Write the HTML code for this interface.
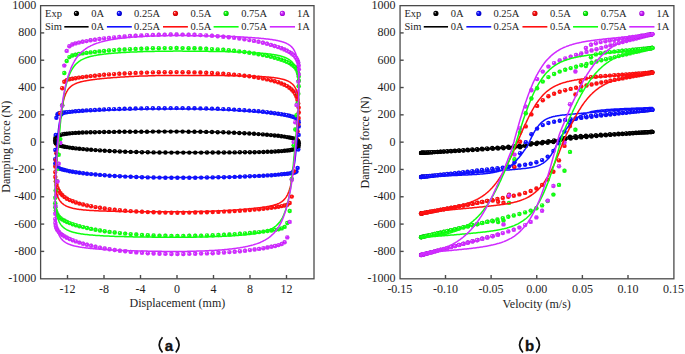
<!DOCTYPE html>
<html><head><meta charset="utf-8"><style>
html,body{margin:0;padding:0;background:#fff;}
svg{display:block;}
.tk{font-family:"Liberation Serif",serif;font-size:12px;fill:#1e1e1e;}
.lg{font-family:"Liberation Serif",serif;font-size:10.5px;fill:#1e1e1e;}
.sub{font-family:"Liberation Sans",sans-serif;font-size:15px;font-weight:bold;fill:#111;}
</style></head><body>
<svg width="685" height="354" viewBox="0 0 685 354">
<defs>
<clipPath id="cb"><rect x="400.5" y="6" width="272.8" height="272.3"/></clipPath>
<clipPath id="ca"><rect x="41" y="6" width="272.5" height="272.3"/></clipPath>
<radialGradient id="pm" cx="0.52" cy="0.55" r="0.55" fx="0.36" fy="0.33"><stop offset="0" stop-color="#f4d0ff"/><stop offset="0.28" stop-color="#cf2bff"/><stop offset="0.8" stop-color="#cf2bff"/><stop offset="1" stop-color="#9a00cc"/></radialGradient>
<radialGradient id="pg" cx="0.52" cy="0.55" r="0.55" fx="0.36" fy="0.33"><stop offset="0" stop-color="#d0ffd0"/><stop offset="0.28" stop-color="#10ff10"/><stop offset="0.8" stop-color="#10ff10"/><stop offset="1" stop-color="#00b000"/></radialGradient>
<radialGradient id="pr" cx="0.52" cy="0.55" r="0.55" fx="0.36" fy="0.33"><stop offset="0" stop-color="#ffd0d0"/><stop offset="0.28" stop-color="#ff1010"/><stop offset="0.8" stop-color="#ff1010"/><stop offset="1" stop-color="#c00000"/></radialGradient>
<radialGradient id="pb" cx="0.52" cy="0.55" r="0.55" fx="0.36" fy="0.33"><stop offset="0" stop-color="#c8c8ff"/><stop offset="0.28" stop-color="#1010ff"/><stop offset="0.8" stop-color="#1010ff"/><stop offset="1" stop-color="#0000c0"/></radialGradient>
<radialGradient id="pk" cx="0.52" cy="0.55" r="0.55" fx="0.36" fy="0.33"><stop offset="0" stop-color="#d8d8d8"/><stop offset="0.28" stop-color="#000000"/><stop offset="0.8" stop-color="#000000"/><stop offset="1" stop-color="#000000"/></radialGradient>
<radialGradient id="gk" cx="0.5" cy="0.5" r="0.5" fx="0.32" fy="0.3"><stop offset="0" stop-color="#d8d8d8"/><stop offset="0.45" stop-color="#000000"/><stop offset="1" stop-color="#000000"/></radialGradient>
<radialGradient id="gb" cx="0.5" cy="0.5" r="0.5" fx="0.32" fy="0.3"><stop offset="0" stop-color="#c8c8ff"/><stop offset="0.45" stop-color="#1010ff"/><stop offset="1" stop-color="#0000c0"/></radialGradient>
<radialGradient id="gr" cx="0.5" cy="0.5" r="0.5" fx="0.32" fy="0.3"><stop offset="0" stop-color="#ffd0d0"/><stop offset="0.45" stop-color="#ff1010"/><stop offset="1" stop-color="#c00000"/></radialGradient>
<radialGradient id="gg" cx="0.5" cy="0.5" r="0.5" fx="0.32" fy="0.3"><stop offset="0" stop-color="#d0ffd0"/><stop offset="0.45" stop-color="#10ff10"/><stop offset="1" stop-color="#00b000"/></radialGradient>
<radialGradient id="gm" cx="0.5" cy="0.5" r="0.5" fx="0.32" fy="0.3"><stop offset="0" stop-color="#f4d0ff"/><stop offset="0.45" stop-color="#cf2bff"/><stop offset="1" stop-color="#9a00cc"/></radialGradient>
</defs>
<g clip-path="url(#ca)">
<circle cx="182.6" cy="131.6" r="2.2" fill="url(#pk)"/>
<circle cx="188.6" cy="131.7" r="2.2" fill="url(#pk)"/>
<circle cx="194.5" cy="131.7" r="2.2" fill="url(#pk)"/>
<circle cx="200.4" cy="131.8" r="2.2" fill="url(#pk)"/>
<circle cx="206.2" cy="131.9" r="2.2" fill="url(#pk)"/>
<circle cx="212.0" cy="132.0" r="2.2" fill="url(#pk)"/>
<circle cx="217.7" cy="132.2" r="2.2" fill="url(#pk)"/>
<circle cx="223.3" cy="132.3" r="2.2" fill="url(#pk)"/>
<circle cx="228.8" cy="132.5" r="2.2" fill="url(#pk)"/>
<circle cx="234.1" cy="132.7" r="2.2" fill="url(#pk)"/>
<circle cx="239.3" cy="133.0" r="2.2" fill="url(#pk)"/>
<circle cx="244.4" cy="133.2" r="2.2" fill="url(#pk)"/>
<circle cx="249.3" cy="133.5" r="2.2" fill="url(#pk)"/>
<circle cx="254.0" cy="133.8" r="2.2" fill="url(#pk)"/>
<circle cx="258.5" cy="134.1" r="2.2" fill="url(#pk)"/>
<circle cx="262.9" cy="134.4" r="2.2" fill="url(#pk)"/>
<circle cx="267.0" cy="134.7" r="2.2" fill="url(#pk)"/>
<circle cx="270.9" cy="135.1" r="2.2" fill="url(#pk)"/>
<circle cx="274.6" cy="135.5" r="2.2" fill="url(#pk)"/>
<circle cx="278.1" cy="135.8" r="2.2" fill="url(#pk)"/>
<circle cx="281.3" cy="136.2" r="2.2" fill="url(#pk)"/>
<circle cx="284.3" cy="136.6" r="2.2" fill="url(#pk)"/>
<circle cx="287.0" cy="137.1" r="2.2" fill="url(#pk)"/>
<circle cx="289.4" cy="137.5" r="2.2" fill="url(#pk)"/>
<circle cx="291.6" cy="137.9" r="2.2" fill="url(#pk)"/>
<circle cx="293.5" cy="138.4" r="2.2" fill="url(#pk)"/>
<circle cx="295.1" cy="138.9" r="2.2" fill="url(#pk)"/>
<circle cx="296.4" cy="139.5" r="2.2" fill="url(#pk)"/>
<circle cx="297.4" cy="140.2" r="2.2" fill="url(#pk)"/>
<circle cx="298.2" cy="141.0" r="2.2" fill="url(#pk)"/>
<circle cx="298.7" cy="142.1" r="2.2" fill="url(#pk)"/>
<circle cx="298.8" cy="143.6" r="2.2" fill="url(#pk)"/>
<circle cx="298.7" cy="145.6" r="2.2" fill="url(#pk)"/>
<circle cx="298.3" cy="147.4" r="2.2" fill="url(#pk)"/>
<circle cx="297.6" cy="147.9" r="2.2" fill="url(#pk)"/>
<circle cx="296.5" cy="148.5" r="2.2" fill="url(#pk)"/>
<circle cx="295.3" cy="148.9" r="2.2" fill="url(#pk)"/>
<circle cx="293.7" cy="149.4" r="2.2" fill="url(#pk)"/>
<circle cx="291.8" cy="149.8" r="2.2" fill="url(#pk)"/>
<circle cx="289.7" cy="150.2" r="2.2" fill="url(#pk)"/>
<circle cx="287.3" cy="150.5" r="2.2" fill="url(#pk)"/>
<circle cx="284.6" cy="150.8" r="2.2" fill="url(#pk)"/>
<circle cx="281.7" cy="151.1" r="2.2" fill="url(#pk)"/>
<circle cx="278.5" cy="151.3" r="2.2" fill="url(#pk)"/>
<circle cx="275.1" cy="151.5" r="2.2" fill="url(#pk)"/>
<circle cx="271.4" cy="151.7" r="2.2" fill="url(#pk)"/>
<circle cx="267.5" cy="151.8" r="2.2" fill="url(#pk)"/>
<circle cx="263.4" cy="152.0" r="2.2" fill="url(#pk)"/>
<circle cx="259.1" cy="152.1" r="2.2" fill="url(#pk)"/>
<circle cx="254.6" cy="152.2" r="2.2" fill="url(#pk)"/>
<circle cx="249.9" cy="152.2" r="2.2" fill="url(#pk)"/>
<circle cx="245.0" cy="152.3" r="2.2" fill="url(#pk)"/>
<circle cx="239.9" cy="152.3" r="2.2" fill="url(#pk)"/>
<circle cx="234.7" cy="152.4" r="2.2" fill="url(#pk)"/>
<circle cx="229.4" cy="152.4" r="2.2" fill="url(#pk)"/>
<circle cx="224.0" cy="152.5" r="2.2" fill="url(#pk)"/>
<circle cx="218.4" cy="152.5" r="2.2" fill="url(#pk)"/>
<circle cx="212.7" cy="152.5" r="2.2" fill="url(#pk)"/>
<circle cx="207.0" cy="152.5" r="2.2" fill="url(#pk)"/>
<circle cx="201.1" cy="152.6" r="2.2" fill="url(#pk)"/>
<circle cx="195.2" cy="152.6" r="2.2" fill="url(#pk)"/>
<circle cx="189.3" cy="152.6" r="2.2" fill="url(#pk)"/>
<circle cx="183.3" cy="152.6" r="2.2" fill="url(#pk)"/>
<circle cx="177.4" cy="152.6" r="2.2" fill="url(#pk)"/>
<circle cx="171.4" cy="152.6" r="2.2" fill="url(#pk)"/>
<circle cx="165.4" cy="152.5" r="2.2" fill="url(#pk)"/>
<circle cx="159.5" cy="152.5" r="2.2" fill="url(#pk)"/>
<circle cx="153.6" cy="152.4" r="2.2" fill="url(#pk)"/>
<circle cx="147.8" cy="152.3" r="2.2" fill="url(#pk)"/>
<circle cx="142.0" cy="152.2" r="2.2" fill="url(#pk)"/>
<circle cx="136.3" cy="152.0" r="2.2" fill="url(#pk)"/>
<circle cx="130.7" cy="151.9" r="2.2" fill="url(#pk)"/>
<circle cx="125.2" cy="151.7" r="2.2" fill="url(#pk)"/>
<circle cx="119.9" cy="151.5" r="2.2" fill="url(#pk)"/>
<circle cx="114.7" cy="151.2" r="2.2" fill="url(#pk)"/>
<circle cx="109.6" cy="151.0" r="2.2" fill="url(#pk)"/>
<circle cx="104.7" cy="150.7" r="2.2" fill="url(#pk)"/>
<circle cx="100.0" cy="150.4" r="2.2" fill="url(#pk)"/>
<circle cx="95.5" cy="150.1" r="2.2" fill="url(#pk)"/>
<circle cx="91.1" cy="149.8" r="2.2" fill="url(#pk)"/>
<circle cx="87.0" cy="149.5" r="2.2" fill="url(#pk)"/>
<circle cx="83.1" cy="149.1" r="2.2" fill="url(#pk)"/>
<circle cx="79.4" cy="148.8" r="2.2" fill="url(#pk)"/>
<circle cx="75.9" cy="148.4" r="2.2" fill="url(#pk)"/>
<circle cx="72.7" cy="148.0" r="2.2" fill="url(#pk)"/>
<circle cx="69.7" cy="147.6" r="2.2" fill="url(#pk)"/>
<circle cx="67.0" cy="147.1" r="2.2" fill="url(#pk)"/>
<circle cx="64.6" cy="146.7" r="2.2" fill="url(#pk)"/>
<circle cx="62.4" cy="146.3" r="2.2" fill="url(#pk)"/>
<circle cx="60.5" cy="145.8" r="2.2" fill="url(#pk)"/>
<circle cx="58.9" cy="145.3" r="2.2" fill="url(#pk)"/>
<circle cx="57.6" cy="144.7" r="2.2" fill="url(#pk)"/>
<circle cx="56.6" cy="144.1" r="2.2" fill="url(#pk)"/>
<circle cx="55.8" cy="143.2" r="2.2" fill="url(#pk)"/>
<circle cx="55.3" cy="142.1" r="2.2" fill="url(#pk)"/>
<circle cx="55.2" cy="140.6" r="2.2" fill="url(#pk)"/>
<circle cx="55.3" cy="138.7" r="2.2" fill="url(#pk)"/>
<circle cx="55.7" cy="136.9" r="2.2" fill="url(#pk)"/>
<circle cx="56.4" cy="136.4" r="2.2" fill="url(#pk)"/>
<circle cx="57.5" cy="135.8" r="2.2" fill="url(#pk)"/>
<circle cx="58.7" cy="135.3" r="2.2" fill="url(#pk)"/>
<circle cx="60.3" cy="134.9" r="2.2" fill="url(#pk)"/>
<circle cx="62.2" cy="134.4" r="2.2" fill="url(#pk)"/>
<circle cx="64.3" cy="134.0" r="2.2" fill="url(#pk)"/>
<circle cx="66.7" cy="133.7" r="2.2" fill="url(#pk)"/>
<circle cx="69.4" cy="133.4" r="2.2" fill="url(#pk)"/>
<circle cx="72.3" cy="133.1" r="2.2" fill="url(#pk)"/>
<circle cx="75.5" cy="132.9" r="2.2" fill="url(#pk)"/>
<circle cx="78.9" cy="132.7" r="2.2" fill="url(#pk)"/>
<circle cx="82.6" cy="132.5" r="2.2" fill="url(#pk)"/>
<circle cx="86.5" cy="132.4" r="2.2" fill="url(#pk)"/>
<circle cx="90.6" cy="132.3" r="2.2" fill="url(#pk)"/>
<circle cx="94.9" cy="132.2" r="2.2" fill="url(#pk)"/>
<circle cx="99.4" cy="132.1" r="2.2" fill="url(#pk)"/>
<circle cx="104.1" cy="132.0" r="2.2" fill="url(#pk)"/>
<circle cx="109.0" cy="131.9" r="2.2" fill="url(#pk)"/>
<circle cx="114.1" cy="131.9" r="2.2" fill="url(#pk)"/>
<circle cx="119.3" cy="131.8" r="2.2" fill="url(#pk)"/>
<circle cx="124.6" cy="131.8" r="2.2" fill="url(#pk)"/>
<circle cx="130.0" cy="131.7" r="2.2" fill="url(#pk)"/>
<circle cx="135.6" cy="131.7" r="2.2" fill="url(#pk)"/>
<circle cx="141.3" cy="131.7" r="2.2" fill="url(#pk)"/>
<circle cx="147.0" cy="131.7" r="2.2" fill="url(#pk)"/>
<circle cx="152.9" cy="131.6" r="2.2" fill="url(#pk)"/>
<circle cx="158.8" cy="131.6" r="2.2" fill="url(#pk)"/>
<circle cx="164.7" cy="131.6" r="2.2" fill="url(#pk)"/>
<circle cx="170.7" cy="131.6" r="2.2" fill="url(#pk)"/>
<circle cx="176.6" cy="131.6" r="2.2" fill="url(#pk)"/>
<circle cx="182.6" cy="108.1" r="2.2" fill="url(#pb)"/>
<circle cx="188.6" cy="108.2" r="2.2" fill="url(#pb)"/>
<circle cx="194.5" cy="108.3" r="2.2" fill="url(#pb)"/>
<circle cx="200.4" cy="108.4" r="2.2" fill="url(#pb)"/>
<circle cx="206.2" cy="108.5" r="2.2" fill="url(#pb)"/>
<circle cx="212.0" cy="108.6" r="2.2" fill="url(#pb)"/>
<circle cx="217.7" cy="108.8" r="2.2" fill="url(#pb)"/>
<circle cx="223.3" cy="109.1" r="2.2" fill="url(#pb)"/>
<circle cx="228.8" cy="109.3" r="2.2" fill="url(#pb)"/>
<circle cx="234.1" cy="109.6" r="2.2" fill="url(#pb)"/>
<circle cx="239.3" cy="109.9" r="2.2" fill="url(#pb)"/>
<circle cx="244.4" cy="110.2" r="2.2" fill="url(#pb)"/>
<circle cx="249.3" cy="110.6" r="2.2" fill="url(#pb)"/>
<circle cx="254.0" cy="110.9" r="2.2" fill="url(#pb)"/>
<circle cx="258.5" cy="111.3" r="2.2" fill="url(#pb)"/>
<circle cx="262.9" cy="111.8" r="2.2" fill="url(#pb)"/>
<circle cx="267.0" cy="112.2" r="2.2" fill="url(#pb)"/>
<circle cx="270.9" cy="112.7" r="2.2" fill="url(#pb)"/>
<circle cx="274.6" cy="113.2" r="2.2" fill="url(#pb)"/>
<circle cx="278.1" cy="113.7" r="2.2" fill="url(#pb)"/>
<circle cx="281.3" cy="114.2" r="2.2" fill="url(#pb)"/>
<circle cx="284.3" cy="114.7" r="2.2" fill="url(#pb)"/>
<circle cx="287.0" cy="115.3" r="2.2" fill="url(#pb)"/>
<circle cx="289.4" cy="115.8" r="2.2" fill="url(#pb)"/>
<circle cx="291.6" cy="116.4" r="2.2" fill="url(#pb)"/>
<circle cx="293.5" cy="117.0" r="2.2" fill="url(#pb)"/>
<circle cx="295.1" cy="117.6" r="2.2" fill="url(#pb)"/>
<circle cx="296.4" cy="118.3" r="2.2" fill="url(#pb)"/>
<circle cx="297.4" cy="119.0" r="2.2" fill="url(#pb)"/>
<circle cx="298.2" cy="120.2" r="2.2" fill="url(#pb)"/>
<circle cx="298.7" cy="122.2" r="2.2" fill="url(#pb)"/>
<circle cx="298.8" cy="126.4" r="2.2" fill="url(#pb)"/>
<circle cx="298.7" cy="134.9" r="2.2" fill="url(#pb)"/>
<circle cx="298.3" cy="149.6" r="2.2" fill="url(#pb)"/>
<circle cx="297.6" cy="167.9" r="2.2" fill="url(#pb)"/>
<circle cx="296.5" cy="171.6" r="2.2" fill="url(#pb)"/>
<circle cx="295.3" cy="172.3" r="2.2" fill="url(#pb)"/>
<circle cx="293.7" cy="172.7" r="2.2" fill="url(#pb)"/>
<circle cx="291.8" cy="173.1" r="2.2" fill="url(#pb)"/>
<circle cx="289.7" cy="173.4" r="2.2" fill="url(#pb)"/>
<circle cx="287.3" cy="173.7" r="2.2" fill="url(#pb)"/>
<circle cx="284.6" cy="174.0" r="2.2" fill="url(#pb)"/>
<circle cx="281.7" cy="174.3" r="2.2" fill="url(#pb)"/>
<circle cx="278.5" cy="174.6" r="2.2" fill="url(#pb)"/>
<circle cx="275.1" cy="174.9" r="2.2" fill="url(#pb)"/>
<circle cx="271.4" cy="175.2" r="2.2" fill="url(#pb)"/>
<circle cx="267.5" cy="175.4" r="2.2" fill="url(#pb)"/>
<circle cx="263.4" cy="175.7" r="2.2" fill="url(#pb)"/>
<circle cx="259.1" cy="175.9" r="2.2" fill="url(#pb)"/>
<circle cx="254.6" cy="176.1" r="2.2" fill="url(#pb)"/>
<circle cx="249.9" cy="176.3" r="2.2" fill="url(#pb)"/>
<circle cx="245.0" cy="176.5" r="2.2" fill="url(#pb)"/>
<circle cx="239.9" cy="176.7" r="2.2" fill="url(#pb)"/>
<circle cx="234.7" cy="176.9" r="2.2" fill="url(#pb)"/>
<circle cx="229.4" cy="177.1" r="2.2" fill="url(#pb)"/>
<circle cx="224.0" cy="177.2" r="2.2" fill="url(#pb)"/>
<circle cx="218.4" cy="177.3" r="2.2" fill="url(#pb)"/>
<circle cx="212.7" cy="177.4" r="2.2" fill="url(#pb)"/>
<circle cx="207.0" cy="177.5" r="2.2" fill="url(#pb)"/>
<circle cx="201.1" cy="177.6" r="2.2" fill="url(#pb)"/>
<circle cx="195.2" cy="177.7" r="2.2" fill="url(#pb)"/>
<circle cx="189.3" cy="177.7" r="2.2" fill="url(#pb)"/>
<circle cx="183.3" cy="177.7" r="2.2" fill="url(#pb)"/>
<circle cx="177.4" cy="177.7" r="2.2" fill="url(#pb)"/>
<circle cx="171.4" cy="177.7" r="2.2" fill="url(#pb)"/>
<circle cx="165.4" cy="177.7" r="2.2" fill="url(#pb)"/>
<circle cx="159.5" cy="177.6" r="2.2" fill="url(#pb)"/>
<circle cx="153.6" cy="177.5" r="2.2" fill="url(#pb)"/>
<circle cx="147.8" cy="177.4" r="2.2" fill="url(#pb)"/>
<circle cx="142.0" cy="177.2" r="2.2" fill="url(#pb)"/>
<circle cx="136.3" cy="177.0" r="2.2" fill="url(#pb)"/>
<circle cx="130.7" cy="176.8" r="2.2" fill="url(#pb)"/>
<circle cx="125.2" cy="176.6" r="2.2" fill="url(#pb)"/>
<circle cx="119.9" cy="176.3" r="2.2" fill="url(#pb)"/>
<circle cx="114.7" cy="176.0" r="2.2" fill="url(#pb)"/>
<circle cx="109.6" cy="175.7" r="2.2" fill="url(#pb)"/>
<circle cx="104.7" cy="175.3" r="2.2" fill="url(#pb)"/>
<circle cx="100.0" cy="174.9" r="2.2" fill="url(#pb)"/>
<circle cx="95.5" cy="174.5" r="2.2" fill="url(#pb)"/>
<circle cx="91.1" cy="174.1" r="2.2" fill="url(#pb)"/>
<circle cx="87.0" cy="173.7" r="2.2" fill="url(#pb)"/>
<circle cx="83.1" cy="173.2" r="2.2" fill="url(#pb)"/>
<circle cx="79.4" cy="172.7" r="2.2" fill="url(#pb)"/>
<circle cx="75.9" cy="172.2" r="2.2" fill="url(#pb)"/>
<circle cx="72.7" cy="171.7" r="2.2" fill="url(#pb)"/>
<circle cx="69.7" cy="171.2" r="2.2" fill="url(#pb)"/>
<circle cx="67.0" cy="170.6" r="2.2" fill="url(#pb)"/>
<circle cx="64.6" cy="170.0" r="2.2" fill="url(#pb)"/>
<circle cx="62.4" cy="169.5" r="2.2" fill="url(#pb)"/>
<circle cx="60.5" cy="168.9" r="2.2" fill="url(#pb)"/>
<circle cx="58.9" cy="168.3" r="2.2" fill="url(#pb)"/>
<circle cx="57.6" cy="167.6" r="2.2" fill="url(#pb)"/>
<circle cx="56.6" cy="166.8" r="2.2" fill="url(#pb)"/>
<circle cx="55.8" cy="165.7" r="2.2" fill="url(#pb)"/>
<circle cx="55.3" cy="163.5" r="2.2" fill="url(#pb)"/>
<circle cx="55.2" cy="159.1" r="2.2" fill="url(#pb)"/>
<circle cx="55.3" cy="150.0" r="2.2" fill="url(#pb)"/>
<circle cx="55.7" cy="134.9" r="2.2" fill="url(#pb)"/>
<circle cx="56.4" cy="117.7" r="2.2" fill="url(#pb)"/>
<circle cx="57.5" cy="114.2" r="2.2" fill="url(#pb)"/>
<circle cx="58.7" cy="113.5" r="2.2" fill="url(#pb)"/>
<circle cx="60.3" cy="113.1" r="2.2" fill="url(#pb)"/>
<circle cx="62.2" cy="112.8" r="2.2" fill="url(#pb)"/>
<circle cx="64.3" cy="112.5" r="2.2" fill="url(#pb)"/>
<circle cx="66.7" cy="112.2" r="2.2" fill="url(#pb)"/>
<circle cx="69.4" cy="111.9" r="2.2" fill="url(#pb)"/>
<circle cx="72.3" cy="111.6" r="2.2" fill="url(#pb)"/>
<circle cx="75.5" cy="111.3" r="2.2" fill="url(#pb)"/>
<circle cx="78.9" cy="111.0" r="2.2" fill="url(#pb)"/>
<circle cx="82.6" cy="110.7" r="2.2" fill="url(#pb)"/>
<circle cx="86.5" cy="110.4" r="2.2" fill="url(#pb)"/>
<circle cx="90.6" cy="110.2" r="2.2" fill="url(#pb)"/>
<circle cx="94.9" cy="110.0" r="2.2" fill="url(#pb)"/>
<circle cx="99.4" cy="109.7" r="2.2" fill="url(#pb)"/>
<circle cx="104.1" cy="109.5" r="2.2" fill="url(#pb)"/>
<circle cx="109.0" cy="109.3" r="2.2" fill="url(#pb)"/>
<circle cx="114.1" cy="109.1" r="2.2" fill="url(#pb)"/>
<circle cx="119.3" cy="109.0" r="2.2" fill="url(#pb)"/>
<circle cx="124.6" cy="108.8" r="2.2" fill="url(#pb)"/>
<circle cx="130.0" cy="108.7" r="2.2" fill="url(#pb)"/>
<circle cx="135.6" cy="108.5" r="2.2" fill="url(#pb)"/>
<circle cx="141.3" cy="108.4" r="2.2" fill="url(#pb)"/>
<circle cx="147.0" cy="108.3" r="2.2" fill="url(#pb)"/>
<circle cx="152.9" cy="108.3" r="2.2" fill="url(#pb)"/>
<circle cx="158.8" cy="108.2" r="2.2" fill="url(#pb)"/>
<circle cx="164.7" cy="108.2" r="2.2" fill="url(#pb)"/>
<circle cx="170.7" cy="108.1" r="2.2" fill="url(#pb)"/>
<circle cx="176.6" cy="108.1" r="2.2" fill="url(#pb)"/>
<circle cx="182.6" cy="72.2" r="2.2" fill="url(#pr)"/>
<circle cx="188.6" cy="72.2" r="2.2" fill="url(#pr)"/>
<circle cx="194.5" cy="72.4" r="2.2" fill="url(#pr)"/>
<circle cx="200.4" cy="72.5" r="2.2" fill="url(#pr)"/>
<circle cx="206.2" cy="72.8" r="2.2" fill="url(#pr)"/>
<circle cx="212.0" cy="73.0" r="2.2" fill="url(#pr)"/>
<circle cx="217.7" cy="73.4" r="2.2" fill="url(#pr)"/>
<circle cx="223.3" cy="73.7" r="2.2" fill="url(#pr)"/>
<circle cx="228.8" cy="74.2" r="2.2" fill="url(#pr)"/>
<circle cx="234.1" cy="74.6" r="2.2" fill="url(#pr)"/>
<circle cx="239.3" cy="75.1" r="2.2" fill="url(#pr)"/>
<circle cx="244.4" cy="75.7" r="2.2" fill="url(#pr)"/>
<circle cx="249.3" cy="76.3" r="2.2" fill="url(#pr)"/>
<circle cx="254.0" cy="77.0" r="2.2" fill="url(#pr)"/>
<circle cx="258.5" cy="77.7" r="2.2" fill="url(#pr)"/>
<circle cx="262.9" cy="78.5" r="2.2" fill="url(#pr)"/>
<circle cx="267.0" cy="79.4" r="2.2" fill="url(#pr)"/>
<circle cx="270.9" cy="80.3" r="2.2" fill="url(#pr)"/>
<circle cx="274.6" cy="81.3" r="2.2" fill="url(#pr)"/>
<circle cx="278.1" cy="82.3" r="2.2" fill="url(#pr)"/>
<circle cx="281.3" cy="83.5" r="2.2" fill="url(#pr)"/>
<circle cx="284.3" cy="84.7" r="2.2" fill="url(#pr)"/>
<circle cx="287.0" cy="86.1" r="2.2" fill="url(#pr)"/>
<circle cx="289.4" cy="87.7" r="2.2" fill="url(#pr)"/>
<circle cx="291.6" cy="89.5" r="2.2" fill="url(#pr)"/>
<circle cx="293.5" cy="91.5" r="2.2" fill="url(#pr)"/>
<circle cx="295.1" cy="93.8" r="2.2" fill="url(#pr)"/>
<circle cx="296.4" cy="96.5" r="2.2" fill="url(#pr)"/>
<circle cx="297.4" cy="99.7" r="2.2" fill="url(#pr)"/>
<circle cx="298.2" cy="103.4" r="2.2" fill="url(#pr)"/>
<circle cx="298.7" cy="107.6" r="2.2" fill="url(#pr)"/>
<circle cx="298.8" cy="112.5" r="2.2" fill="url(#pr)"/>
<circle cx="298.7" cy="118.1" r="2.2" fill="url(#pr)"/>
<circle cx="298.3" cy="124.4" r="2.2" fill="url(#pr)"/>
<circle cx="297.6" cy="131.2" r="2.2" fill="url(#pr)"/>
<circle cx="296.5" cy="138.5" r="2.2" fill="url(#pr)"/>
<circle cx="295.3" cy="146.0" r="2.2" fill="url(#pr)"/>
<circle cx="293.7" cy="171.2" r="2.2" fill="url(#pr)"/>
<circle cx="291.8" cy="196.6" r="2.2" fill="url(#pr)"/>
<circle cx="289.7" cy="203.0" r="2.2" fill="url(#pr)"/>
<circle cx="287.3" cy="204.7" r="2.2" fill="url(#pr)"/>
<circle cx="284.6" cy="205.5" r="2.2" fill="url(#pr)"/>
<circle cx="281.7" cy="206.1" r="2.2" fill="url(#pr)"/>
<circle cx="278.5" cy="206.7" r="2.2" fill="url(#pr)"/>
<circle cx="275.1" cy="207.2" r="2.2" fill="url(#pr)"/>
<circle cx="271.4" cy="207.7" r="2.2" fill="url(#pr)"/>
<circle cx="267.5" cy="208.2" r="2.2" fill="url(#pr)"/>
<circle cx="263.4" cy="208.7" r="2.2" fill="url(#pr)"/>
<circle cx="259.1" cy="209.2" r="2.2" fill="url(#pr)"/>
<circle cx="254.6" cy="209.6" r="2.2" fill="url(#pr)"/>
<circle cx="249.9" cy="210.0" r="2.2" fill="url(#pr)"/>
<circle cx="245.0" cy="210.4" r="2.2" fill="url(#pr)"/>
<circle cx="239.9" cy="210.7" r="2.2" fill="url(#pr)"/>
<circle cx="234.7" cy="211.1" r="2.2" fill="url(#pr)"/>
<circle cx="229.4" cy="211.4" r="2.2" fill="url(#pr)"/>
<circle cx="224.0" cy="211.6" r="2.2" fill="url(#pr)"/>
<circle cx="218.4" cy="211.9" r="2.2" fill="url(#pr)"/>
<circle cx="212.7" cy="212.1" r="2.2" fill="url(#pr)"/>
<circle cx="207.0" cy="212.3" r="2.2" fill="url(#pr)"/>
<circle cx="201.1" cy="212.4" r="2.2" fill="url(#pr)"/>
<circle cx="195.2" cy="212.5" r="2.2" fill="url(#pr)"/>
<circle cx="189.3" cy="212.6" r="2.2" fill="url(#pr)"/>
<circle cx="183.3" cy="212.7" r="2.2" fill="url(#pr)"/>
<circle cx="177.4" cy="212.7" r="2.2" fill="url(#pr)"/>
<circle cx="171.4" cy="212.7" r="2.2" fill="url(#pr)"/>
<circle cx="165.4" cy="212.6" r="2.2" fill="url(#pr)"/>
<circle cx="159.5" cy="212.5" r="2.2" fill="url(#pr)"/>
<circle cx="153.6" cy="212.3" r="2.2" fill="url(#pr)"/>
<circle cx="147.8" cy="212.1" r="2.2" fill="url(#pr)"/>
<circle cx="142.0" cy="211.8" r="2.2" fill="url(#pr)"/>
<circle cx="136.3" cy="211.5" r="2.2" fill="url(#pr)"/>
<circle cx="130.7" cy="211.1" r="2.2" fill="url(#pr)"/>
<circle cx="125.2" cy="210.7" r="2.2" fill="url(#pr)"/>
<circle cx="119.9" cy="210.2" r="2.2" fill="url(#pr)"/>
<circle cx="114.7" cy="209.7" r="2.2" fill="url(#pr)"/>
<circle cx="109.6" cy="209.1" r="2.2" fill="url(#pr)"/>
<circle cx="104.7" cy="208.5" r="2.2" fill="url(#pr)"/>
<circle cx="100.0" cy="207.8" r="2.2" fill="url(#pr)"/>
<circle cx="95.5" cy="207.1" r="2.2" fill="url(#pr)"/>
<circle cx="91.1" cy="206.3" r="2.2" fill="url(#pr)"/>
<circle cx="87.0" cy="205.5" r="2.2" fill="url(#pr)"/>
<circle cx="83.1" cy="204.5" r="2.2" fill="url(#pr)"/>
<circle cx="79.4" cy="203.6" r="2.2" fill="url(#pr)"/>
<circle cx="75.9" cy="202.5" r="2.2" fill="url(#pr)"/>
<circle cx="72.7" cy="201.3" r="2.2" fill="url(#pr)"/>
<circle cx="69.7" cy="200.1" r="2.2" fill="url(#pr)"/>
<circle cx="67.0" cy="198.7" r="2.2" fill="url(#pr)"/>
<circle cx="64.6" cy="197.1" r="2.2" fill="url(#pr)"/>
<circle cx="62.4" cy="195.3" r="2.2" fill="url(#pr)"/>
<circle cx="60.5" cy="193.3" r="2.2" fill="url(#pr)"/>
<circle cx="58.9" cy="190.9" r="2.2" fill="url(#pr)"/>
<circle cx="57.6" cy="188.2" r="2.2" fill="url(#pr)"/>
<circle cx="56.6" cy="185.0" r="2.2" fill="url(#pr)"/>
<circle cx="55.8" cy="181.3" r="2.2" fill="url(#pr)"/>
<circle cx="55.3" cy="177.0" r="2.2" fill="url(#pr)"/>
<circle cx="55.2" cy="172.1" r="2.2" fill="url(#pr)"/>
<circle cx="55.3" cy="166.4" r="2.2" fill="url(#pr)"/>
<circle cx="55.7" cy="160.1" r="2.2" fill="url(#pr)"/>
<circle cx="56.4" cy="153.3" r="2.2" fill="url(#pr)"/>
<circle cx="57.5" cy="145.9" r="2.2" fill="url(#pr)"/>
<circle cx="58.7" cy="138.4" r="2.2" fill="url(#pr)"/>
<circle cx="60.3" cy="113.3" r="2.2" fill="url(#pr)"/>
<circle cx="62.2" cy="88.2" r="2.2" fill="url(#pr)"/>
<circle cx="64.3" cy="81.8" r="2.2" fill="url(#pr)"/>
<circle cx="66.7" cy="80.1" r="2.2" fill="url(#pr)"/>
<circle cx="69.4" cy="79.3" r="2.2" fill="url(#pr)"/>
<circle cx="72.3" cy="78.7" r="2.2" fill="url(#pr)"/>
<circle cx="75.5" cy="78.2" r="2.2" fill="url(#pr)"/>
<circle cx="78.9" cy="77.6" r="2.2" fill="url(#pr)"/>
<circle cx="82.6" cy="77.1" r="2.2" fill="url(#pr)"/>
<circle cx="86.5" cy="76.6" r="2.2" fill="url(#pr)"/>
<circle cx="90.6" cy="76.1" r="2.2" fill="url(#pr)"/>
<circle cx="94.9" cy="75.7" r="2.2" fill="url(#pr)"/>
<circle cx="99.4" cy="75.2" r="2.2" fill="url(#pr)"/>
<circle cx="104.1" cy="74.8" r="2.2" fill="url(#pr)"/>
<circle cx="109.0" cy="74.4" r="2.2" fill="url(#pr)"/>
<circle cx="114.1" cy="74.1" r="2.2" fill="url(#pr)"/>
<circle cx="119.3" cy="73.8" r="2.2" fill="url(#pr)"/>
<circle cx="124.6" cy="73.5" r="2.2" fill="url(#pr)"/>
<circle cx="130.0" cy="73.2" r="2.2" fill="url(#pr)"/>
<circle cx="135.6" cy="72.9" r="2.2" fill="url(#pr)"/>
<circle cx="141.3" cy="72.7" r="2.2" fill="url(#pr)"/>
<circle cx="147.0" cy="72.6" r="2.2" fill="url(#pr)"/>
<circle cx="152.9" cy="72.4" r="2.2" fill="url(#pr)"/>
<circle cx="158.8" cy="72.3" r="2.2" fill="url(#pr)"/>
<circle cx="164.7" cy="72.2" r="2.2" fill="url(#pr)"/>
<circle cx="170.7" cy="72.2" r="2.2" fill="url(#pr)"/>
<circle cx="176.6" cy="72.1" r="2.2" fill="url(#pr)"/>
<circle cx="182.6" cy="48.1" r="2.2" fill="url(#pg)"/>
<circle cx="188.6" cy="48.2" r="2.2" fill="url(#pg)"/>
<circle cx="194.5" cy="48.3" r="2.2" fill="url(#pg)"/>
<circle cx="200.4" cy="48.5" r="2.2" fill="url(#pg)"/>
<circle cx="206.2" cy="48.7" r="2.2" fill="url(#pg)"/>
<circle cx="212.0" cy="49.1" r="2.2" fill="url(#pg)"/>
<circle cx="217.7" cy="49.4" r="2.2" fill="url(#pg)"/>
<circle cx="223.3" cy="49.8" r="2.2" fill="url(#pg)"/>
<circle cx="228.8" cy="50.3" r="2.2" fill="url(#pg)"/>
<circle cx="234.1" cy="50.8" r="2.2" fill="url(#pg)"/>
<circle cx="239.3" cy="51.4" r="2.2" fill="url(#pg)"/>
<circle cx="244.4" cy="52.0" r="2.2" fill="url(#pg)"/>
<circle cx="249.3" cy="52.7" r="2.2" fill="url(#pg)"/>
<circle cx="254.0" cy="53.4" r="2.2" fill="url(#pg)"/>
<circle cx="258.5" cy="54.2" r="2.2" fill="url(#pg)"/>
<circle cx="262.9" cy="55.0" r="2.2" fill="url(#pg)"/>
<circle cx="267.0" cy="55.9" r="2.2" fill="url(#pg)"/>
<circle cx="270.9" cy="56.8" r="2.2" fill="url(#pg)"/>
<circle cx="274.6" cy="57.7" r="2.2" fill="url(#pg)"/>
<circle cx="278.1" cy="58.7" r="2.2" fill="url(#pg)"/>
<circle cx="281.3" cy="59.7" r="2.2" fill="url(#pg)"/>
<circle cx="284.3" cy="60.8" r="2.2" fill="url(#pg)"/>
<circle cx="287.0" cy="61.9" r="2.2" fill="url(#pg)"/>
<circle cx="289.4" cy="63.1" r="2.2" fill="url(#pg)"/>
<circle cx="291.6" cy="64.4" r="2.2" fill="url(#pg)"/>
<circle cx="293.5" cy="65.7" r="2.2" fill="url(#pg)"/>
<circle cx="295.1" cy="67.2" r="2.2" fill="url(#pg)"/>
<circle cx="296.4" cy="68.9" r="2.2" fill="url(#pg)"/>
<circle cx="297.4" cy="71.0" r="2.2" fill="url(#pg)"/>
<circle cx="298.2" cy="73.5" r="2.2" fill="url(#pg)"/>
<circle cx="298.7" cy="76.6" r="2.2" fill="url(#pg)"/>
<circle cx="298.8" cy="80.8" r="2.2" fill="url(#pg)"/>
<circle cx="298.7" cy="86.3" r="2.2" fill="url(#pg)"/>
<circle cx="298.3" cy="93.7" r="2.2" fill="url(#pg)"/>
<circle cx="297.6" cy="103.2" r="2.2" fill="url(#pg)"/>
<circle cx="296.5" cy="115.2" r="2.2" fill="url(#pg)"/>
<circle cx="295.3" cy="129.5" r="2.2" fill="url(#pg)"/>
<circle cx="293.7" cy="145.2" r="2.2" fill="url(#pg)"/>
<circle cx="291.8" cy="178.9" r="2.2" fill="url(#pg)"/>
<circle cx="289.7" cy="211.0" r="2.2" fill="url(#pg)"/>
<circle cx="287.3" cy="223.0" r="2.2" fill="url(#pg)"/>
<circle cx="284.6" cy="226.9" r="2.2" fill="url(#pg)"/>
<circle cx="281.7" cy="228.4" r="2.2" fill="url(#pg)"/>
<circle cx="278.5" cy="229.2" r="2.2" fill="url(#pg)"/>
<circle cx="275.1" cy="229.9" r="2.2" fill="url(#pg)"/>
<circle cx="271.4" cy="230.5" r="2.2" fill="url(#pg)"/>
<circle cx="267.5" cy="231.0" r="2.2" fill="url(#pg)"/>
<circle cx="263.4" cy="231.6" r="2.2" fill="url(#pg)"/>
<circle cx="259.1" cy="232.1" r="2.2" fill="url(#pg)"/>
<circle cx="254.6" cy="232.5" r="2.2" fill="url(#pg)"/>
<circle cx="249.9" cy="233.0" r="2.2" fill="url(#pg)"/>
<circle cx="245.0" cy="233.4" r="2.2" fill="url(#pg)"/>
<circle cx="239.9" cy="233.8" r="2.2" fill="url(#pg)"/>
<circle cx="234.7" cy="234.1" r="2.2" fill="url(#pg)"/>
<circle cx="229.4" cy="234.5" r="2.2" fill="url(#pg)"/>
<circle cx="224.0" cy="234.7" r="2.2" fill="url(#pg)"/>
<circle cx="218.4" cy="235.0" r="2.2" fill="url(#pg)"/>
<circle cx="212.7" cy="235.2" r="2.2" fill="url(#pg)"/>
<circle cx="207.0" cy="235.4" r="2.2" fill="url(#pg)"/>
<circle cx="201.1" cy="235.6" r="2.2" fill="url(#pg)"/>
<circle cx="195.2" cy="235.7" r="2.2" fill="url(#pg)"/>
<circle cx="189.3" cy="235.8" r="2.2" fill="url(#pg)"/>
<circle cx="183.3" cy="235.9" r="2.2" fill="url(#pg)"/>
<circle cx="177.4" cy="235.9" r="2.2" fill="url(#pg)"/>
<circle cx="171.4" cy="235.9" r="2.2" fill="url(#pg)"/>
<circle cx="165.4" cy="235.8" r="2.2" fill="url(#pg)"/>
<circle cx="159.5" cy="235.6" r="2.2" fill="url(#pg)"/>
<circle cx="153.6" cy="235.4" r="2.2" fill="url(#pg)"/>
<circle cx="147.8" cy="235.2" r="2.2" fill="url(#pg)"/>
<circle cx="142.0" cy="234.9" r="2.2" fill="url(#pg)"/>
<circle cx="136.3" cy="234.5" r="2.2" fill="url(#pg)"/>
<circle cx="130.7" cy="234.1" r="2.2" fill="url(#pg)"/>
<circle cx="125.2" cy="233.6" r="2.2" fill="url(#pg)"/>
<circle cx="119.9" cy="233.1" r="2.2" fill="url(#pg)"/>
<circle cx="114.7" cy="232.5" r="2.2" fill="url(#pg)"/>
<circle cx="109.6" cy="231.9" r="2.2" fill="url(#pg)"/>
<circle cx="104.7" cy="231.2" r="2.2" fill="url(#pg)"/>
<circle cx="100.0" cy="230.5" r="2.2" fill="url(#pg)"/>
<circle cx="95.5" cy="229.7" r="2.2" fill="url(#pg)"/>
<circle cx="91.1" cy="228.9" r="2.2" fill="url(#pg)"/>
<circle cx="87.0" cy="228.0" r="2.2" fill="url(#pg)"/>
<circle cx="83.1" cy="227.1" r="2.2" fill="url(#pg)"/>
<circle cx="79.4" cy="226.2" r="2.2" fill="url(#pg)"/>
<circle cx="75.9" cy="225.2" r="2.2" fill="url(#pg)"/>
<circle cx="72.7" cy="224.2" r="2.2" fill="url(#pg)"/>
<circle cx="69.7" cy="223.1" r="2.2" fill="url(#pg)"/>
<circle cx="67.0" cy="222.0" r="2.2" fill="url(#pg)"/>
<circle cx="64.6" cy="220.8" r="2.2" fill="url(#pg)"/>
<circle cx="62.4" cy="219.6" r="2.2" fill="url(#pg)"/>
<circle cx="60.5" cy="218.2" r="2.2" fill="url(#pg)"/>
<circle cx="58.9" cy="216.7" r="2.2" fill="url(#pg)"/>
<circle cx="57.6" cy="215.0" r="2.2" fill="url(#pg)"/>
<circle cx="56.6" cy="213.0" r="2.2" fill="url(#pg)"/>
<circle cx="55.8" cy="210.5" r="2.2" fill="url(#pg)"/>
<circle cx="55.3" cy="207.3" r="2.2" fill="url(#pg)"/>
<circle cx="55.2" cy="203.2" r="2.2" fill="url(#pg)"/>
<circle cx="55.3" cy="197.7" r="2.2" fill="url(#pg)"/>
<circle cx="55.7" cy="190.4" r="2.2" fill="url(#pg)"/>
<circle cx="56.4" cy="180.9" r="2.2" fill="url(#pg)"/>
<circle cx="57.5" cy="168.9" r="2.2" fill="url(#pg)"/>
<circle cx="58.7" cy="154.7" r="2.2" fill="url(#pg)"/>
<circle cx="60.3" cy="139.1" r="2.2" fill="url(#pg)"/>
<circle cx="62.2" cy="105.2" r="2.2" fill="url(#pg)"/>
<circle cx="64.3" cy="73.0" r="2.2" fill="url(#pg)"/>
<circle cx="66.7" cy="61.0" r="2.2" fill="url(#pg)"/>
<circle cx="69.4" cy="57.1" r="2.2" fill="url(#pg)"/>
<circle cx="72.3" cy="55.5" r="2.2" fill="url(#pg)"/>
<circle cx="75.5" cy="54.7" r="2.2" fill="url(#pg)"/>
<circle cx="78.9" cy="54.0" r="2.2" fill="url(#pg)"/>
<circle cx="82.6" cy="53.4" r="2.2" fill="url(#pg)"/>
<circle cx="86.5" cy="52.9" r="2.2" fill="url(#pg)"/>
<circle cx="90.6" cy="52.4" r="2.2" fill="url(#pg)"/>
<circle cx="94.9" cy="51.9" r="2.2" fill="url(#pg)"/>
<circle cx="99.4" cy="51.4" r="2.2" fill="url(#pg)"/>
<circle cx="104.1" cy="50.9" r="2.2" fill="url(#pg)"/>
<circle cx="109.0" cy="50.5" r="2.2" fill="url(#pg)"/>
<circle cx="114.1" cy="50.1" r="2.2" fill="url(#pg)"/>
<circle cx="119.3" cy="49.8" r="2.2" fill="url(#pg)"/>
<circle cx="124.6" cy="49.5" r="2.2" fill="url(#pg)"/>
<circle cx="130.0" cy="49.2" r="2.2" fill="url(#pg)"/>
<circle cx="135.6" cy="48.9" r="2.2" fill="url(#pg)"/>
<circle cx="141.3" cy="48.7" r="2.2" fill="url(#pg)"/>
<circle cx="147.0" cy="48.5" r="2.2" fill="url(#pg)"/>
<circle cx="152.9" cy="48.3" r="2.2" fill="url(#pg)"/>
<circle cx="158.8" cy="48.2" r="2.2" fill="url(#pg)"/>
<circle cx="164.7" cy="48.1" r="2.2" fill="url(#pg)"/>
<circle cx="170.7" cy="48.1" r="2.2" fill="url(#pg)"/>
<circle cx="176.6" cy="48.0" r="2.2" fill="url(#pg)"/>
<circle cx="182.6" cy="34.6" r="2.2" fill="url(#pm)"/>
<circle cx="188.6" cy="34.7" r="2.2" fill="url(#pm)"/>
<circle cx="194.5" cy="34.8" r="2.2" fill="url(#pm)"/>
<circle cx="200.4" cy="35.1" r="2.2" fill="url(#pm)"/>
<circle cx="206.2" cy="35.4" r="2.2" fill="url(#pm)"/>
<circle cx="212.0" cy="35.7" r="2.2" fill="url(#pm)"/>
<circle cx="217.7" cy="36.2" r="2.2" fill="url(#pm)"/>
<circle cx="223.3" cy="36.7" r="2.2" fill="url(#pm)"/>
<circle cx="228.8" cy="37.2" r="2.2" fill="url(#pm)"/>
<circle cx="234.1" cy="37.8" r="2.2" fill="url(#pm)"/>
<circle cx="239.3" cy="38.5" r="2.2" fill="url(#pm)"/>
<circle cx="244.4" cy="39.3" r="2.2" fill="url(#pm)"/>
<circle cx="249.3" cy="40.1" r="2.2" fill="url(#pm)"/>
<circle cx="254.0" cy="40.9" r="2.2" fill="url(#pm)"/>
<circle cx="258.5" cy="41.8" r="2.2" fill="url(#pm)"/>
<circle cx="262.9" cy="42.8" r="2.2" fill="url(#pm)"/>
<circle cx="267.0" cy="43.8" r="2.2" fill="url(#pm)"/>
<circle cx="270.9" cy="44.9" r="2.2" fill="url(#pm)"/>
<circle cx="274.6" cy="46.0" r="2.2" fill="url(#pm)"/>
<circle cx="278.1" cy="47.1" r="2.2" fill="url(#pm)"/>
<circle cx="281.3" cy="48.3" r="2.2" fill="url(#pm)"/>
<circle cx="284.3" cy="49.5" r="2.2" fill="url(#pm)"/>
<circle cx="287.0" cy="50.8" r="2.2" fill="url(#pm)"/>
<circle cx="289.4" cy="52.1" r="2.2" fill="url(#pm)"/>
<circle cx="291.6" cy="53.5" r="2.2" fill="url(#pm)"/>
<circle cx="293.5" cy="55.0" r="2.2" fill="url(#pm)"/>
<circle cx="295.1" cy="56.5" r="2.2" fill="url(#pm)"/>
<circle cx="296.4" cy="58.2" r="2.2" fill="url(#pm)"/>
<circle cx="297.4" cy="60.2" r="2.2" fill="url(#pm)"/>
<circle cx="298.2" cy="62.5" r="2.2" fill="url(#pm)"/>
<circle cx="298.7" cy="65.4" r="2.2" fill="url(#pm)"/>
<circle cx="298.8" cy="69.2" r="2.2" fill="url(#pm)"/>
<circle cx="298.7" cy="74.4" r="2.2" fill="url(#pm)"/>
<circle cx="298.3" cy="81.6" r="2.2" fill="url(#pm)"/>
<circle cx="297.6" cy="91.7" r="2.2" fill="url(#pm)"/>
<circle cx="296.5" cy="105.1" r="2.2" fill="url(#pm)"/>
<circle cx="295.3" cy="122.2" r="2.2" fill="url(#pm)"/>
<circle cx="293.7" cy="141.9" r="2.2" fill="url(#pm)"/>
<circle cx="291.8" cy="179.7" r="2.2" fill="url(#pm)"/>
<circle cx="289.7" cy="221.9" r="2.2" fill="url(#pm)"/>
<circle cx="287.3" cy="237.4" r="2.2" fill="url(#pm)"/>
<circle cx="284.6" cy="242.2" r="2.2" fill="url(#pm)"/>
<circle cx="281.7" cy="244.0" r="2.2" fill="url(#pm)"/>
<circle cx="278.5" cy="245.1" r="2.2" fill="url(#pm)"/>
<circle cx="275.1" cy="246.0" r="2.2" fill="url(#pm)"/>
<circle cx="271.4" cy="246.8" r="2.2" fill="url(#pm)"/>
<circle cx="267.5" cy="247.5" r="2.2" fill="url(#pm)"/>
<circle cx="263.4" cy="248.2" r="2.2" fill="url(#pm)"/>
<circle cx="259.1" cy="248.9" r="2.2" fill="url(#pm)"/>
<circle cx="254.6" cy="249.5" r="2.2" fill="url(#pm)"/>
<circle cx="249.9" cy="250.1" r="2.2" fill="url(#pm)"/>
<circle cx="245.0" cy="250.7" r="2.2" fill="url(#pm)"/>
<circle cx="239.9" cy="251.2" r="2.2" fill="url(#pm)"/>
<circle cx="234.7" cy="251.7" r="2.2" fill="url(#pm)"/>
<circle cx="229.4" cy="252.1" r="2.2" fill="url(#pm)"/>
<circle cx="224.0" cy="252.5" r="2.2" fill="url(#pm)"/>
<circle cx="218.4" cy="252.8" r="2.2" fill="url(#pm)"/>
<circle cx="212.7" cy="253.2" r="2.2" fill="url(#pm)"/>
<circle cx="207.0" cy="253.4" r="2.2" fill="url(#pm)"/>
<circle cx="201.1" cy="253.6" r="2.2" fill="url(#pm)"/>
<circle cx="195.2" cy="253.8" r="2.2" fill="url(#pm)"/>
<circle cx="189.3" cy="253.9" r="2.2" fill="url(#pm)"/>
<circle cx="183.3" cy="254.0" r="2.2" fill="url(#pm)"/>
<circle cx="177.4" cy="254.0" r="2.2" fill="url(#pm)"/>
<circle cx="171.4" cy="254.0" r="2.2" fill="url(#pm)"/>
<circle cx="165.4" cy="253.9" r="2.2" fill="url(#pm)"/>
<circle cx="159.5" cy="253.7" r="2.2" fill="url(#pm)"/>
<circle cx="153.6" cy="253.5" r="2.2" fill="url(#pm)"/>
<circle cx="147.8" cy="253.2" r="2.2" fill="url(#pm)"/>
<circle cx="142.0" cy="252.8" r="2.2" fill="url(#pm)"/>
<circle cx="136.3" cy="252.4" r="2.2" fill="url(#pm)"/>
<circle cx="130.7" cy="251.9" r="2.2" fill="url(#pm)"/>
<circle cx="125.2" cy="251.3" r="2.2" fill="url(#pm)"/>
<circle cx="119.9" cy="250.7" r="2.2" fill="url(#pm)"/>
<circle cx="114.7" cy="250.0" r="2.2" fill="url(#pm)"/>
<circle cx="109.6" cy="249.3" r="2.2" fill="url(#pm)"/>
<circle cx="104.7" cy="248.5" r="2.2" fill="url(#pm)"/>
<circle cx="100.0" cy="247.6" r="2.2" fill="url(#pm)"/>
<circle cx="95.5" cy="246.7" r="2.2" fill="url(#pm)"/>
<circle cx="91.1" cy="245.7" r="2.2" fill="url(#pm)"/>
<circle cx="87.0" cy="244.7" r="2.2" fill="url(#pm)"/>
<circle cx="83.1" cy="243.7" r="2.2" fill="url(#pm)"/>
<circle cx="79.4" cy="242.6" r="2.2" fill="url(#pm)"/>
<circle cx="75.9" cy="241.4" r="2.2" fill="url(#pm)"/>
<circle cx="72.7" cy="240.2" r="2.2" fill="url(#pm)"/>
<circle cx="69.7" cy="239.0" r="2.2" fill="url(#pm)"/>
<circle cx="67.0" cy="237.7" r="2.2" fill="url(#pm)"/>
<circle cx="64.6" cy="236.4" r="2.2" fill="url(#pm)"/>
<circle cx="62.4" cy="235.0" r="2.2" fill="url(#pm)"/>
<circle cx="60.5" cy="233.6" r="2.2" fill="url(#pm)"/>
<circle cx="58.9" cy="232.0" r="2.2" fill="url(#pm)"/>
<circle cx="57.6" cy="230.3" r="2.2" fill="url(#pm)"/>
<circle cx="56.6" cy="228.3" r="2.2" fill="url(#pm)"/>
<circle cx="55.8" cy="225.9" r="2.2" fill="url(#pm)"/>
<circle cx="55.3" cy="223.0" r="2.2" fill="url(#pm)"/>
<circle cx="55.2" cy="219.1" r="2.2" fill="url(#pm)"/>
<circle cx="55.3" cy="213.7" r="2.2" fill="url(#pm)"/>
<circle cx="55.7" cy="206.1" r="2.2" fill="url(#pm)"/>
<circle cx="56.4" cy="195.6" r="2.2" fill="url(#pm)"/>
<circle cx="57.5" cy="181.5" r="2.2" fill="url(#pm)"/>
<circle cx="58.7" cy="163.7" r="2.2" fill="url(#pm)"/>
<circle cx="60.3" cy="143.0" r="2.2" fill="url(#pm)"/>
<circle cx="62.2" cy="105.8" r="2.2" fill="url(#pm)"/>
<circle cx="64.3" cy="65.6" r="2.2" fill="url(#pm)"/>
<circle cx="66.7" cy="50.9" r="2.2" fill="url(#pm)"/>
<circle cx="69.4" cy="46.3" r="2.2" fill="url(#pm)"/>
<circle cx="72.3" cy="44.5" r="2.2" fill="url(#pm)"/>
<circle cx="75.5" cy="43.4" r="2.2" fill="url(#pm)"/>
<circle cx="78.9" cy="42.6" r="2.2" fill="url(#pm)"/>
<circle cx="82.6" cy="41.8" r="2.2" fill="url(#pm)"/>
<circle cx="86.5" cy="41.1" r="2.2" fill="url(#pm)"/>
<circle cx="90.6" cy="40.3" r="2.2" fill="url(#pm)"/>
<circle cx="94.9" cy="39.7" r="2.2" fill="url(#pm)"/>
<circle cx="99.4" cy="39.0" r="2.2" fill="url(#pm)"/>
<circle cx="104.1" cy="38.4" r="2.2" fill="url(#pm)"/>
<circle cx="109.0" cy="37.9" r="2.2" fill="url(#pm)"/>
<circle cx="114.1" cy="37.4" r="2.2" fill="url(#pm)"/>
<circle cx="119.3" cy="36.9" r="2.2" fill="url(#pm)"/>
<circle cx="124.6" cy="36.4" r="2.2" fill="url(#pm)"/>
<circle cx="130.0" cy="36.0" r="2.2" fill="url(#pm)"/>
<circle cx="135.6" cy="35.7" r="2.2" fill="url(#pm)"/>
<circle cx="141.3" cy="35.4" r="2.2" fill="url(#pm)"/>
<circle cx="147.0" cy="35.1" r="2.2" fill="url(#pm)"/>
<circle cx="152.9" cy="34.9" r="2.2" fill="url(#pm)"/>
<circle cx="158.8" cy="34.7" r="2.2" fill="url(#pm)"/>
<circle cx="164.7" cy="34.6" r="2.2" fill="url(#pm)"/>
<circle cx="170.7" cy="34.5" r="2.2" fill="url(#pm)"/>
<circle cx="176.6" cy="34.5" r="2.2" fill="url(#pm)"/>
<path d="M177.0,131.6 L177.9,131.6 L178.7,131.6 L179.6,131.6 L180.4,131.6 L181.3,131.6 L182.1,131.6 L183.0,131.6 L183.8,131.6 L184.7,131.6 L185.5,131.6 L186.4,131.7 L187.2,131.7 L188.1,131.7 L188.9,131.7 L189.7,131.7 L190.6,131.7 L191.4,131.7 L192.3,131.7 L193.1,131.7 L194.0,131.7 L194.8,131.7 L195.7,131.7 L196.5,131.7 L197.3,131.8 L198.2,131.8 L199.0,131.8 L199.9,131.8 L200.7,131.8 L201.5,131.8 L202.4,131.8 L203.2,131.8 L204.0,131.9 L204.8,131.9 L205.7,131.9 L206.5,131.9 L207.3,131.9 L208.2,131.9 L209.0,132.0 L209.8,132.0 L210.6,132.0 L211.4,132.0 L212.2,132.0 L213.1,132.0 L213.9,132.1 L214.7,132.1 L215.5,132.1 L216.3,132.1 L217.1,132.2 L217.9,132.2 L218.7,132.2 L219.5,132.2 L220.3,132.2 L221.1,132.3 L221.9,132.3 L222.7,132.3 L223.5,132.3 L224.3,132.4 L225.0,132.4 L225.8,132.4 L226.6,132.4 L227.4,132.5 L228.2,132.5 L228.9,132.5 L229.7,132.6 L230.5,132.6 L231.2,132.6 L232.0,132.6 L232.7,132.7 L233.5,132.7 L234.2,132.7 L235.0,132.8 L235.7,132.8 L236.5,132.8 L237.2,132.9 L238.0,132.9 L238.7,132.9 L239.4,133.0 L240.2,133.0 L240.9,133.0 L241.6,133.1 L242.3,133.1 L243.1,133.1 L243.8,133.2 L244.5,133.2 L245.2,133.3 L245.9,133.3 L246.6,133.3 L247.3,133.4 L248.0,133.4 L248.7,133.4 L249.4,133.5 L250.0,133.5 L250.7,133.6 L251.4,133.6 L252.1,133.6 L252.7,133.7 L253.4,133.7 L254.1,133.8 L254.7,133.8 L255.4,133.9 L256.0,133.9 L256.7,133.9 L257.3,134.0 L258.0,134.0 L258.6,134.1 L259.2,134.1 L259.8,134.2 L260.5,134.2 L261.1,134.3 L261.7,134.3 L262.3,134.3 L262.9,134.4 L263.5,134.4 L264.1,134.5 L264.7,134.5 L265.3,134.6 L265.9,134.6 L266.5,134.7 L267.0,134.7 L267.6,134.8 L268.2,134.8 L268.7,134.9 L269.3,134.9 L269.8,135.0 L270.4,135.0 L270.9,135.1 L271.5,135.1 L272.0,135.2 L272.5,135.2 L273.1,135.3 L273.6,135.3 L274.1,135.4 L274.6,135.5 L275.1,135.5 L275.6,135.6 L276.1,135.6 L276.6,135.7 L277.1,135.7 L277.6,135.8 L278.1,135.8 L278.5,135.9 L279.0,135.9 L279.5,136.0 L279.9,136.1 L280.4,136.1 L280.8,136.2 L281.3,136.2 L281.7,136.3 L282.1,136.3 L282.6,136.4 L283.0,136.5 L283.4,136.5 L283.8,136.6 L284.2,136.6 L284.6,136.7 L285.0,136.8 L285.4,136.8 L285.8,136.9 L286.2,136.9 L286.6,137.0 L286.9,137.1 L287.3,137.1 L287.6,137.2 L288.0,137.2 L288.4,137.3 L288.7,137.4 L289.0,137.4 L289.4,137.5 L289.7,137.5 L290.0,137.6 L290.3,137.7 L290.6,137.7 L290.9,137.8 L291.2,137.9 L291.5,137.9 L291.8,138.0 L292.1,138.1 L292.4,138.1 L292.6,138.2 L292.9,138.3 L293.2,138.3 L293.4,138.4 L293.7,138.5 L293.9,138.5 L294.1,138.6 L294.4,138.7 L294.6,138.8 L294.8,138.8 L295.0,138.9 L295.2,139.0 L295.4,139.1 L295.6,139.1 L295.8,139.2 L296.0,139.3 L296.2,139.4 L296.4,139.5 L296.5,139.6 L296.7,139.7 L296.9,139.7 L297.0,139.8 L297.1,139.9 L297.3,140.0 L297.4,140.1 L297.5,140.2 L297.7,140.4 L297.8,140.5 L297.9,140.6 L298.0,140.7 L298.1,140.8 L298.2,141.0 L298.3,141.1 L298.3,141.2 L298.4,141.4 L298.5,141.5 L298.5,141.7 L298.6,141.9 L298.6,142.1 L298.7,142.2 L298.7,142.4 L298.8,142.6 L298.8,142.9 L298.8,143.1 L298.8,143.3 L298.8,143.5 L298.8,143.8 L298.8,144.1 L298.8,144.3 L298.8,144.6 L298.8,144.9 L298.7,145.2 L298.7,145.5 L298.7,145.8 L298.6,146.1 L298.6,146.4 L298.5,146.7 L298.4,147.0 L298.4,147.3 L298.3,147.4 L298.2,147.4 L298.1,147.5 L298.0,147.6 L297.9,147.7 L297.8,147.8 L297.7,147.8 L297.6,147.9 L297.5,148.0 L297.3,148.1 L297.2,148.1 L297.1,148.2 L296.9,148.3 L296.8,148.3 L296.6,148.4 L296.5,148.5 L296.3,148.6 L296.1,148.6 L295.9,148.7 L295.7,148.8 L295.5,148.8 L295.3,148.9 L295.1,149.0 L294.9,149.0 L294.7,149.1 L294.5,149.2 L294.3,149.2 L294.0,149.3 L293.8,149.4 L293.5,149.4 L293.3,149.5 L293.0,149.6 L292.8,149.6 L292.5,149.7 L292.2,149.7 L292.0,149.8 L291.7,149.9 L291.4,149.9 L291.1,150.0 L290.8,150.0 L290.5,150.1 L290.2,150.1 L289.8,150.2 L289.5,150.2 L289.2,150.3 L288.9,150.3 L288.5,150.4 L288.2,150.4 L287.8,150.5 L287.5,150.5 L287.1,150.6 L286.7,150.6 L286.4,150.7 L286.0,150.7 L285.6,150.7 L285.2,150.8 L284.8,150.8 L284.4,150.9 L284.0,150.9 L283.6,150.9 L283.2,151.0 L282.8,151.0 L282.4,151.0 L281.9,151.1 L281.5,151.1 L281.1,151.2 L280.6,151.2 L280.2,151.2 L279.7,151.2 L279.2,151.3 L278.8,151.3 L278.3,151.3 L277.8,151.4 L277.3,151.4 L276.9,151.4 L276.4,151.5 L275.9,151.5 L275.4,151.5 L274.9,151.5 L274.4,151.6 L273.9,151.6 L273.3,151.6 L272.8,151.6 L272.3,151.7 L271.7,151.7 L271.2,151.7 L270.7,151.7 L270.1,151.7 L269.6,151.8 L269.0,151.8 L268.5,151.8 L267.9,151.8 L267.3,151.8 L266.7,151.9 L266.2,151.9 L265.6,151.9 L265.0,151.9 L264.4,151.9 L263.8,151.9 L263.2,152.0 L262.6,152.0 L262.0,152.0 L261.4,152.0 L260.8,152.0 L260.2,152.0 L259.5,152.1 L258.9,152.1 L258.3,152.1 L257.6,152.1 L257.0,152.1 L256.3,152.1 L255.7,152.1 L255.0,152.1 L254.4,152.2 L253.7,152.2 L253.1,152.2 L252.4,152.2 L251.7,152.2 L251.1,152.2 L250.4,152.2 L249.7,152.2 L249.0,152.2 L248.3,152.3 L247.6,152.3 L246.9,152.3 L246.2,152.3 L245.5,152.3 L244.8,152.3 L244.1,152.3 L243.4,152.3 L242.7,152.3 L242.0,152.3 L241.3,152.3 L240.5,152.3 L239.8,152.4 L239.1,152.4 L238.3,152.4 L237.6,152.4 L236.9,152.4 L236.1,152.4 L235.4,152.4 L234.6,152.4 L233.9,152.4 L233.1,152.4 L232.4,152.4 L231.6,152.4 L230.8,152.4 L230.1,152.4 L229.3,152.4 L228.5,152.4 L227.8,152.4 L227.0,152.5 L226.2,152.5 L225.4,152.5 L224.6,152.5 L223.9,152.5 L223.1,152.5 L222.3,152.5 L221.5,152.5 L220.7,152.5 L219.9,152.5 L219.1,152.5 L218.3,152.5 L217.5,152.5 L216.7,152.5 L215.9,152.5 L215.1,152.5 L214.3,152.5 L213.5,152.5 L212.7,152.5 L211.8,152.5 L211.0,152.5 L210.2,152.5 L209.4,152.5 L208.6,152.5 L207.7,152.5 L206.9,152.5 L206.1,152.5 L205.3,152.5 L204.4,152.5 L203.6,152.6 L202.8,152.6 L201.9,152.6 L201.1,152.6 L200.3,152.6 L199.4,152.6 L198.6,152.6 L197.8,152.6 L196.9,152.6 L196.1,152.6 L195.2,152.6 L194.4,152.6 L193.6,152.6 L192.7,152.6 L191.9,152.6 L191.0,152.6 L190.2,152.6 L189.3,152.6 L188.5,152.6 L187.6,152.6 L186.8,152.6 L185.9,152.6 L185.1,152.6 L184.2,152.6 L183.4,152.6 L182.5,152.6 L181.7,152.6 L180.8,152.6 L180.0,152.6 L179.1,152.6 L178.3,152.6 L177.4,152.6 L176.6,152.6 L175.7,152.6 L174.9,152.6 L174.0,152.6 L173.2,152.6 L172.3,152.6 L171.5,152.6 L170.6,152.6 L169.8,152.6 L168.9,152.6 L168.1,152.6 L167.2,152.6 L166.4,152.5 L165.5,152.5 L164.7,152.5 L163.8,152.5 L163.0,152.5 L162.1,152.5 L161.3,152.5 L160.4,152.5 L159.6,152.5 L158.8,152.5 L157.9,152.5 L157.1,152.5 L156.2,152.4 L155.4,152.4 L154.6,152.4 L153.7,152.4 L152.9,152.4 L152.1,152.4 L151.2,152.4 L150.4,152.4 L149.6,152.3 L148.7,152.3 L147.9,152.3 L147.1,152.3 L146.3,152.3 L145.4,152.3 L144.6,152.2 L143.8,152.2 L143.0,152.2 L142.2,152.2 L141.3,152.2 L140.5,152.1 L139.7,152.1 L138.9,152.1 L138.1,152.1 L137.3,152.1 L136.5,152.0 L135.7,152.0 L134.9,152.0 L134.1,152.0 L133.3,152.0 L132.5,151.9 L131.7,151.9 L130.9,151.9 L130.1,151.9 L129.4,151.8 L128.6,151.8 L127.8,151.8 L127.0,151.7 L126.2,151.7 L125.5,151.7 L124.7,151.7 L123.9,151.6 L123.2,151.6 L122.4,151.6 L121.6,151.5 L120.9,151.5 L120.1,151.5 L119.4,151.5 L118.6,151.4 L117.9,151.4 L117.1,151.4 L116.4,151.3 L115.7,151.3 L114.9,151.3 L114.2,151.2 L113.5,151.2 L112.7,151.2 L112.0,151.1 L111.3,151.1 L110.6,151.0 L109.9,151.0 L109.2,151.0 L108.5,150.9 L107.8,150.9 L107.1,150.9 L106.4,150.8 L105.7,150.8 L105.0,150.7 L104.3,150.7 L103.6,150.7 L102.9,150.6 L102.3,150.6 L101.6,150.5 L100.9,150.5 L100.3,150.5 L99.6,150.4 L99.0,150.4 L98.3,150.3 L97.7,150.3 L97.0,150.2 L96.4,150.2 L95.7,150.2 L95.1,150.1 L94.5,150.1 L93.8,150.0 L93.2,150.0 L92.6,149.9 L92.0,149.9 L91.4,149.8 L90.8,149.8 L90.2,149.7 L89.6,149.7 L89.0,149.6 L88.4,149.6 L87.8,149.5 L87.3,149.5 L86.7,149.4 L86.1,149.4 L85.5,149.4 L85.0,149.3 L84.4,149.2 L83.9,149.2 L83.3,149.1 L82.8,149.1 L82.3,149.0 L81.7,149.0 L81.2,148.9 L80.7,148.9 L80.1,148.8 L79.6,148.8 L79.1,148.7 L78.6,148.7 L78.1,148.6 L77.6,148.6 L77.1,148.5 L76.7,148.5 L76.2,148.4 L75.7,148.3 L75.2,148.3 L74.8,148.2 L74.3,148.2 L73.8,148.1 L73.4,148.1 L72.9,148.0 L72.5,148.0 L72.1,147.9 L71.6,147.8 L71.2,147.8 L70.8,147.7 L70.4,147.7 L70.0,147.6 L69.6,147.5 L69.2,147.5 L68.8,147.4 L68.4,147.4 L68.0,147.3 L67.6,147.2 L67.3,147.2 L66.9,147.1 L66.5,147.1 L66.2,147.0 L65.8,146.9 L65.5,146.9 L65.1,146.8 L64.8,146.8 L64.5,146.7 L64.2,146.6 L63.8,146.6 L63.5,146.5 L63.2,146.4 L62.9,146.4 L62.6,146.3 L62.3,146.2 L62.0,146.2 L61.8,146.1 L61.5,146.0 L61.2,146.0 L61.0,145.9 L60.7,145.8 L60.5,145.8 L60.2,145.7 L60.0,145.6 L59.7,145.5 L59.5,145.5 L59.3,145.4 L59.1,145.3 L58.9,145.3 L58.7,145.2 L58.5,145.1 L58.3,145.0 L58.1,144.9 L57.9,144.9 L57.7,144.8 L57.5,144.7 L57.4,144.6 L57.2,144.5 L57.1,144.4 L56.9,144.3 L56.8,144.2 L56.7,144.1 L56.5,144.0 L56.4,143.9 L56.3,143.8 L56.2,143.7 L56.1,143.6 L56.0,143.5 L55.9,143.3 L55.8,143.2 L55.7,143.0 L55.6,142.9 L55.6,142.8 L55.5,142.6 L55.4,142.4 L55.4,142.3 L55.3,142.1 L55.3,141.9 L55.3,141.7 L55.2,141.5 L55.2,141.3 L55.2,141.1 L55.2,140.8 L55.2,140.6 L55.2,140.3 L55.2,140.1 L55.2,139.8 L55.2,139.5 L55.2,139.3 L55.3,139.0 L55.3,138.7 L55.4,138.4 L55.4,138.1 L55.5,137.8 L55.5,137.5 L55.6,137.1 L55.7,137.0 L55.7,136.9 L55.8,136.8 L55.9,136.7 L56.0,136.7 L56.1,136.6 L56.2,136.5 L56.3,136.4 L56.5,136.3 L56.6,136.3 L56.7,136.2 L56.9,136.1 L57.0,136.0 L57.1,136.0 L57.3,135.9 L57.5,135.8 L57.6,135.7 L57.8,135.7 L58.0,135.6 L58.2,135.5 L58.4,135.5 L58.6,135.4 L58.8,135.3 L59.0,135.3 L59.2,135.2 L59.4,135.1 L59.6,135.1 L59.9,135.0 L60.1,134.9 L60.3,134.9 L60.6,134.8 L60.8,134.7 L61.1,134.7 L61.4,134.6 L61.6,134.5 L61.9,134.5 L62.2,134.4 L62.5,134.4 L62.8,134.3 L63.1,134.3 L63.4,134.2 L63.7,134.2 L64.0,134.1 L64.3,134.0 L64.6,134.0 L65.0,133.9 L65.3,133.9 L65.6,133.8 L66.0,133.8 L66.4,133.7 L66.7,133.7 L67.1,133.7 L67.4,133.6 L67.8,133.6 L68.2,133.5 L68.6,133.5 L69.0,133.4 L69.4,133.4 L69.8,133.4 L70.2,133.3 L70.6,133.3 L71.0,133.2 L71.4,133.2 L71.9,133.2 L72.3,133.1 L72.7,133.1 L73.2,133.1 L73.6,133.0 L74.1,133.0 L74.5,133.0 L75.0,132.9 L75.5,132.9 L75.9,132.9 L76.4,132.8 L76.9,132.8 L77.4,132.8 L77.9,132.8 L78.4,132.7 L78.9,132.7 L79.4,132.7 L79.9,132.7 L80.4,132.6 L80.9,132.6 L81.5,132.6 L82.0,132.6 L82.5,132.5 L83.1,132.5 L83.6,132.5 L84.2,132.5 L84.7,132.4 L85.3,132.4 L85.8,132.4 L86.4,132.4 L87.0,132.4 L87.5,132.3 L88.1,132.3 L88.7,132.3 L89.3,132.3 L89.9,132.3 L90.5,132.3 L91.1,132.2 L91.7,132.2 L92.3,132.2 L92.9,132.2 L93.5,132.2 L94.2,132.2 L94.8,132.2 L95.4,132.1 L96.0,132.1 L96.7,132.1 L97.3,132.1 L98.0,132.1 L98.6,132.1 L99.3,132.1 L99.9,132.1 L100.6,132.0 L101.3,132.0 L101.9,132.0 L102.6,132.0 L103.3,132.0 L104.0,132.0 L104.6,132.0 L105.3,132.0 L106.0,132.0 L106.7,131.9 L107.4,131.9 L108.1,131.9 L108.8,131.9 L109.5,131.9 L110.2,131.9 L110.9,131.9 L111.7,131.9 L112.4,131.9 L113.1,131.9 L113.8,131.9 L114.6,131.9 L115.3,131.8 L116.0,131.8 L116.8,131.8 L117.5,131.8 L118.3,131.8 L119.0,131.8 L119.8,131.8 L120.5,131.8 L121.3,131.8 L122.0,131.8 L122.8,131.8 L123.5,131.8 L124.3,131.8 L125.1,131.8 L125.8,131.8 L126.6,131.8 L127.4,131.8 L128.2,131.7 L129.0,131.7 L129.7,131.7 L130.5,131.7 L131.3,131.7 L132.1,131.7 L132.9,131.7 L133.7,131.7 L134.5,131.7 L135.3,131.7 L136.1,131.7 L136.9,131.7 L137.7,131.7 L138.5,131.7 L139.3,131.7 L140.1,131.7 L140.9,131.7 L141.8,131.7 L142.6,131.7 L143.4,131.7 L144.2,131.7 L145.0,131.7 L145.8,131.7 L146.7,131.7 L147.5,131.7 L148.3,131.7 L149.2,131.7 L150.0,131.7 L150.8,131.7 L151.6,131.7 L152.5,131.6 L153.3,131.6 L154.1,131.6 L155.0,131.6 L155.8,131.6 L156.7,131.6 L157.5,131.6 L158.3,131.6 L159.2,131.6 L160.0,131.6 L160.9,131.6 L161.7,131.6 L162.6,131.6 L163.4,131.6 L164.3,131.6 L165.1,131.6 L165.9,131.6 L166.8,131.6 L167.6,131.6 L168.5,131.6 L169.3,131.6 L170.2,131.6 L171.0,131.6 L171.9,131.6 L172.7,131.6 L173.6,131.6 L174.4,131.6 L175.3,131.6 L176.1,131.6 L177.0,131.6Z" fill="none" stroke="#000000" stroke-width="1.5" stroke-linejoin="round"/>
<path d="M177.0,108.9 L177.9,108.9 L178.7,108.9 L179.6,108.9 L180.4,108.9 L181.3,108.9 L182.1,108.9 L183.0,108.9 L183.8,108.9 L184.7,108.9 L185.5,108.9 L186.4,108.9 L187.2,109.0 L188.1,109.0 L188.9,109.0 L189.7,109.0 L190.6,109.0 L191.4,109.0 L192.3,109.0 L193.1,109.0 L194.0,109.0 L194.8,109.0 L195.7,109.1 L196.5,109.1 L197.3,109.1 L198.2,109.1 L199.0,109.1 L199.9,109.1 L200.7,109.1 L201.5,109.2 L202.4,109.2 L203.2,109.2 L204.0,109.2 L204.8,109.2 L205.7,109.3 L206.5,109.3 L207.3,109.3 L208.2,109.3 L209.0,109.3 L209.8,109.4 L210.6,109.4 L211.4,109.4 L212.2,109.4 L213.1,109.5 L213.9,109.5 L214.7,109.5 L215.5,109.5 L216.3,109.6 L217.1,109.6 L217.9,109.6 L218.7,109.7 L219.5,109.7 L220.3,109.7 L221.1,109.8 L221.9,109.8 L222.7,109.8 L223.5,109.9 L224.3,109.9 L225.0,109.9 L225.8,110.0 L226.6,110.0 L227.4,110.0 L228.2,110.1 L228.9,110.1 L229.7,110.1 L230.5,110.2 L231.2,110.2 L232.0,110.3 L232.7,110.3 L233.5,110.3 L234.2,110.4 L235.0,110.4 L235.7,110.5 L236.5,110.5 L237.2,110.5 L238.0,110.6 L238.7,110.6 L239.4,110.7 L240.2,110.7 L240.9,110.8 L241.6,110.8 L242.3,110.9 L243.1,110.9 L243.8,111.0 L244.5,111.0 L245.2,111.1 L245.9,111.1 L246.6,111.2 L247.3,111.2 L248.0,111.3 L248.7,111.3 L249.4,111.4 L250.0,111.4 L250.7,111.5 L251.4,111.5 L252.1,111.6 L252.7,111.6 L253.4,111.7 L254.1,111.7 L254.7,111.8 L255.4,111.8 L256.0,111.9 L256.7,112.0 L257.3,112.0 L258.0,112.1 L258.6,112.1 L259.2,112.2 L259.8,112.2 L260.5,112.3 L261.1,112.4 L261.7,112.4 L262.3,112.5 L262.9,112.6 L263.5,112.6 L264.1,112.7 L264.7,112.7 L265.3,112.8 L265.9,112.9 L266.5,112.9 L267.0,113.0 L267.6,113.1 L268.2,113.1 L268.7,113.2 L269.3,113.3 L269.8,113.3 L270.4,113.4 L270.9,113.5 L271.5,113.5 L272.0,113.6 L272.5,113.7 L273.1,113.7 L273.6,113.8 L274.1,113.9 L274.6,113.9 L275.1,114.0 L275.6,114.1 L276.1,114.2 L276.6,114.2 L277.1,114.3 L277.6,114.4 L278.1,114.4 L278.5,114.5 L279.0,114.6 L279.5,114.7 L279.9,114.7 L280.4,114.8 L280.8,114.9 L281.3,115.0 L281.7,115.0 L282.1,115.1 L282.6,115.2 L283.0,115.3 L283.4,115.3 L283.8,115.4 L284.2,115.5 L284.6,115.6 L285.0,115.6 L285.4,115.7 L285.8,115.8 L286.2,115.9 L286.6,116.0 L286.9,116.0 L287.3,116.1 L287.6,116.2 L288.0,116.3 L288.4,116.4 L288.7,116.4 L289.0,116.5 L289.4,116.6 L289.7,116.7 L290.0,116.8 L290.3,116.8 L290.6,116.9 L290.9,117.0 L291.2,117.1 L291.5,117.2 L291.8,117.2 L292.1,117.3 L292.4,117.4 L292.6,117.5 L292.9,117.6 L293.2,117.7 L293.4,117.7 L293.7,117.8 L293.9,117.9 L294.1,118.0 L294.4,118.1 L294.6,118.2 L294.8,118.3 L295.0,118.3 L295.2,118.4 L295.4,118.5 L295.6,118.6 L295.8,118.7 L296.0,118.8 L296.2,118.9 L296.4,118.9 L296.5,119.0 L296.7,119.1 L296.9,119.2 L297.0,119.3 L297.1,119.4 L297.3,119.5 L297.4,119.6 L297.5,119.6 L297.7,119.7 L297.8,119.8 L297.9,119.9 L298.0,120.0 L298.1,120.1 L298.2,120.2 L298.3,120.3 L298.3,120.4 L298.4,120.5 L298.5,120.6 L298.5,120.7 L298.6,120.8 L298.6,120.9 L298.7,121.1 L298.7,121.2 L298.8,121.3 L298.8,121.4 L298.8,121.6 L298.8,121.7 L298.8,121.9 L298.8,122.1 L298.8,122.3 L298.8,122.5 L298.8,122.7 L298.8,122.9 L298.7,123.2 L298.7,123.5 L298.7,123.8 L298.6,124.2 L298.6,124.6 L298.5,125.0 L298.4,125.5 L298.4,126.0 L298.3,126.7 L298.2,127.3 L298.1,128.1 L298.0,128.9 L297.9,129.9 L297.8,130.9 L297.7,132.0 L297.6,133.2 L297.5,134.5 L297.3,135.9 L297.2,137.4 L297.1,139.0 L296.9,140.6 L296.8,142.3 L296.6,144.1 L296.5,145.9 L296.3,147.8 L296.1,149.9 L295.9,151.9 L295.7,153.9 L295.5,155.8 L295.3,157.6 L295.1,159.3 L294.9,160.9 L294.7,162.3 L294.5,163.6 L294.3,164.7 L294.0,165.8 L293.8,166.7 L293.5,167.6 L293.3,168.3 L293.0,168.9 L292.8,169.5 L292.5,170.0 L292.2,170.5 L292.0,170.8 L291.7,171.2 L291.4,171.5 L291.1,171.7 L290.8,172.0 L290.5,172.2 L290.2,172.4 L289.8,172.5 L289.5,172.7 L289.2,172.8 L288.9,172.9 L288.5,173.0 L288.2,173.1 L287.8,173.2 L287.5,173.3 L287.1,173.4 L286.7,173.5 L286.4,173.5 L286.0,173.6 L285.6,173.7 L285.2,173.7 L284.8,173.8 L284.4,173.8 L284.0,173.9 L283.6,174.0 L283.2,174.0 L282.8,174.1 L282.4,174.1 L281.9,174.1 L281.5,174.2 L281.1,174.2 L280.6,174.3 L280.2,174.3 L279.7,174.4 L279.2,174.4 L278.8,174.5 L278.3,174.5 L277.8,174.5 L277.3,174.6 L276.9,174.6 L276.4,174.7 L275.9,174.7 L275.4,174.7 L274.9,174.8 L274.4,174.8 L273.9,174.9 L273.3,174.9 L272.8,174.9 L272.3,175.0 L271.7,175.0 L271.2,175.1 L270.7,175.1 L270.1,175.1 L269.6,175.2 L269.0,175.2 L268.5,175.2 L267.9,175.3 L267.3,175.3 L266.7,175.4 L266.2,175.4 L265.6,175.4 L265.0,175.5 L264.4,175.5 L263.8,175.5 L263.2,175.6 L262.6,175.6 L262.0,175.6 L261.4,175.7 L260.8,175.7 L260.2,175.7 L259.5,175.8 L258.9,175.8 L258.3,175.8 L257.6,175.9 L257.0,175.9 L256.3,175.9 L255.7,176.0 L255.0,176.0 L254.4,176.0 L253.7,176.1 L253.1,176.1 L252.4,176.1 L251.7,176.2 L251.1,176.2 L250.4,176.2 L249.7,176.2 L249.0,176.3 L248.3,176.3 L247.6,176.3 L246.9,176.4 L246.2,176.4 L245.5,176.4 L244.8,176.4 L244.1,176.5 L243.4,176.5 L242.7,176.5 L242.0,176.6 L241.3,176.6 L240.5,176.6 L239.8,176.6 L239.1,176.7 L238.3,176.7 L237.6,176.7 L236.9,176.7 L236.1,176.8 L235.4,176.8 L234.6,176.8 L233.9,176.8 L233.1,176.8 L232.4,176.9 L231.6,176.9 L230.8,176.9 L230.1,176.9 L229.3,177.0 L228.5,177.0 L227.8,177.0 L227.0,177.0 L226.2,177.0 L225.4,177.1 L224.6,177.1 L223.9,177.1 L223.1,177.1 L222.3,177.1 L221.5,177.2 L220.7,177.2 L219.9,177.2 L219.1,177.2 L218.3,177.2 L217.5,177.2 L216.7,177.3 L215.9,177.3 L215.1,177.3 L214.3,177.3 L213.5,177.3 L212.7,177.3 L211.8,177.3 L211.0,177.4 L210.2,177.4 L209.4,177.4 L208.6,177.4 L207.7,177.4 L206.9,177.4 L206.1,177.4 L205.3,177.4 L204.4,177.5 L203.6,177.5 L202.8,177.5 L201.9,177.5 L201.1,177.5 L200.3,177.5 L199.4,177.5 L198.6,177.5 L197.8,177.5 L196.9,177.5 L196.1,177.6 L195.2,177.6 L194.4,177.6 L193.6,177.6 L192.7,177.6 L191.9,177.6 L191.0,177.6 L190.2,177.6 L189.3,177.6 L188.5,177.6 L187.6,177.6 L186.8,177.6 L185.9,177.6 L185.1,177.6 L184.2,177.6 L183.4,177.6 L182.5,177.6 L181.7,177.6 L180.8,177.6 L180.0,177.6 L179.1,177.6 L178.3,177.6 L177.4,177.6 L176.6,177.6 L175.7,177.6 L174.9,177.6 L174.0,177.6 L173.2,177.6 L172.3,177.6 L171.5,177.6 L170.6,177.6 L169.8,177.6 L168.9,177.6 L168.1,177.6 L167.2,177.6 L166.4,177.6 L165.5,177.6 L164.7,177.6 L163.8,177.6 L163.0,177.6 L162.1,177.5 L161.3,177.5 L160.4,177.5 L159.6,177.5 L158.8,177.5 L157.9,177.5 L157.1,177.5 L156.2,177.5 L155.4,177.4 L154.6,177.4 L153.7,177.4 L152.9,177.4 L152.1,177.4 L151.2,177.4 L150.4,177.3 L149.6,177.3 L148.7,177.3 L147.9,177.3 L147.1,177.3 L146.3,177.2 L145.4,177.2 L144.6,177.2 L143.8,177.2 L143.0,177.1 L142.2,177.1 L141.3,177.1 L140.5,177.1 L139.7,177.0 L138.9,177.0 L138.1,177.0 L137.3,177.0 L136.5,176.9 L135.7,176.9 L134.9,176.9 L134.1,176.8 L133.3,176.8 L132.5,176.8 L131.7,176.7 L130.9,176.7 L130.1,176.7 L129.4,176.6 L128.6,176.6 L127.8,176.6 L127.0,176.5 L126.2,176.5 L125.5,176.5 L124.7,176.4 L123.9,176.4 L123.2,176.3 L122.4,176.3 L121.6,176.3 L120.9,176.2 L120.1,176.2 L119.4,176.1 L118.6,176.1 L117.9,176.1 L117.1,176.0 L116.4,176.0 L115.7,175.9 L114.9,175.9 L114.2,175.8 L113.5,175.8 L112.7,175.8 L112.0,175.7 L111.3,175.7 L110.6,175.6 L109.9,175.6 L109.2,175.5 L108.5,175.5 L107.8,175.4 L107.1,175.4 L106.4,175.3 L105.7,175.3 L105.0,175.2 L104.3,175.2 L103.6,175.1 L102.9,175.1 L102.3,175.0 L101.6,175.0 L100.9,174.9 L100.3,174.8 L99.6,174.8 L99.0,174.7 L98.3,174.7 L97.7,174.6 L97.0,174.6 L96.4,174.5 L95.7,174.4 L95.1,174.4 L94.5,174.3 L93.8,174.3 L93.2,174.2 L92.6,174.1 L92.0,174.1 L91.4,174.0 L90.8,174.0 L90.2,173.9 L89.6,173.8 L89.0,173.8 L88.4,173.7 L87.8,173.6 L87.3,173.6 L86.7,173.5 L86.1,173.5 L85.5,173.4 L85.0,173.3 L84.4,173.3 L83.9,173.2 L83.3,173.1 L82.8,173.1 L82.3,173.0 L81.7,172.9 L81.2,172.8 L80.7,172.8 L80.1,172.7 L79.6,172.6 L79.1,172.6 L78.6,172.5 L78.1,172.4 L77.6,172.4 L77.1,172.3 L76.7,172.2 L76.2,172.1 L75.7,172.1 L75.2,172.0 L74.8,171.9 L74.3,171.8 L73.8,171.8 L73.4,171.7 L72.9,171.6 L72.5,171.6 L72.1,171.5 L71.6,171.4 L71.2,171.3 L70.8,171.2 L70.4,171.2 L70.0,171.1 L69.6,171.0 L69.2,170.9 L68.8,170.9 L68.4,170.8 L68.0,170.7 L67.6,170.6 L67.3,170.6 L66.9,170.5 L66.5,170.4 L66.2,170.3 L65.8,170.2 L65.5,170.2 L65.1,170.1 L64.8,170.0 L64.5,169.9 L64.2,169.8 L63.8,169.7 L63.5,169.7 L63.2,169.6 L62.9,169.5 L62.6,169.4 L62.3,169.3 L62.0,169.3 L61.8,169.2 L61.5,169.1 L61.2,169.0 L61.0,168.9 L60.7,168.8 L60.5,168.8 L60.2,168.7 L60.0,168.6 L59.7,168.5 L59.5,168.4 L59.3,168.3 L59.1,168.2 L58.9,168.2 L58.7,168.1 L58.5,168.0 L58.3,167.9 L58.1,167.8 L57.9,167.7 L57.7,167.6 L57.5,167.6 L57.4,167.5 L57.2,167.4 L57.1,167.3 L56.9,167.2 L56.8,167.1 L56.7,167.0 L56.5,166.9 L56.4,166.8 L56.3,166.8 L56.2,166.7 L56.1,166.6 L56.0,166.5 L55.9,166.4 L55.8,166.3 L55.7,166.2 L55.6,166.1 L55.6,166.0 L55.5,165.9 L55.4,165.8 L55.4,165.6 L55.3,165.5 L55.3,165.4 L55.3,165.3 L55.2,165.1 L55.2,165.0 L55.2,164.8 L55.2,164.7 L55.2,164.5 L55.2,164.3 L55.2,164.1 L55.2,163.9 L55.2,163.6 L55.2,163.4 L55.3,163.1 L55.3,162.8 L55.4,162.4 L55.4,162.0 L55.5,161.5 L55.5,161.0 L55.6,160.5 L55.7,159.8 L55.7,159.1 L55.8,158.4 L55.9,157.5 L56.0,156.5 L56.1,155.5 L56.2,154.3 L56.3,153.0 L56.5,151.7 L56.6,150.2 L56.7,148.6 L56.9,146.9 L57.0,145.2 L57.1,143.3 L57.3,141.4 L57.5,139.5 L57.6,137.6 L57.8,135.6 L58.0,133.7 L58.2,131.9 L58.4,130.1 L58.6,128.4 L58.8,126.8 L59.0,125.4 L59.2,124.0 L59.4,122.8 L59.6,121.6 L59.9,120.6 L60.1,119.7 L60.3,118.9 L60.6,118.2 L60.8,117.5 L61.1,117.0 L61.4,116.5 L61.6,116.1 L61.9,115.7 L62.2,115.4 L62.5,115.1 L62.8,114.8 L63.1,114.6 L63.4,114.4 L63.7,114.2 L64.0,114.0 L64.3,113.9 L64.6,113.7 L65.0,113.6 L65.3,113.5 L65.6,113.4 L66.0,113.3 L66.4,113.2 L66.7,113.2 L67.1,113.1 L67.4,113.0 L67.8,113.0 L68.2,112.9 L68.6,112.8 L69.0,112.8 L69.4,112.7 L69.8,112.7 L70.2,112.6 L70.6,112.6 L71.0,112.5 L71.4,112.5 L71.9,112.4 L72.3,112.4 L72.7,112.3 L73.2,112.3 L73.6,112.2 L74.1,112.2 L74.5,112.1 L75.0,112.1 L75.5,112.1 L75.9,112.0 L76.4,112.0 L76.9,111.9 L77.4,111.9 L77.9,111.9 L78.4,111.8 L78.9,111.8 L79.4,111.7 L79.9,111.7 L80.4,111.7 L80.9,111.6 L81.5,111.6 L82.0,111.5 L82.5,111.5 L83.1,111.5 L83.6,111.4 L84.2,111.4 L84.7,111.4 L85.3,111.3 L85.8,111.3 L86.4,111.2 L87.0,111.2 L87.5,111.2 L88.1,111.1 L88.7,111.1 L89.3,111.1 L89.9,111.0 L90.5,111.0 L91.1,111.0 L91.7,110.9 L92.3,110.9 L92.9,110.9 L93.5,110.8 L94.2,110.8 L94.8,110.8 L95.4,110.7 L96.0,110.7 L96.7,110.7 L97.3,110.6 L98.0,110.6 L98.6,110.6 L99.3,110.5 L99.9,110.5 L100.6,110.5 L101.3,110.4 L101.9,110.4 L102.6,110.4 L103.3,110.3 L104.0,110.3 L104.6,110.3 L105.3,110.3 L106.0,110.2 L106.7,110.2 L107.4,110.2 L108.1,110.1 L108.8,110.1 L109.5,110.1 L110.2,110.1 L110.9,110.0 L111.7,110.0 L112.4,110.0 L113.1,110.0 L113.8,109.9 L114.6,109.9 L115.3,109.9 L116.0,109.9 L116.8,109.8 L117.5,109.8 L118.3,109.8 L119.0,109.8 L119.8,109.7 L120.5,109.7 L121.3,109.7 L122.0,109.7 L122.8,109.6 L123.5,109.6 L124.3,109.6 L125.1,109.6 L125.8,109.6 L126.6,109.5 L127.4,109.5 L128.2,109.5 L129.0,109.5 L129.7,109.5 L130.5,109.4 L131.3,109.4 L132.1,109.4 L132.9,109.4 L133.7,109.4 L134.5,109.3 L135.3,109.3 L136.1,109.3 L136.9,109.3 L137.7,109.3 L138.5,109.3 L139.3,109.3 L140.1,109.2 L140.9,109.2 L141.8,109.2 L142.6,109.2 L143.4,109.2 L144.2,109.2 L145.0,109.2 L145.8,109.1 L146.7,109.1 L147.5,109.1 L148.3,109.1 L149.2,109.1 L150.0,109.1 L150.8,109.1 L151.6,109.1 L152.5,109.1 L153.3,109.0 L154.1,109.0 L155.0,109.0 L155.8,109.0 L156.7,109.0 L157.5,109.0 L158.3,109.0 L159.2,109.0 L160.0,109.0 L160.9,109.0 L161.7,109.0 L162.6,109.0 L163.4,109.0 L164.3,108.9 L165.1,108.9 L165.9,108.9 L166.8,108.9 L167.6,108.9 L168.5,108.9 L169.3,108.9 L170.2,108.9 L171.0,108.9 L171.9,108.9 L172.7,108.9 L173.6,108.9 L174.4,108.9 L175.3,108.9 L176.1,108.9 L177.0,108.9Z" fill="none" stroke="#1010ff" stroke-width="1.5" stroke-linejoin="round"/>
<path d="M177.0,75.4 L177.9,75.4 L178.7,75.4 L179.6,75.4 L180.4,75.4 L181.3,75.4 L182.1,75.4 L183.0,75.4 L183.8,75.4 L184.7,75.4 L185.5,75.4 L186.4,75.4 L187.2,75.4 L188.1,75.4 L188.9,75.4 L189.7,75.4 L190.6,75.4 L191.4,75.4 L192.3,75.4 L193.1,75.4 L194.0,75.4 L194.8,75.5 L195.7,75.5 L196.5,75.5 L197.3,75.5 L198.2,75.5 L199.0,75.5 L199.9,75.5 L200.7,75.5 L201.5,75.5 L202.4,75.5 L203.2,75.5 L204.0,75.5 L204.8,75.5 L205.7,75.5 L206.5,75.5 L207.3,75.5 L208.2,75.5 L209.0,75.5 L209.8,75.5 L210.6,75.5 L211.4,75.5 L212.2,75.5 L213.1,75.5 L213.9,75.6 L214.7,75.6 L215.5,75.6 L216.3,75.6 L217.1,75.6 L217.9,75.6 L218.7,75.6 L219.5,75.6 L220.3,75.6 L221.1,75.6 L221.9,75.6 L222.7,75.6 L223.5,75.6 L224.3,75.6 L225.0,75.7 L225.8,75.7 L226.6,75.7 L227.4,75.7 L228.2,75.7 L228.9,75.7 L229.7,75.7 L230.5,75.7 L231.2,75.7 L232.0,75.7 L232.7,75.8 L233.5,75.8 L234.2,75.8 L235.0,75.8 L235.7,75.8 L236.5,75.8 L237.2,75.8 L238.0,75.8 L238.7,75.9 L239.4,75.9 L240.2,75.9 L240.9,75.9 L241.6,75.9 L242.3,75.9 L243.1,76.0 L243.8,76.0 L244.5,76.0 L245.2,76.0 L245.9,76.0 L246.6,76.0 L247.3,76.1 L248.0,76.1 L248.7,76.1 L249.4,76.1 L250.0,76.1 L250.7,76.2 L251.4,76.2 L252.1,76.2 L252.7,76.2 L253.4,76.3 L254.1,76.3 L254.7,76.3 L255.4,76.3 L256.0,76.4 L256.7,76.4 L257.3,76.4 L258.0,76.4 L258.6,76.5 L259.2,76.5 L259.8,76.5 L260.5,76.6 L261.1,76.6 L261.7,76.6 L262.3,76.7 L262.9,76.7 L263.5,76.7 L264.1,76.8 L264.7,76.8 L265.3,76.8 L265.9,76.9 L266.5,76.9 L267.0,77.0 L267.6,77.0 L268.2,77.1 L268.7,77.1 L269.3,77.2 L269.8,77.2 L270.4,77.3 L270.9,77.3 L271.5,77.4 L272.0,77.4 L272.5,77.5 L273.1,77.5 L273.6,77.6 L274.1,77.7 L274.6,77.7 L275.1,77.8 L275.6,77.9 L276.1,77.9 L276.6,78.0 L277.1,78.1 L277.6,78.2 L278.1,78.2 L278.5,78.3 L279.0,78.4 L279.5,78.5 L279.9,78.6 L280.4,78.7 L280.8,78.8 L281.3,78.9 L281.7,79.0 L282.1,79.1 L282.6,79.2 L283.0,79.3 L283.4,79.4 L283.8,79.5 L284.2,79.6 L284.6,79.8 L285.0,79.9 L285.4,80.0 L285.8,80.2 L286.2,80.3 L286.6,80.5 L286.9,80.6 L287.3,80.8 L287.6,80.9 L288.0,81.1 L288.4,81.3 L288.7,81.4 L289.0,81.6 L289.4,81.8 L289.7,82.0 L290.0,82.2 L290.3,82.4 L290.6,82.6 L290.9,82.8 L291.2,83.1 L291.5,83.3 L291.8,83.5 L292.1,83.8 L292.4,84.0 L292.6,84.3 L292.9,84.6 L293.2,84.8 L293.4,85.1 L293.7,85.4 L293.9,85.7 L294.1,86.0 L294.4,86.3 L294.6,86.7 L294.8,87.0 L295.0,87.4 L295.2,87.7 L295.4,88.1 L295.6,88.5 L295.8,88.9 L296.0,89.3 L296.2,89.7 L296.4,90.1 L296.5,90.5 L296.7,91.0 L296.9,91.4 L297.0,91.9 L297.1,92.4 L297.3,92.9 L297.4,93.4 L297.5,93.9 L297.7,94.5 L297.8,95.0 L297.9,95.6 L298.0,96.1 L298.1,96.7 L298.2,97.3 L298.3,98.0 L298.3,98.6 L298.4,99.2 L298.5,99.9 L298.5,100.6 L298.6,101.2 L298.6,101.9 L298.7,102.7 L298.7,103.4 L298.8,104.1 L298.8,104.9 L298.8,105.7 L298.8,106.4 L298.8,107.2 L298.8,108.0 L298.8,108.9 L298.8,109.7 L298.8,110.6 L298.8,111.4 L298.7,112.3 L298.7,113.2 L298.7,114.1 L298.6,115.0 L298.6,115.9 L298.5,116.8 L298.4,117.8 L298.4,118.7 L298.3,119.7 L298.2,120.6 L298.1,121.6 L298.0,122.6 L297.9,123.6 L297.8,124.6 L297.7,125.6 L297.6,126.6 L297.5,127.6 L297.3,128.6 L297.2,129.6 L297.1,130.7 L296.9,131.7 L296.8,132.7 L296.6,133.7 L296.5,134.8 L296.3,135.8 L296.1,136.8 L295.9,139.6 L295.7,142.4 L295.5,145.1 L295.3,147.8 L295.1,150.5 L294.9,153.1 L294.7,155.7 L294.5,158.2 L294.3,160.6 L294.0,163.0 L293.8,165.3 L293.5,167.5 L293.3,169.6 L293.0,171.6 L292.8,173.5 L292.5,175.4 L292.2,177.2 L292.0,178.9 L291.7,180.5 L291.4,182.0 L291.1,183.4 L290.8,184.8 L290.5,186.1 L290.2,187.3 L289.8,188.4 L289.5,189.5 L289.2,190.5 L288.9,191.5 L288.5,192.4 L288.2,193.2 L287.8,194.0 L287.5,194.8 L287.1,195.5 L286.7,196.1 L286.4,196.7 L286.0,197.3 L285.6,197.9 L285.2,198.4 L284.8,198.9 L284.4,199.3 L284.0,199.7 L283.6,200.2 L283.2,200.5 L282.8,200.9 L282.4,201.2 L281.9,201.6 L281.5,201.9 L281.1,202.1 L280.6,202.4 L280.2,202.7 L279.7,202.9 L279.2,203.2 L278.8,203.4 L278.3,203.6 L277.8,203.8 L277.3,204.0 L276.9,204.2 L276.4,204.4 L275.9,204.5 L275.4,204.7 L274.9,204.8 L274.4,205.0 L273.9,205.1 L273.3,205.3 L272.8,205.4 L272.3,205.6 L271.7,205.7 L271.2,205.8 L270.7,205.9 L270.1,206.0 L269.6,206.2 L269.0,206.3 L268.5,206.4 L267.9,206.5 L267.3,206.6 L266.7,206.7 L266.2,206.8 L265.6,206.9 L265.0,207.0 L264.4,207.1 L263.8,207.2 L263.2,207.3 L262.6,207.3 L262.0,207.4 L261.4,207.5 L260.8,207.6 L260.2,207.7 L259.5,207.8 L258.9,207.8 L258.3,207.9 L257.6,208.0 L257.0,208.1 L256.3,208.1 L255.7,208.2 L255.0,208.3 L254.4,208.4 L253.7,208.4 L253.1,208.5 L252.4,208.6 L251.7,208.6 L251.1,208.7 L250.4,208.8 L249.7,208.8 L249.0,208.9 L248.3,209.0 L247.6,209.0 L246.9,209.1 L246.2,209.2 L245.5,209.2 L244.8,209.3 L244.1,209.3 L243.4,209.4 L242.7,209.5 L242.0,209.5 L241.3,209.6 L240.5,209.6 L239.8,209.7 L239.1,209.7 L238.3,209.8 L237.6,209.8 L236.9,209.9 L236.1,209.9 L235.4,210.0 L234.6,210.0 L233.9,210.1 L233.1,210.1 L232.4,210.2 L231.6,210.2 L230.8,210.3 L230.1,210.3 L229.3,210.4 L228.5,210.4 L227.8,210.5 L227.0,210.5 L226.2,210.5 L225.4,210.6 L224.6,210.6 L223.9,210.7 L223.1,210.7 L222.3,210.7 L221.5,210.8 L220.7,210.8 L219.9,210.9 L219.1,210.9 L218.3,210.9 L217.5,211.0 L216.7,211.0 L215.9,211.0 L215.1,211.1 L214.3,211.1 L213.5,211.1 L212.7,211.2 L211.8,211.2 L211.0,211.2 L210.2,211.2 L209.4,211.3 L208.6,211.3 L207.7,211.3 L206.9,211.3 L206.1,211.4 L205.3,211.4 L204.4,211.4 L203.6,211.4 L202.8,211.5 L201.9,211.5 L201.1,211.5 L200.3,211.5 L199.4,211.5 L198.6,211.6 L197.8,211.6 L196.9,211.6 L196.1,211.6 L195.2,211.6 L194.4,211.6 L193.6,211.7 L192.7,211.7 L191.9,211.7 L191.0,211.7 L190.2,211.7 L189.3,211.7 L188.5,211.7 L187.6,211.7 L186.8,211.7 L185.9,211.8 L185.1,211.8 L184.2,211.8 L183.4,211.8 L182.5,211.8 L181.7,211.8 L180.8,211.8 L180.0,211.8 L179.1,211.8 L178.3,211.8 L177.4,211.8 L176.6,211.8 L175.7,211.8 L174.9,211.8 L174.0,211.8 L173.2,211.8 L172.3,211.8 L171.5,211.8 L170.6,211.8 L169.8,211.8 L168.9,211.8 L168.1,211.8 L167.2,211.8 L166.4,211.8 L165.5,211.8 L164.7,211.8 L163.8,211.8 L163.0,211.8 L162.1,211.8 L161.3,211.8 L160.4,211.8 L159.6,211.8 L158.8,211.8 L157.9,211.8 L157.1,211.8 L156.2,211.8 L155.4,211.8 L154.6,211.8 L153.7,211.7 L152.9,211.7 L152.1,211.7 L151.2,211.7 L150.4,211.7 L149.6,211.7 L148.7,211.7 L147.9,211.7 L147.1,211.7 L146.3,211.7 L145.4,211.7 L144.6,211.7 L143.8,211.7 L143.0,211.7 L142.2,211.7 L141.3,211.7 L140.5,211.7 L139.7,211.7 L138.9,211.7 L138.1,211.6 L137.3,211.6 L136.5,211.6 L135.7,211.6 L134.9,211.6 L134.1,211.6 L133.3,211.6 L132.5,211.6 L131.7,211.6 L130.9,211.6 L130.1,211.6 L129.4,211.6 L128.6,211.6 L127.8,211.5 L127.0,211.5 L126.2,211.5 L125.5,211.5 L124.7,211.5 L123.9,211.5 L123.2,211.5 L122.4,211.5 L121.6,211.5 L120.9,211.4 L120.1,211.4 L119.4,211.4 L118.6,211.4 L117.9,211.4 L117.1,211.4 L116.4,211.4 L115.7,211.4 L114.9,211.3 L114.2,211.3 L113.5,211.3 L112.7,211.3 L112.0,211.3 L111.3,211.3 L110.6,211.2 L109.9,211.2 L109.2,211.2 L108.5,211.2 L107.8,211.2 L107.1,211.2 L106.4,211.1 L105.7,211.1 L105.0,211.1 L104.3,211.1 L103.6,211.0 L102.9,211.0 L102.3,211.0 L101.6,211.0 L100.9,211.0 L100.3,210.9 L99.6,210.9 L99.0,210.9 L98.3,210.8 L97.7,210.8 L97.0,210.8 L96.4,210.8 L95.7,210.7 L95.1,210.7 L94.5,210.7 L93.8,210.6 L93.2,210.6 L92.6,210.6 L92.0,210.5 L91.4,210.5 L90.8,210.5 L90.2,210.4 L89.6,210.4 L89.0,210.3 L88.4,210.3 L87.8,210.3 L87.3,210.2 L86.7,210.2 L86.1,210.1 L85.5,210.1 L85.0,210.0 L84.4,210.0 L83.9,209.9 L83.3,209.9 L82.8,209.8 L82.3,209.8 L81.7,209.7 L81.2,209.6 L80.7,209.6 L80.1,209.5 L79.6,209.4 L79.1,209.4 L78.6,209.3 L78.1,209.2 L77.6,209.2 L77.1,209.1 L76.7,209.0 L76.2,208.9 L75.7,208.8 L75.2,208.7 L74.8,208.7 L74.3,208.6 L73.8,208.5 L73.4,208.4 L72.9,208.3 L72.5,208.2 L72.1,208.1 L71.6,207.9 L71.2,207.8 L70.8,207.7 L70.4,207.6 L70.0,207.5 L69.6,207.3 L69.2,207.2 L68.8,207.1 L68.4,206.9 L68.0,206.8 L67.6,206.6 L67.3,206.5 L66.9,206.3 L66.5,206.1 L66.2,206.0 L65.8,205.8 L65.5,205.6 L65.1,205.4 L64.8,205.2 L64.5,205.0 L64.2,204.8 L63.8,204.6 L63.5,204.4 L63.2,204.2 L62.9,203.9 L62.6,203.7 L62.3,203.5 L62.0,203.2 L61.8,202.9 L61.5,202.7 L61.2,202.4 L61.0,202.1 L60.7,201.8 L60.5,201.5 L60.2,201.2 L60.0,200.9 L59.7,200.5 L59.5,200.2 L59.3,199.9 L59.1,199.5 L58.9,199.1 L58.7,198.7 L58.5,198.3 L58.3,197.9 L58.1,197.5 L57.9,197.1 L57.7,196.7 L57.5,196.2 L57.4,195.8 L57.2,195.3 L57.1,194.8 L56.9,194.3 L56.8,193.8 L56.7,193.2 L56.5,192.7 L56.4,192.2 L56.3,191.6 L56.2,191.0 L56.1,190.4 L56.0,189.8 L55.9,189.2 L55.8,188.5 L55.7,187.9 L55.6,187.2 L55.6,186.5 L55.5,185.8 L55.4,185.1 L55.4,184.4 L55.3,183.7 L55.3,182.9 L55.3,182.1 L55.2,181.3 L55.2,180.5 L55.2,179.7 L55.2,178.9 L55.2,178.1 L55.2,177.2 L55.2,176.3 L55.2,175.5 L55.2,174.6 L55.2,173.6 L55.3,172.7 L55.3,171.8 L55.4,170.8 L55.4,169.9 L55.5,168.9 L55.5,167.9 L55.6,167.0 L55.7,166.0 L55.7,164.9 L55.8,163.9 L55.9,162.9 L56.0,161.9 L56.1,160.8 L56.2,159.8 L56.3,158.7 L56.5,157.7 L56.6,156.6 L56.7,155.5 L56.9,154.5 L57.0,153.4 L57.1,152.3 L57.3,151.2 L57.5,150.2 L57.6,149.1 L57.8,148.0 L58.0,146.2 L58.2,143.5 L58.4,140.9 L58.6,138.3 L58.8,135.7 L59.0,133.2 L59.2,130.7 L59.4,128.3 L59.6,125.9 L59.9,123.6 L60.1,121.4 L60.3,119.2 L60.6,117.2 L60.8,115.2 L61.1,113.3 L61.4,111.5 L61.6,109.7 L61.9,108.1 L62.2,106.5 L62.5,105.0 L62.8,103.6 L63.1,102.3 L63.4,101.0 L63.7,99.8 L64.0,98.7 L64.3,97.6 L64.6,96.6 L65.0,95.7 L65.3,94.8 L65.6,93.9 L66.0,93.2 L66.4,92.4 L66.7,91.7 L67.1,91.1 L67.4,90.5 L67.8,89.9 L68.2,89.3 L68.6,88.8 L69.0,88.4 L69.4,87.9 L69.8,87.5 L70.2,87.1 L70.6,86.7 L71.0,86.3 L71.4,86.0 L71.9,85.7 L72.3,85.4 L72.7,85.1 L73.2,84.8 L73.6,84.6 L74.1,84.3 L74.5,84.1 L75.0,83.9 L75.5,83.7 L75.9,83.5 L76.4,83.3 L76.9,83.1 L77.4,82.9 L77.9,82.7 L78.4,82.6 L78.9,82.4 L79.4,82.3 L79.9,82.1 L80.4,82.0 L80.9,81.8 L81.5,81.7 L82.0,81.6 L82.5,81.4 L83.1,81.3 L83.6,81.2 L84.2,81.1 L84.7,81.0 L85.3,80.9 L85.8,80.8 L86.4,80.7 L87.0,80.6 L87.5,80.5 L88.1,80.4 L88.7,80.3 L89.3,80.2 L89.9,80.1 L90.5,80.0 L91.1,79.9 L91.7,79.8 L92.3,79.7 L92.9,79.7 L93.5,79.6 L94.2,79.5 L94.8,79.4 L95.4,79.3 L96.0,79.3 L96.7,79.2 L97.3,79.1 L98.0,79.0 L98.6,79.0 L99.3,78.9 L99.9,78.8 L100.6,78.7 L101.3,78.7 L101.9,78.6 L102.6,78.5 L103.3,78.5 L104.0,78.4 L104.6,78.3 L105.3,78.3 L106.0,78.2 L106.7,78.2 L107.4,78.1 L108.1,78.0 L108.8,78.0 L109.5,77.9 L110.2,77.9 L110.9,77.8 L111.7,77.7 L112.4,77.7 L113.1,77.6 L113.8,77.6 L114.6,77.5 L115.3,77.5 L116.0,77.4 L116.8,77.4 L117.5,77.3 L118.3,77.3 L119.0,77.2 L119.8,77.2 L120.5,77.1 L121.3,77.1 L122.0,77.0 L122.8,77.0 L123.5,76.9 L124.3,76.9 L125.1,76.8 L125.8,76.8 L126.6,76.7 L127.4,76.7 L128.2,76.7 L129.0,76.6 L129.7,76.6 L130.5,76.5 L131.3,76.5 L132.1,76.5 L132.9,76.4 L133.7,76.4 L134.5,76.3 L135.3,76.3 L136.1,76.3 L136.9,76.2 L137.7,76.2 L138.5,76.2 L139.3,76.1 L140.1,76.1 L140.9,76.1 L141.8,76.1 L142.6,76.0 L143.4,76.0 L144.2,76.0 L145.0,75.9 L145.8,75.9 L146.7,75.9 L147.5,75.9 L148.3,75.8 L149.2,75.8 L150.0,75.8 L150.8,75.8 L151.6,75.7 L152.5,75.7 L153.3,75.7 L154.1,75.7 L155.0,75.7 L155.8,75.6 L156.7,75.6 L157.5,75.6 L158.3,75.6 L159.2,75.6 L160.0,75.6 L160.9,75.6 L161.7,75.5 L162.6,75.5 L163.4,75.5 L164.3,75.5 L165.1,75.5 L165.9,75.5 L166.8,75.5 L167.6,75.5 L168.5,75.5 L169.3,75.5 L170.2,75.4 L171.0,75.4 L171.9,75.4 L172.7,75.4 L173.6,75.4 L174.4,75.4 L175.3,75.4 L176.1,75.4 L177.0,75.4Z" fill="none" stroke="#ff1010" stroke-width="1.5" stroke-linejoin="round"/>
<path d="M177.0,51.1 L177.9,51.1 L178.7,51.1 L179.6,51.1 L180.4,51.1 L181.3,51.1 L182.1,51.1 L183.0,51.2 L183.8,51.2 L184.7,51.2 L185.5,51.2 L186.4,51.2 L187.2,51.2 L188.1,51.2 L188.9,51.2 L189.7,51.2 L190.6,51.2 L191.4,51.2 L192.3,51.2 L193.1,51.2 L194.0,51.2 L194.8,51.2 L195.7,51.2 L196.5,51.2 L197.3,51.2 L198.2,51.2 L199.0,51.2 L199.9,51.2 L200.7,51.3 L201.5,51.3 L202.4,51.3 L203.2,51.3 L204.0,51.3 L204.8,51.3 L205.7,51.3 L206.5,51.3 L207.3,51.3 L208.2,51.3 L209.0,51.4 L209.8,51.4 L210.6,51.4 L211.4,51.4 L212.2,51.4 L213.1,51.4 L213.9,51.4 L214.7,51.4 L215.5,51.5 L216.3,51.5 L217.1,51.5 L217.9,51.5 L218.7,51.5 L219.5,51.5 L220.3,51.5 L221.1,51.6 L221.9,51.6 L222.7,51.6 L223.5,51.6 L224.3,51.6 L225.0,51.6 L225.8,51.7 L226.6,51.7 L227.4,51.7 L228.2,51.7 L228.9,51.7 L229.7,51.8 L230.5,51.8 L231.2,51.8 L232.0,51.8 L232.7,51.8 L233.5,51.9 L234.2,51.9 L235.0,51.9 L235.7,51.9 L236.5,52.0 L237.2,52.0 L238.0,52.0 L238.7,52.0 L239.4,52.1 L240.2,52.1 L240.9,52.1 L241.6,52.1 L242.3,52.2 L243.1,52.2 L243.8,52.2 L244.5,52.3 L245.2,52.3 L245.9,52.3 L246.6,52.3 L247.3,52.4 L248.0,52.4 L248.7,52.4 L249.4,52.5 L250.0,52.5 L250.7,52.5 L251.4,52.6 L252.1,52.6 L252.7,52.7 L253.4,52.7 L254.1,52.7 L254.7,52.8 L255.4,52.8 L256.0,52.9 L256.7,52.9 L257.3,52.9 L258.0,53.0 L258.6,53.0 L259.2,53.1 L259.8,53.1 L260.5,53.2 L261.1,53.2 L261.7,53.3 L262.3,53.3 L262.9,53.4 L263.5,53.4 L264.1,53.5 L264.7,53.5 L265.3,53.6 L265.9,53.6 L266.5,53.7 L267.0,53.8 L267.6,53.8 L268.2,53.9 L268.7,53.9 L269.3,54.0 L269.8,54.1 L270.4,54.1 L270.9,54.2 L271.5,54.3 L272.0,54.4 L272.5,54.4 L273.1,54.5 L273.6,54.6 L274.1,54.7 L274.6,54.8 L275.1,54.8 L275.6,54.9 L276.1,55.0 L276.6,55.1 L277.1,55.2 L277.6,55.3 L278.1,55.4 L278.5,55.5 L279.0,55.6 L279.5,55.7 L279.9,55.8 L280.4,56.0 L280.8,56.1 L281.3,56.2 L281.7,56.3 L282.1,56.4 L282.6,56.6 L283.0,56.7 L283.4,56.9 L283.8,57.0 L284.2,57.1 L284.6,57.3 L285.0,57.5 L285.4,57.6 L285.8,57.8 L286.2,58.0 L286.6,58.1 L286.9,58.3 L287.3,58.5 L287.6,58.7 L288.0,58.9 L288.4,59.1 L288.7,59.3 L289.0,59.5 L289.4,59.7 L289.7,60.0 L290.0,60.2 L290.3,60.5 L290.6,60.7 L290.9,61.0 L291.2,61.2 L291.5,61.5 L291.8,61.8 L292.1,62.1 L292.4,62.4 L292.6,62.7 L292.9,63.0 L293.2,63.4 L293.4,63.7 L293.7,64.1 L293.9,64.4 L294.1,64.8 L294.4,65.2 L294.6,65.6 L294.8,66.0 L295.0,66.4 L295.2,66.9 L295.4,67.3 L295.6,67.8 L295.8,68.3 L296.0,68.8 L296.2,69.3 L296.4,69.8 L296.5,70.3 L296.7,70.9 L296.9,71.5 L297.0,72.0 L297.1,72.7 L297.3,73.3 L297.4,73.9 L297.5,74.6 L297.7,75.2 L297.8,75.9 L297.9,76.7 L298.0,77.4 L298.1,78.1 L298.2,78.9 L298.3,79.7 L298.3,80.5 L298.4,81.4 L298.5,82.2 L298.5,83.1 L298.6,84.0 L298.6,84.9 L298.7,85.9 L298.7,86.8 L298.8,87.8 L298.8,88.8 L298.8,89.8 L298.8,90.9 L298.8,92.0 L298.8,93.1 L298.8,94.2 L298.8,95.3 L298.8,96.5 L298.8,97.7 L298.7,98.9 L298.7,100.1 L298.7,101.3 L298.6,102.6 L298.6,103.9 L298.5,105.2 L298.4,106.5 L298.4,107.8 L298.3,109.2 L298.2,110.6 L298.1,112.0 L298.0,113.4 L297.9,114.8 L297.8,116.2 L297.7,117.7 L297.6,119.2 L297.5,120.6 L297.3,122.1 L297.2,123.6 L297.1,125.1 L296.9,126.6 L296.8,128.1 L296.6,129.7 L296.5,131.2 L296.3,132.7 L296.1,134.3 L295.9,135.8 L295.7,137.3 L295.5,138.9 L295.3,140.4 L295.1,143.0 L294.9,145.9 L294.7,148.7 L294.5,151.5 L294.3,154.3 L294.0,157.0 L293.8,159.7 L293.5,162.4 L293.3,165.0 L293.0,167.6 L292.8,170.2 L292.5,172.6 L292.2,175.1 L292.0,177.4 L291.7,179.7 L291.4,182.0 L291.1,184.1 L290.8,186.2 L290.5,188.3 L290.2,190.3 L289.8,192.2 L289.5,194.0 L289.2,195.8 L288.9,197.5 L288.5,199.1 L288.2,200.7 L287.8,202.2 L287.5,203.7 L287.1,205.1 L286.7,206.4 L286.4,207.7 L286.0,208.9 L285.6,210.1 L285.2,211.2 L284.8,212.3 L284.4,213.3 L284.0,214.3 L283.6,215.3 L283.2,216.2 L282.8,217.0 L282.4,217.8 L281.9,218.6 L281.5,219.3 L281.1,220.0 L280.6,220.7 L280.2,221.4 L279.7,222.0 L279.2,222.6 L278.8,223.1 L278.3,223.6 L277.8,224.1 L277.3,224.6 L276.9,225.1 L276.4,225.5 L275.9,226.0 L275.4,226.4 L274.9,226.7 L274.4,227.1 L273.9,227.5 L273.3,227.8 L272.8,228.1 L272.3,228.4 L271.7,228.7 L271.2,229.0 L270.7,229.3 L270.1,229.5 L269.6,229.8 L269.0,230.0 L268.5,230.2 L267.9,230.4 L267.3,230.7 L266.7,230.9 L266.2,231.0 L265.6,231.2 L265.0,231.4 L264.4,231.6 L263.8,231.8 L263.2,231.9 L262.6,232.1 L262.0,232.2 L261.4,232.4 L260.8,232.5 L260.2,232.6 L259.5,232.8 L258.9,232.9 L258.3,233.0 L257.6,233.1 L257.0,233.2 L256.3,233.4 L255.7,233.5 L255.0,233.6 L254.4,233.7 L253.7,233.8 L253.1,233.9 L252.4,234.0 L251.7,234.0 L251.1,234.1 L250.4,234.2 L249.7,234.3 L249.0,234.4 L248.3,234.5 L247.6,234.5 L246.9,234.6 L246.2,234.7 L245.5,234.8 L244.8,234.8 L244.1,234.9 L243.4,235.0 L242.7,235.0 L242.0,235.1 L241.3,235.2 L240.5,235.2 L239.8,235.3 L239.1,235.3 L238.3,235.4 L237.6,235.5 L236.9,235.5 L236.1,235.6 L235.4,235.6 L234.6,235.7 L233.9,235.7 L233.1,235.8 L232.4,235.8 L231.6,235.9 L230.8,235.9 L230.1,235.9 L229.3,236.0 L228.5,236.0 L227.8,236.1 L227.0,236.1 L226.2,236.2 L225.4,236.2 L224.6,236.2 L223.9,236.3 L223.1,236.3 L222.3,236.3 L221.5,236.4 L220.7,236.4 L219.9,236.4 L219.1,236.5 L218.3,236.5 L217.5,236.5 L216.7,236.6 L215.9,236.6 L215.1,236.6 L214.3,236.7 L213.5,236.7 L212.7,236.7 L211.8,236.7 L211.0,236.8 L210.2,236.8 L209.4,236.8 L208.6,236.8 L207.7,236.9 L206.9,236.9 L206.1,236.9 L205.3,236.9 L204.4,237.0 L203.6,237.0 L202.8,237.0 L201.9,237.0 L201.1,237.0 L200.3,237.0 L199.4,237.1 L198.6,237.1 L197.8,237.1 L196.9,237.1 L196.1,237.1 L195.2,237.1 L194.4,237.1 L193.6,237.2 L192.7,237.2 L191.9,237.2 L191.0,237.2 L190.2,237.2 L189.3,237.2 L188.5,237.2 L187.6,237.2 L186.8,237.2 L185.9,237.2 L185.1,237.3 L184.2,237.3 L183.4,237.3 L182.5,237.3 L181.7,237.3 L180.8,237.3 L180.0,237.3 L179.1,237.3 L178.3,237.3 L177.4,237.3 L176.6,237.3 L175.7,237.3 L174.9,237.3 L174.0,237.3 L173.2,237.3 L172.3,237.3 L171.5,237.3 L170.6,237.3 L169.8,237.3 L168.9,237.3 L168.1,237.3 L167.2,237.3 L166.4,237.3 L165.5,237.3 L164.7,237.2 L163.8,237.2 L163.0,237.2 L162.1,237.2 L161.3,237.2 L160.4,237.2 L159.6,237.2 L158.8,237.2 L157.9,237.2 L157.1,237.2 L156.2,237.2 L155.4,237.2 L154.6,237.2 L153.7,237.2 L152.9,237.2 L152.1,237.2 L151.2,237.1 L150.4,237.1 L149.6,237.1 L148.7,237.1 L147.9,237.1 L147.1,237.1 L146.3,237.1 L145.4,237.1 L144.6,237.1 L143.8,237.0 L143.0,237.0 L142.2,237.0 L141.3,237.0 L140.5,237.0 L139.7,237.0 L138.9,237.0 L138.1,237.0 L137.3,236.9 L136.5,236.9 L135.7,236.9 L134.9,236.9 L134.1,236.9 L133.3,236.9 L132.5,236.8 L131.7,236.8 L130.9,236.8 L130.1,236.8 L129.4,236.8 L128.6,236.8 L127.8,236.7 L127.0,236.7 L126.2,236.7 L125.5,236.7 L124.7,236.7 L123.9,236.6 L123.2,236.6 L122.4,236.6 L121.6,236.6 L120.9,236.6 L120.1,236.5 L119.4,236.5 L118.6,236.5 L117.9,236.5 L117.1,236.4 L116.4,236.4 L115.7,236.4 L114.9,236.4 L114.2,236.3 L113.5,236.3 L112.7,236.3 L112.0,236.2 L111.3,236.2 L110.6,236.2 L109.9,236.2 L109.2,236.1 L108.5,236.1 L107.8,236.1 L107.1,236.0 L106.4,236.0 L105.7,236.0 L105.0,235.9 L104.3,235.9 L103.6,235.9 L102.9,235.8 L102.3,235.8 L101.6,235.8 L100.9,235.7 L100.3,235.7 L99.6,235.6 L99.0,235.6 L98.3,235.6 L97.7,235.5 L97.0,235.5 L96.4,235.4 L95.7,235.4 L95.1,235.3 L94.5,235.3 L93.8,235.2 L93.2,235.2 L92.6,235.1 L92.0,235.1 L91.4,235.0 L90.8,235.0 L90.2,234.9 L89.6,234.9 L89.0,234.8 L88.4,234.8 L87.8,234.7 L87.3,234.6 L86.7,234.6 L86.1,234.5 L85.5,234.4 L85.0,234.4 L84.4,234.3 L83.9,234.2 L83.3,234.2 L82.8,234.1 L82.3,234.0 L81.7,233.9 L81.2,233.9 L80.7,233.8 L80.1,233.7 L79.6,233.6 L79.1,233.5 L78.6,233.4 L78.1,233.3 L77.6,233.3 L77.1,233.2 L76.7,233.1 L76.2,233.0 L75.7,232.8 L75.2,232.7 L74.8,232.6 L74.3,232.5 L73.8,232.4 L73.4,232.3 L72.9,232.2 L72.5,232.0 L72.1,231.9 L71.6,231.8 L71.2,231.6 L70.8,231.5 L70.4,231.3 L70.0,231.2 L69.6,231.0 L69.2,230.9 L68.8,230.7 L68.4,230.5 L68.0,230.3 L67.6,230.2 L67.3,230.0 L66.9,229.8 L66.5,229.6 L66.2,229.4 L65.8,229.2 L65.5,229.0 L65.1,228.7 L64.8,228.5 L64.5,228.3 L64.2,228.0 L63.8,227.8 L63.5,227.5 L63.2,227.2 L62.9,227.0 L62.6,226.7 L62.3,226.4 L62.0,226.1 L61.8,225.8 L61.5,225.5 L61.2,225.1 L61.0,224.8 L60.7,224.4 L60.5,224.1 L60.2,223.7 L60.0,223.3 L59.7,222.9 L59.5,222.5 L59.3,222.1 L59.1,221.6 L58.9,221.2 L58.7,220.7 L58.5,220.2 L58.3,219.7 L58.1,219.2 L57.9,218.7 L57.7,218.2 L57.5,217.6 L57.4,217.0 L57.2,216.4 L57.1,215.8 L56.9,215.2 L56.8,214.6 L56.7,213.9 L56.5,213.2 L56.4,212.5 L56.3,211.8 L56.2,211.1 L56.1,210.3 L56.0,209.5 L55.9,208.7 L55.8,207.9 L55.7,207.1 L55.6,206.2 L55.6,205.3 L55.5,204.4 L55.4,203.5 L55.4,202.5 L55.3,201.6 L55.3,200.6 L55.3,199.6 L55.2,198.5 L55.2,197.4 L55.2,196.4 L55.2,195.2 L55.2,194.1 L55.2,192.9 L55.2,191.8 L55.2,190.6 L55.2,189.3 L55.2,188.1 L55.3,186.8 L55.3,185.5 L55.4,184.2 L55.4,182.9 L55.5,181.5 L55.5,180.1 L55.6,178.7 L55.7,177.3 L55.7,175.9 L55.8,174.4 L55.9,173.0 L56.0,171.5 L56.1,170.0 L56.2,168.5 L56.3,166.9 L56.5,165.4 L56.6,163.9 L56.7,162.3 L56.9,160.7 L57.0,159.1 L57.1,157.6 L57.3,156.0 L57.5,154.4 L57.6,152.8 L57.8,151.1 L58.0,149.5 L58.2,147.9 L58.4,146.3 L58.6,144.7 L58.8,142.7 L59.0,140.0 L59.2,137.3 L59.4,134.6 L59.6,132.0 L59.9,129.3 L60.1,126.7 L60.3,124.1 L60.6,121.6 L60.8,119.1 L61.1,116.7 L61.4,114.3 L61.6,111.9 L61.9,109.7 L62.2,107.4 L62.5,105.3 L62.8,103.2 L63.1,101.1 L63.4,99.1 L63.7,97.2 L64.0,95.4 L64.3,93.6 L64.6,91.9 L65.0,90.2 L65.3,88.6 L65.6,87.0 L66.0,85.6 L66.4,84.1 L66.7,82.8 L67.1,81.5 L67.4,80.2 L67.8,79.0 L68.2,77.9 L68.6,76.8 L69.0,75.7 L69.4,74.7 L69.8,73.8 L70.2,72.8 L70.6,72.0 L71.0,71.1 L71.4,70.3 L71.9,69.6 L72.3,68.8 L72.7,68.2 L73.2,67.5 L73.6,66.9 L74.1,66.3 L74.5,65.7 L75.0,65.1 L75.5,64.6 L75.9,64.1 L76.4,63.7 L76.9,63.2 L77.4,62.8 L77.9,62.4 L78.4,62.0 L78.9,61.6 L79.4,61.2 L79.9,60.9 L80.4,60.5 L80.9,60.2 L81.5,59.9 L82.0,59.6 L82.5,59.4 L83.1,59.1 L83.6,58.9 L84.2,58.6 L84.7,58.4 L85.3,58.1 L85.8,57.9 L86.4,57.7 L87.0,57.5 L87.5,57.3 L88.1,57.2 L88.7,57.0 L89.3,56.8 L89.9,56.6 L90.5,56.5 L91.1,56.3 L91.7,56.2 L92.3,56.0 L92.9,55.9 L93.5,55.8 L94.2,55.6 L94.8,55.5 L95.4,55.4 L96.0,55.3 L96.7,55.2 L97.3,55.1 L98.0,55.0 L98.6,54.8 L99.3,54.7 L99.9,54.7 L100.6,54.6 L101.3,54.5 L101.9,54.4 L102.6,54.3 L103.3,54.2 L104.0,54.1 L104.6,54.0 L105.3,54.0 L106.0,53.9 L106.7,53.8 L107.4,53.7 L108.1,53.7 L108.8,53.6 L109.5,53.5 L110.2,53.5 L110.9,53.4 L111.7,53.3 L112.4,53.3 L113.1,53.2 L113.8,53.2 L114.6,53.1 L115.3,53.0 L116.0,53.0 L116.8,52.9 L117.5,52.9 L118.3,52.8 L119.0,52.8 L119.8,52.7 L120.5,52.7 L121.3,52.6 L122.0,52.6 L122.8,52.5 L123.5,52.5 L124.3,52.4 L125.1,52.4 L125.8,52.4 L126.6,52.3 L127.4,52.3 L128.2,52.2 L129.0,52.2 L129.7,52.2 L130.5,52.1 L131.3,52.1 L132.1,52.1 L132.9,52.0 L133.7,52.0 L134.5,52.0 L135.3,51.9 L136.1,51.9 L136.9,51.9 L137.7,51.8 L138.5,51.8 L139.3,51.8 L140.1,51.7 L140.9,51.7 L141.8,51.7 L142.6,51.7 L143.4,51.6 L144.2,51.6 L145.0,51.6 L145.8,51.6 L146.7,51.5 L147.5,51.5 L148.3,51.5 L149.2,51.5 L150.0,51.5 L150.8,51.4 L151.6,51.4 L152.5,51.4 L153.3,51.4 L154.1,51.4 L155.0,51.3 L155.8,51.3 L156.7,51.3 L157.5,51.3 L158.3,51.3 L159.2,51.3 L160.0,51.3 L160.9,51.3 L161.7,51.2 L162.6,51.2 L163.4,51.2 L164.3,51.2 L165.1,51.2 L165.9,51.2 L166.8,51.2 L167.6,51.2 L168.5,51.2 L169.3,51.2 L170.2,51.2 L171.0,51.2 L171.9,51.2 L172.7,51.2 L173.6,51.1 L174.4,51.1 L175.3,51.1 L176.1,51.1 L177.0,51.1Z" fill="none" stroke="#10ff10" stroke-width="1.5" stroke-linejoin="round"/>
<path d="M177.0,35.6 L177.9,35.6 L178.7,35.6 L179.6,35.6 L180.4,35.6 L181.3,35.6 L182.1,35.6 L183.0,35.6 L183.8,35.6 L184.7,35.6 L185.5,35.6 L186.4,35.6 L187.2,35.6 L188.1,35.6 L188.9,35.6 L189.7,35.6 L190.6,35.7 L191.4,35.7 L192.3,35.7 L193.1,35.7 L194.0,35.7 L194.8,35.7 L195.7,35.7 L196.5,35.7 L197.3,35.7 L198.2,35.7 L199.0,35.7 L199.9,35.8 L200.7,35.8 L201.5,35.8 L202.4,35.8 L203.2,35.8 L204.0,35.8 L204.8,35.8 L205.7,35.9 L206.5,35.9 L207.3,35.9 L208.2,35.9 L209.0,35.9 L209.8,35.9 L210.6,36.0 L211.4,36.0 L212.2,36.0 L213.1,36.0 L213.9,36.0 L214.7,36.0 L215.5,36.1 L216.3,36.1 L217.1,36.1 L217.9,36.1 L218.7,36.2 L219.5,36.2 L220.3,36.2 L221.1,36.2 L221.9,36.2 L222.7,36.3 L223.5,36.3 L224.3,36.3 L225.0,36.3 L225.8,36.4 L226.6,36.4 L227.4,36.4 L228.2,36.5 L228.9,36.5 L229.7,36.5 L230.5,36.5 L231.2,36.6 L232.0,36.6 L232.7,36.6 L233.5,36.7 L234.2,36.7 L235.0,36.7 L235.7,36.8 L236.5,36.8 L237.2,36.8 L238.0,36.9 L238.7,36.9 L239.4,36.9 L240.2,37.0 L240.9,37.0 L241.6,37.0 L242.3,37.1 L243.1,37.1 L243.8,37.1 L244.5,37.2 L245.2,37.2 L245.9,37.3 L246.6,37.3 L247.3,37.3 L248.0,37.4 L248.7,37.4 L249.4,37.5 L250.0,37.5 L250.7,37.6 L251.4,37.6 L252.1,37.7 L252.7,37.7 L253.4,37.7 L254.1,37.8 L254.7,37.8 L255.4,37.9 L256.0,37.9 L256.7,38.0 L257.3,38.0 L258.0,38.1 L258.6,38.1 L259.2,38.2 L259.8,38.3 L260.5,38.3 L261.1,38.4 L261.7,38.4 L262.3,38.5 L262.9,38.5 L263.5,38.6 L264.1,38.7 L264.7,38.7 L265.3,38.8 L265.9,38.9 L266.5,38.9 L267.0,39.0 L267.6,39.1 L268.2,39.1 L268.7,39.2 L269.3,39.3 L269.8,39.3 L270.4,39.4 L270.9,39.5 L271.5,39.6 L272.0,39.6 L272.5,39.7 L273.1,39.8 L273.6,39.9 L274.1,40.0 L274.6,40.1 L275.1,40.1 L275.6,40.2 L276.1,40.3 L276.6,40.4 L277.1,40.5 L277.6,40.6 L278.1,40.7 L278.5,40.8 L279.0,40.9 L279.5,41.0 L279.9,41.2 L280.4,41.3 L280.8,41.4 L281.3,41.5 L281.7,41.6 L282.1,41.8 L282.6,41.9 L283.0,42.0 L283.4,42.2 L283.8,42.3 L284.2,42.4 L284.6,42.6 L285.0,42.7 L285.4,42.9 L285.8,43.1 L286.2,43.2 L286.6,43.4 L286.9,43.6 L287.3,43.8 L287.6,44.0 L288.0,44.2 L288.4,44.4 L288.7,44.6 L289.0,44.8 L289.4,45.0 L289.7,45.2 L290.0,45.5 L290.3,45.7 L290.6,46.0 L290.9,46.2 L291.2,46.5 L291.5,46.8 L291.8,47.1 L292.1,47.4 L292.4,47.7 L292.6,48.0 L292.9,48.3 L293.2,48.7 L293.4,49.0 L293.7,49.4 L293.9,49.8 L294.1,50.2 L294.4,50.6 L294.6,51.0 L294.8,51.5 L295.0,51.9 L295.2,52.4 L295.4,52.9 L295.6,53.4 L295.8,53.9 L296.0,54.5 L296.2,55.0 L296.4,55.6 L296.5,56.2 L296.7,56.8 L296.9,57.5 L297.0,58.1 L297.1,58.8 L297.3,59.6 L297.4,60.3 L297.5,61.1 L297.7,61.9 L297.8,62.7 L297.9,63.5 L298.0,64.4 L298.1,65.3 L298.2,66.3 L298.3,67.2 L298.3,68.2 L298.4,69.3 L298.5,70.3 L298.5,71.4 L298.6,72.6 L298.6,73.7 L298.7,74.9 L298.7,76.1 L298.8,77.4 L298.8,78.7 L298.8,80.1 L298.8,81.4 L298.8,82.8 L298.8,84.3 L298.8,85.8 L298.8,87.3 L298.8,88.8 L298.8,90.4 L298.7,92.1 L298.7,93.7 L298.7,95.4 L298.6,97.2 L298.6,98.9 L298.5,100.7 L298.4,102.5 L298.4,104.4 L298.3,106.3 L298.2,108.2 L298.1,110.1 L298.0,112.1 L297.9,114.1 L297.8,116.1 L297.7,118.1 L297.6,120.2 L297.5,122.3 L297.3,124.4 L297.2,126.5 L297.1,128.6 L296.9,130.7 L296.8,132.8 L296.6,135.0 L296.5,137.1 L296.3,139.3 L296.1,141.4 L295.9,143.6 L295.7,145.9 L295.5,148.2 L295.3,150.5 L295.1,152.8 L294.9,155.0 L294.7,157.3 L294.5,159.5 L294.3,161.7 L294.0,163.9 L293.8,166.1 L293.5,168.2 L293.3,170.3 L293.0,172.4 L292.8,174.5 L292.5,176.5 L292.2,178.5 L292.0,180.4 L291.7,182.4 L291.4,184.3 L291.1,186.1 L290.8,187.9 L290.5,189.7 L290.2,191.5 L289.8,193.2 L289.5,194.9 L289.2,196.5 L288.9,198.1 L288.5,199.6 L288.2,201.2 L287.8,202.6 L287.5,204.1 L287.1,205.5 L286.7,206.9 L286.4,208.2 L286.0,209.5 L285.6,210.8 L285.2,212.0 L284.8,213.2 L284.4,214.3 L284.0,215.5 L283.6,216.6 L283.2,217.6 L282.8,218.7 L282.4,219.7 L281.9,220.6 L281.5,221.6 L281.1,222.5 L280.6,223.3 L280.2,224.2 L279.7,225.0 L279.2,225.8 L278.8,226.6 L278.3,227.4 L277.8,228.1 L277.3,228.8 L276.9,229.5 L276.4,230.1 L275.9,230.8 L275.4,231.4 L274.9,232.0 L274.4,232.6 L273.9,233.1 L273.3,233.7 L272.8,234.2 L272.3,234.7 L271.7,235.2 L271.2,235.7 L270.7,236.2 L270.1,236.6 L269.6,237.1 L269.0,237.5 L268.5,237.9 L267.9,238.3 L267.3,238.7 L266.7,239.0 L266.2,239.4 L265.6,239.7 L265.0,240.1 L264.4,240.4 L263.8,240.7 L263.2,241.0 L262.6,241.3 L262.0,241.6 L261.4,241.9 L260.8,242.2 L260.2,242.5 L259.5,242.7 L258.9,243.0 L258.3,243.2 L257.6,243.4 L257.0,243.7 L256.3,243.9 L255.7,244.1 L255.0,244.3 L254.4,244.5 L253.7,244.7 L253.1,244.9 L252.4,245.1 L251.7,245.3 L251.1,245.5 L250.4,245.6 L249.7,245.8 L249.0,246.0 L248.3,246.1 L247.6,246.3 L246.9,246.4 L246.2,246.6 L245.5,246.7 L244.8,246.9 L244.1,247.0 L243.4,247.1 L242.7,247.3 L242.0,247.4 L241.3,247.5 L240.5,247.6 L239.8,247.8 L239.1,247.9 L238.3,248.0 L237.6,248.1 L236.9,248.2 L236.1,248.3 L235.4,248.4 L234.6,248.5 L233.9,248.6 L233.1,248.7 L232.4,248.8 L231.6,248.9 L230.8,249.0 L230.1,249.0 L229.3,249.1 L228.5,249.2 L227.8,249.3 L227.0,249.4 L226.2,249.4 L225.4,249.5 L224.6,249.6 L223.9,249.7 L223.1,249.7 L222.3,249.8 L221.5,249.9 L220.7,249.9 L219.9,250.0 L219.1,250.0 L218.3,250.1 L217.5,250.2 L216.7,250.2 L215.9,250.3 L215.1,250.3 L214.3,250.4 L213.5,250.4 L212.7,250.5 L211.8,250.5 L211.0,250.6 L210.2,250.6 L209.4,250.6 L208.6,250.7 L207.7,250.7 L206.9,250.8 L206.1,250.8 L205.3,250.8 L204.4,250.9 L203.6,250.9 L202.8,250.9 L201.9,251.0 L201.1,251.0 L200.3,251.0 L199.4,251.1 L198.6,251.1 L197.8,251.1 L196.9,251.1 L196.1,251.2 L195.2,251.2 L194.4,251.2 L193.6,251.2 L192.7,251.2 L191.9,251.3 L191.0,251.3 L190.2,251.3 L189.3,251.3 L188.5,251.3 L187.6,251.3 L186.8,251.4 L185.9,251.4 L185.1,251.4 L184.2,251.4 L183.4,251.4 L182.5,251.4 L181.7,251.4 L180.8,251.4 L180.0,251.4 L179.1,251.4 L178.3,251.4 L177.4,251.4 L176.6,251.4 L175.7,251.4 L174.9,251.4 L174.0,251.4 L173.2,251.4 L172.3,251.4 L171.5,251.4 L170.6,251.4 L169.8,251.4 L168.9,251.4 L168.1,251.4 L167.2,251.4 L166.4,251.4 L165.5,251.4 L164.7,251.4 L163.8,251.4 L163.0,251.4 L162.1,251.4 L161.3,251.3 L160.4,251.3 L159.6,251.3 L158.8,251.3 L157.9,251.3 L157.1,251.3 L156.2,251.3 L155.4,251.3 L154.6,251.3 L153.7,251.3 L152.9,251.2 L152.1,251.2 L151.2,251.2 L150.4,251.2 L149.6,251.2 L148.7,251.2 L147.9,251.2 L147.1,251.1 L146.3,251.1 L145.4,251.1 L144.6,251.1 L143.8,251.1 L143.0,251.1 L142.2,251.0 L141.3,251.0 L140.5,251.0 L139.7,251.0 L138.9,251.0 L138.1,250.9 L137.3,250.9 L136.5,250.9 L135.7,250.9 L134.9,250.9 L134.1,250.8 L133.3,250.8 L132.5,250.8 L131.7,250.8 L130.9,250.7 L130.1,250.7 L129.4,250.7 L128.6,250.7 L127.8,250.6 L127.0,250.6 L126.2,250.6 L125.5,250.6 L124.7,250.5 L123.9,250.5 L123.2,250.5 L122.4,250.4 L121.6,250.4 L120.9,250.4 L120.1,250.3 L119.4,250.3 L118.6,250.3 L117.9,250.2 L117.1,250.2 L116.4,250.2 L115.7,250.1 L114.9,250.1 L114.2,250.1 L113.5,250.0 L112.7,250.0 L112.0,250.0 L111.3,249.9 L110.6,249.9 L109.9,249.8 L109.2,249.8 L108.5,249.8 L107.8,249.7 L107.1,249.7 L106.4,249.6 L105.7,249.6 L105.0,249.6 L104.3,249.5 L103.6,249.5 L102.9,249.4 L102.3,249.4 L101.6,249.3 L100.9,249.3 L100.3,249.2 L99.6,249.2 L99.0,249.1 L98.3,249.1 L97.7,249.0 L97.0,249.0 L96.4,248.9 L95.7,248.9 L95.1,248.8 L94.5,248.8 L93.8,248.7 L93.2,248.7 L92.6,248.6 L92.0,248.6 L91.4,248.5 L90.8,248.4 L90.2,248.4 L89.6,248.3 L89.0,248.3 L88.4,248.2 L87.8,248.1 L87.3,248.1 L86.7,248.0 L86.1,247.9 L85.5,247.8 L85.0,247.8 L84.4,247.7 L83.9,247.6 L83.3,247.6 L82.8,247.5 L82.3,247.4 L81.7,247.3 L81.2,247.2 L80.7,247.2 L80.1,247.1 L79.6,247.0 L79.1,246.9 L78.6,246.8 L78.1,246.7 L77.6,246.6 L77.1,246.5 L76.7,246.4 L76.2,246.3 L75.7,246.2 L75.2,246.1 L74.8,246.0 L74.3,245.9 L73.8,245.8 L73.4,245.7 L72.9,245.5 L72.5,245.4 L72.1,245.3 L71.6,245.2 L71.2,245.0 L70.8,244.9 L70.4,244.7 L70.0,244.6 L69.6,244.4 L69.2,244.3 L68.8,244.1 L68.4,244.0 L68.0,243.8 L67.6,243.6 L67.3,243.4 L66.9,243.3 L66.5,243.1 L66.2,242.9 L65.8,242.7 L65.5,242.5 L65.1,242.2 L64.8,242.0 L64.5,241.8 L64.2,241.5 L63.8,241.3 L63.5,241.0 L63.2,240.8 L62.9,240.5 L62.6,240.2 L62.3,239.9 L62.0,239.6 L61.8,239.3 L61.5,239.0 L61.2,238.7 L61.0,238.3 L60.7,238.0 L60.5,237.6 L60.2,237.2 L60.0,236.8 L59.7,236.4 L59.5,236.0 L59.3,235.5 L59.1,235.1 L58.9,234.6 L58.7,234.1 L58.5,233.6 L58.3,233.1 L58.1,232.5 L57.9,231.9 L57.7,231.4 L57.5,230.8 L57.4,230.1 L57.2,229.5 L57.1,228.8 L56.9,228.1 L56.8,227.4 L56.7,226.6 L56.5,225.8 L56.4,225.0 L56.3,224.2 L56.2,223.4 L56.1,222.5 L56.0,221.5 L55.9,220.6 L55.8,219.6 L55.7,218.6 L55.6,217.6 L55.6,216.5 L55.5,215.4 L55.4,214.2 L55.4,213.1 L55.3,211.9 L55.3,210.6 L55.3,209.3 L55.2,208.0 L55.2,206.6 L55.2,205.3 L55.2,203.8 L55.2,202.4 L55.2,200.9 L55.2,199.3 L55.2,197.7 L55.2,196.1 L55.2,194.5 L55.3,192.8 L55.3,191.0 L55.4,189.3 L55.4,187.5 L55.5,185.7 L55.5,183.8 L55.6,181.9 L55.7,180.0 L55.7,178.0 L55.8,176.1 L55.9,174.0 L56.0,172.0 L56.1,170.0 L56.2,167.9 L56.3,165.8 L56.5,163.7 L56.6,161.5 L56.7,159.4 L56.9,157.2 L57.0,155.0 L57.1,152.8 L57.3,150.6 L57.5,148.4 L57.6,146.2 L57.8,144.0 L58.0,141.8 L58.2,139.6 L58.4,137.3 L58.6,135.1 L58.8,132.9 L59.0,130.7 L59.2,128.5 L59.4,126.3 L59.6,124.2 L59.9,122.0 L60.1,119.9 L60.3,117.8 L60.6,115.7 L60.8,113.7 L61.1,111.7 L61.4,109.7 L61.6,107.7 L61.9,105.8 L62.2,103.9 L62.5,102.1 L62.8,100.2 L63.1,98.4 L63.4,96.7 L63.7,95.0 L64.0,93.3 L64.3,91.6 L64.6,90.0 L65.0,88.4 L65.3,86.9 L65.6,85.4 L66.0,83.9 L66.4,82.5 L66.7,81.1 L67.1,79.8 L67.4,78.5 L67.8,77.2 L68.2,75.9 L68.6,74.7 L69.0,73.5 L69.4,72.4 L69.8,71.3 L70.2,70.2 L70.6,69.2 L71.0,68.1 L71.4,67.1 L71.9,66.2 L72.3,65.3 L72.7,64.4 L73.2,63.5 L73.6,62.6 L74.1,61.8 L74.5,61.0 L75.0,60.3 L75.5,59.5 L75.9,58.8 L76.4,58.1 L76.9,57.4 L77.4,56.8 L77.9,56.1 L78.4,55.5 L78.9,54.9 L79.4,54.3 L79.9,53.8 L80.4,53.2 L80.9,52.7 L81.5,52.2 L82.0,51.7 L82.5,51.2 L83.1,50.8 L83.6,50.3 L84.2,49.9 L84.7,49.5 L85.3,49.1 L85.8,48.7 L86.4,48.3 L87.0,47.9 L87.5,47.6 L88.1,47.2 L88.7,46.9 L89.3,46.6 L89.9,46.3 L90.5,45.9 L91.1,45.6 L91.7,45.4 L92.3,45.1 L92.9,44.8 L93.5,44.5 L94.2,44.3 L94.8,44.0 L95.4,43.8 L96.0,43.6 L96.7,43.3 L97.3,43.1 L98.0,42.9 L98.6,42.7 L99.3,42.5 L99.9,42.3 L100.6,42.1 L101.3,41.9 L101.9,41.7 L102.6,41.5 L103.3,41.4 L104.0,41.2 L104.6,41.0 L105.3,40.9 L106.0,40.7 L106.7,40.6 L107.4,40.4 L108.1,40.3 L108.8,40.1 L109.5,40.0 L110.2,39.9 L110.9,39.7 L111.7,39.6 L112.4,39.5 L113.1,39.4 L113.8,39.3 L114.6,39.1 L115.3,39.0 L116.0,38.9 L116.8,38.8 L117.5,38.7 L118.3,38.6 L119.0,38.5 L119.8,38.4 L120.5,38.3 L121.3,38.2 L122.0,38.2 L122.8,38.1 L123.5,38.0 L124.3,37.9 L125.1,37.8 L125.8,37.7 L126.6,37.7 L127.4,37.6 L128.2,37.5 L129.0,37.4 L129.7,37.4 L130.5,37.3 L131.3,37.2 L132.1,37.2 L132.9,37.1 L133.7,37.1 L134.5,37.0 L135.3,36.9 L136.1,36.9 L136.9,36.8 L137.7,36.8 L138.5,36.7 L139.3,36.7 L140.1,36.6 L140.9,36.6 L141.8,36.5 L142.6,36.5 L143.4,36.4 L144.2,36.4 L145.0,36.3 L145.8,36.3 L146.7,36.3 L147.5,36.2 L148.3,36.2 L149.2,36.2 L150.0,36.1 L150.8,36.1 L151.6,36.1 L152.5,36.0 L153.3,36.0 L154.1,36.0 L155.0,35.9 L155.8,35.9 L156.7,35.9 L157.5,35.9 L158.3,35.8 L159.2,35.8 L160.0,35.8 L160.9,35.8 L161.7,35.8 L162.6,35.7 L163.4,35.7 L164.3,35.7 L165.1,35.7 L165.9,35.7 L166.8,35.7 L167.6,35.7 L168.5,35.6 L169.3,35.6 L170.2,35.6 L171.0,35.6 L171.9,35.6 L172.7,35.6 L173.6,35.6 L174.4,35.6 L175.3,35.6 L176.1,35.6 L177.0,35.6Z" fill="none" stroke="#cf2bff" stroke-width="1.5" stroke-linejoin="round"/>
</g>
<g clip-path="url(#cb)">
<circle cx="652.3" cy="131.9" r="2.2" fill="url(#pk)"/>
<circle cx="651.9" cy="131.9" r="2.2" fill="url(#pk)"/>
<circle cx="651.3" cy="132.0" r="2.2" fill="url(#pk)"/>
<circle cx="650.3" cy="132.0" r="2.2" fill="url(#pk)"/>
<circle cx="649.1" cy="132.1" r="2.2" fill="url(#pk)"/>
<circle cx="647.6" cy="132.2" r="2.2" fill="url(#pk)"/>
<circle cx="645.8" cy="132.3" r="2.2" fill="url(#pk)"/>
<circle cx="643.8" cy="132.5" r="2.2" fill="url(#pk)"/>
<circle cx="641.5" cy="132.6" r="2.2" fill="url(#pk)"/>
<circle cx="639.0" cy="132.8" r="2.2" fill="url(#pk)"/>
<circle cx="636.2" cy="133.0" r="2.2" fill="url(#pk)"/>
<circle cx="633.1" cy="133.2" r="2.2" fill="url(#pk)"/>
<circle cx="629.9" cy="133.5" r="2.2" fill="url(#pk)"/>
<circle cx="626.4" cy="133.7" r="2.2" fill="url(#pk)"/>
<circle cx="622.7" cy="134.0" r="2.2" fill="url(#pk)"/>
<circle cx="618.8" cy="134.3" r="2.2" fill="url(#pk)"/>
<circle cx="614.7" cy="134.6" r="2.2" fill="url(#pk)"/>
<circle cx="610.4" cy="134.9" r="2.2" fill="url(#pk)"/>
<circle cx="606.0" cy="135.3" r="2.2" fill="url(#pk)"/>
<circle cx="601.3" cy="135.6" r="2.2" fill="url(#pk)"/>
<circle cx="596.5" cy="136.1" r="2.2" fill="url(#pk)"/>
<circle cx="591.6" cy="136.5" r="2.2" fill="url(#pk)"/>
<circle cx="586.5" cy="137.0" r="2.2" fill="url(#pk)"/>
<circle cx="581.3" cy="137.4" r="2.2" fill="url(#pk)"/>
<circle cx="576.1" cy="138.0" r="2.2" fill="url(#pk)"/>
<circle cx="570.7" cy="138.5" r="2.2" fill="url(#pk)"/>
<circle cx="565.2" cy="139.1" r="2.2" fill="url(#pk)"/>
<circle cx="559.7" cy="139.8" r="2.2" fill="url(#pk)"/>
<circle cx="554.1" cy="140.4" r="2.2" fill="url(#pk)"/>
<circle cx="548.4" cy="141.1" r="2.2" fill="url(#pk)"/>
<circle cx="542.8" cy="141.9" r="2.2" fill="url(#pk)"/>
<circle cx="537.1" cy="142.6" r="2.2" fill="url(#pk)"/>
<circle cx="531.4" cy="143.3" r="2.2" fill="url(#pk)"/>
<circle cx="525.8" cy="146.1" r="2.2" fill="url(#pk)"/>
<circle cx="520.1" cy="147.2" r="2.2" fill="url(#pk)"/>
<circle cx="514.5" cy="147.6" r="2.2" fill="url(#pk)"/>
<circle cx="509.0" cy="147.9" r="2.2" fill="url(#pk)"/>
<circle cx="503.5" cy="148.2" r="2.2" fill="url(#pk)"/>
<circle cx="498.1" cy="148.5" r="2.2" fill="url(#pk)"/>
<circle cx="492.8" cy="148.8" r="2.2" fill="url(#pk)"/>
<circle cx="487.6" cy="149.1" r="2.2" fill="url(#pk)"/>
<circle cx="482.5" cy="149.4" r="2.2" fill="url(#pk)"/>
<circle cx="477.6" cy="149.7" r="2.2" fill="url(#pk)"/>
<circle cx="472.8" cy="150.0" r="2.2" fill="url(#pk)"/>
<circle cx="468.1" cy="150.2" r="2.2" fill="url(#pk)"/>
<circle cx="463.6" cy="150.5" r="2.2" fill="url(#pk)"/>
<circle cx="459.3" cy="150.7" r="2.2" fill="url(#pk)"/>
<circle cx="455.2" cy="151.0" r="2.2" fill="url(#pk)"/>
<circle cx="451.3" cy="151.2" r="2.2" fill="url(#pk)"/>
<circle cx="447.5" cy="151.4" r="2.2" fill="url(#pk)"/>
<circle cx="444.0" cy="151.6" r="2.2" fill="url(#pk)"/>
<circle cx="440.7" cy="151.8" r="2.2" fill="url(#pk)"/>
<circle cx="437.7" cy="152.0" r="2.2" fill="url(#pk)"/>
<circle cx="434.9" cy="152.1" r="2.2" fill="url(#pk)"/>
<circle cx="432.3" cy="152.3" r="2.2" fill="url(#pk)"/>
<circle cx="430.0" cy="152.4" r="2.2" fill="url(#pk)"/>
<circle cx="427.9" cy="152.5" r="2.2" fill="url(#pk)"/>
<circle cx="426.1" cy="152.6" r="2.2" fill="url(#pk)"/>
<circle cx="424.6" cy="152.7" r="2.2" fill="url(#pk)"/>
<circle cx="423.3" cy="152.8" r="2.2" fill="url(#pk)"/>
<circle cx="422.3" cy="152.8" r="2.2" fill="url(#pk)"/>
<circle cx="421.6" cy="152.9" r="2.2" fill="url(#pk)"/>
<circle cx="421.2" cy="152.9" r="2.2" fill="url(#pk)"/>
<circle cx="421.0" cy="152.9" r="2.2" fill="url(#pk)"/>
<circle cx="421.2" cy="152.9" r="2.2" fill="url(#pk)"/>
<circle cx="421.6" cy="152.9" r="2.2" fill="url(#pk)"/>
<circle cx="422.2" cy="152.8" r="2.2" fill="url(#pk)"/>
<circle cx="423.2" cy="152.8" r="2.2" fill="url(#pk)"/>
<circle cx="424.4" cy="152.7" r="2.2" fill="url(#pk)"/>
<circle cx="425.9" cy="152.6" r="2.2" fill="url(#pk)"/>
<circle cx="427.7" cy="152.5" r="2.2" fill="url(#pk)"/>
<circle cx="429.7" cy="152.4" r="2.2" fill="url(#pk)"/>
<circle cx="432.0" cy="152.2" r="2.2" fill="url(#pk)"/>
<circle cx="434.5" cy="152.1" r="2.2" fill="url(#pk)"/>
<circle cx="437.3" cy="151.9" r="2.2" fill="url(#pk)"/>
<circle cx="440.4" cy="151.7" r="2.2" fill="url(#pk)"/>
<circle cx="443.6" cy="151.5" r="2.2" fill="url(#pk)"/>
<circle cx="447.1" cy="151.2" r="2.2" fill="url(#pk)"/>
<circle cx="450.8" cy="151.0" r="2.2" fill="url(#pk)"/>
<circle cx="454.7" cy="150.7" r="2.2" fill="url(#pk)"/>
<circle cx="458.8" cy="150.5" r="2.2" fill="url(#pk)"/>
<circle cx="463.1" cy="150.2" r="2.2" fill="url(#pk)"/>
<circle cx="467.5" cy="149.8" r="2.2" fill="url(#pk)"/>
<circle cx="472.2" cy="149.5" r="2.2" fill="url(#pk)"/>
<circle cx="477.0" cy="149.2" r="2.2" fill="url(#pk)"/>
<circle cx="481.9" cy="148.8" r="2.2" fill="url(#pk)"/>
<circle cx="487.0" cy="148.4" r="2.2" fill="url(#pk)"/>
<circle cx="492.2" cy="148.0" r="2.2" fill="url(#pk)"/>
<circle cx="497.4" cy="147.6" r="2.2" fill="url(#pk)"/>
<circle cx="502.8" cy="147.2" r="2.2" fill="url(#pk)"/>
<circle cx="508.3" cy="146.7" r="2.2" fill="url(#pk)"/>
<circle cx="513.8" cy="146.2" r="2.2" fill="url(#pk)"/>
<circle cx="519.4" cy="145.7" r="2.2" fill="url(#pk)"/>
<circle cx="525.1" cy="145.1" r="2.2" fill="url(#pk)"/>
<circle cx="530.7" cy="144.6" r="2.2" fill="url(#pk)"/>
<circle cx="536.4" cy="144.0" r="2.2" fill="url(#pk)"/>
<circle cx="542.1" cy="143.3" r="2.2" fill="url(#pk)"/>
<circle cx="547.7" cy="142.7" r="2.2" fill="url(#pk)"/>
<circle cx="553.4" cy="142.1" r="2.2" fill="url(#pk)"/>
<circle cx="559.0" cy="141.4" r="2.2" fill="url(#pk)"/>
<circle cx="564.5" cy="138.3" r="2.2" fill="url(#pk)"/>
<circle cx="570.0" cy="136.7" r="2.2" fill="url(#pk)"/>
<circle cx="575.4" cy="136.3" r="2.2" fill="url(#pk)"/>
<circle cx="580.7" cy="135.9" r="2.2" fill="url(#pk)"/>
<circle cx="585.9" cy="135.7" r="2.2" fill="url(#pk)"/>
<circle cx="591.0" cy="135.4" r="2.2" fill="url(#pk)"/>
<circle cx="595.9" cy="135.1" r="2.2" fill="url(#pk)"/>
<circle cx="600.7" cy="134.8" r="2.2" fill="url(#pk)"/>
<circle cx="605.4" cy="134.6" r="2.2" fill="url(#pk)"/>
<circle cx="609.9" cy="134.3" r="2.2" fill="url(#pk)"/>
<circle cx="614.2" cy="134.1" r="2.2" fill="url(#pk)"/>
<circle cx="618.3" cy="133.8" r="2.2" fill="url(#pk)"/>
<circle cx="622.2" cy="133.6" r="2.2" fill="url(#pk)"/>
<circle cx="626.0" cy="133.4" r="2.2" fill="url(#pk)"/>
<circle cx="629.5" cy="133.2" r="2.2" fill="url(#pk)"/>
<circle cx="632.8" cy="133.0" r="2.2" fill="url(#pk)"/>
<circle cx="635.8" cy="132.8" r="2.2" fill="url(#pk)"/>
<circle cx="638.6" cy="132.7" r="2.2" fill="url(#pk)"/>
<circle cx="641.2" cy="132.5" r="2.2" fill="url(#pk)"/>
<circle cx="643.5" cy="132.4" r="2.2" fill="url(#pk)"/>
<circle cx="645.6" cy="132.3" r="2.2" fill="url(#pk)"/>
<circle cx="647.4" cy="132.2" r="2.2" fill="url(#pk)"/>
<circle cx="648.9" cy="132.1" r="2.2" fill="url(#pk)"/>
<circle cx="650.2" cy="132.0" r="2.2" fill="url(#pk)"/>
<circle cx="651.2" cy="132.0" r="2.2" fill="url(#pk)"/>
<circle cx="651.9" cy="131.9" r="2.2" fill="url(#pk)"/>
<circle cx="652.3" cy="131.9" r="2.2" fill="url(#pk)"/>
<circle cx="652.5" cy="131.9" r="2.2" fill="url(#pk)"/>
<circle cx="652.3" cy="109.7" r="2.2" fill="url(#pb)"/>
<circle cx="651.9" cy="109.7" r="2.2" fill="url(#pb)"/>
<circle cx="651.3" cy="109.8" r="2.2" fill="url(#pb)"/>
<circle cx="650.3" cy="109.9" r="2.2" fill="url(#pb)"/>
<circle cx="649.1" cy="110.1" r="2.2" fill="url(#pb)"/>
<circle cx="647.6" cy="110.2" r="2.2" fill="url(#pb)"/>
<circle cx="645.8" cy="110.4" r="2.2" fill="url(#pb)"/>
<circle cx="643.8" cy="110.7" r="2.2" fill="url(#pb)"/>
<circle cx="641.5" cy="110.9" r="2.2" fill="url(#pb)"/>
<circle cx="639.0" cy="111.2" r="2.2" fill="url(#pb)"/>
<circle cx="636.2" cy="111.5" r="2.2" fill="url(#pb)"/>
<circle cx="633.1" cy="111.9" r="2.2" fill="url(#pb)"/>
<circle cx="629.9" cy="112.3" r="2.2" fill="url(#pb)"/>
<circle cx="626.4" cy="112.7" r="2.2" fill="url(#pb)"/>
<circle cx="622.7" cy="113.1" r="2.2" fill="url(#pb)"/>
<circle cx="618.8" cy="113.6" r="2.2" fill="url(#pb)"/>
<circle cx="614.7" cy="114.0" r="2.2" fill="url(#pb)"/>
<circle cx="610.4" cy="114.5" r="2.2" fill="url(#pb)"/>
<circle cx="606.0" cy="115.0" r="2.2" fill="url(#pb)"/>
<circle cx="601.3" cy="115.6" r="2.2" fill="url(#pb)"/>
<circle cx="596.5" cy="116.1" r="2.2" fill="url(#pb)"/>
<circle cx="591.6" cy="116.7" r="2.2" fill="url(#pb)"/>
<circle cx="586.5" cy="117.3" r="2.2" fill="url(#pb)"/>
<circle cx="581.3" cy="117.9" r="2.2" fill="url(#pb)"/>
<circle cx="576.1" cy="118.5" r="2.2" fill="url(#pb)"/>
<circle cx="570.7" cy="119.2" r="2.2" fill="url(#pb)"/>
<circle cx="565.2" cy="119.9" r="2.2" fill="url(#pb)"/>
<circle cx="559.7" cy="120.7" r="2.2" fill="url(#pb)"/>
<circle cx="554.1" cy="121.7" r="2.2" fill="url(#pb)"/>
<circle cx="548.4" cy="123.0" r="2.2" fill="url(#pb)"/>
<circle cx="542.8" cy="125.1" r="2.2" fill="url(#pb)"/>
<circle cx="537.1" cy="128.6" r="2.2" fill="url(#pb)"/>
<circle cx="531.4" cy="134.3" r="2.2" fill="url(#pb)"/>
<circle cx="525.8" cy="142.3" r="2.2" fill="url(#pb)"/>
<circle cx="520.1" cy="153.2" r="2.2" fill="url(#pb)"/>
<circle cx="514.5" cy="162.3" r="2.2" fill="url(#pb)"/>
<circle cx="509.0" cy="166.6" r="2.2" fill="url(#pb)"/>
<circle cx="503.5" cy="168.4" r="2.2" fill="url(#pb)"/>
<circle cx="498.1" cy="169.3" r="2.2" fill="url(#pb)"/>
<circle cx="492.8" cy="170.0" r="2.2" fill="url(#pb)"/>
<circle cx="487.6" cy="170.5" r="2.2" fill="url(#pb)"/>
<circle cx="482.5" cy="171.0" r="2.2" fill="url(#pb)"/>
<circle cx="477.6" cy="171.5" r="2.2" fill="url(#pb)"/>
<circle cx="472.8" cy="172.0" r="2.2" fill="url(#pb)"/>
<circle cx="468.1" cy="172.4" r="2.2" fill="url(#pb)"/>
<circle cx="463.6" cy="172.9" r="2.2" fill="url(#pb)"/>
<circle cx="459.3" cy="173.3" r="2.2" fill="url(#pb)"/>
<circle cx="455.2" cy="173.7" r="2.2" fill="url(#pb)"/>
<circle cx="451.3" cy="174.1" r="2.2" fill="url(#pb)"/>
<circle cx="447.5" cy="174.4" r="2.2" fill="url(#pb)"/>
<circle cx="444.0" cy="174.8" r="2.2" fill="url(#pb)"/>
<circle cx="440.7" cy="175.1" r="2.2" fill="url(#pb)"/>
<circle cx="437.7" cy="175.4" r="2.2" fill="url(#pb)"/>
<circle cx="434.9" cy="175.6" r="2.2" fill="url(#pb)"/>
<circle cx="432.3" cy="175.9" r="2.2" fill="url(#pb)"/>
<circle cx="430.0" cy="176.1" r="2.2" fill="url(#pb)"/>
<circle cx="427.9" cy="176.3" r="2.2" fill="url(#pb)"/>
<circle cx="426.1" cy="176.5" r="2.2" fill="url(#pb)"/>
<circle cx="424.6" cy="176.6" r="2.2" fill="url(#pb)"/>
<circle cx="423.3" cy="176.8" r="2.2" fill="url(#pb)"/>
<circle cx="422.3" cy="176.8" r="2.2" fill="url(#pb)"/>
<circle cx="421.6" cy="176.9" r="2.2" fill="url(#pb)"/>
<circle cx="421.2" cy="177.0" r="2.2" fill="url(#pb)"/>
<circle cx="421.0" cy="177.0" r="2.2" fill="url(#pb)"/>
<circle cx="421.2" cy="177.0" r="2.2" fill="url(#pb)"/>
<circle cx="421.6" cy="176.9" r="2.2" fill="url(#pb)"/>
<circle cx="422.2" cy="176.8" r="2.2" fill="url(#pb)"/>
<circle cx="423.2" cy="176.7" r="2.2" fill="url(#pb)"/>
<circle cx="424.4" cy="176.6" r="2.2" fill="url(#pb)"/>
<circle cx="425.9" cy="176.4" r="2.2" fill="url(#pb)"/>
<circle cx="427.7" cy="176.2" r="2.2" fill="url(#pb)"/>
<circle cx="429.7" cy="176.0" r="2.2" fill="url(#pb)"/>
<circle cx="432.0" cy="175.7" r="2.2" fill="url(#pb)"/>
<circle cx="434.5" cy="175.4" r="2.2" fill="url(#pb)"/>
<circle cx="437.3" cy="175.1" r="2.2" fill="url(#pb)"/>
<circle cx="440.4" cy="174.8" r="2.2" fill="url(#pb)"/>
<circle cx="443.6" cy="174.4" r="2.2" fill="url(#pb)"/>
<circle cx="447.1" cy="174.0" r="2.2" fill="url(#pb)"/>
<circle cx="450.8" cy="173.6" r="2.2" fill="url(#pb)"/>
<circle cx="454.7" cy="173.1" r="2.2" fill="url(#pb)"/>
<circle cx="458.8" cy="172.6" r="2.2" fill="url(#pb)"/>
<circle cx="463.1" cy="172.1" r="2.2" fill="url(#pb)"/>
<circle cx="467.5" cy="171.6" r="2.2" fill="url(#pb)"/>
<circle cx="472.2" cy="171.1" r="2.2" fill="url(#pb)"/>
<circle cx="477.0" cy="170.5" r="2.2" fill="url(#pb)"/>
<circle cx="481.9" cy="170.0" r="2.2" fill="url(#pb)"/>
<circle cx="487.0" cy="169.4" r="2.2" fill="url(#pb)"/>
<circle cx="492.2" cy="168.8" r="2.2" fill="url(#pb)"/>
<circle cx="497.4" cy="168.2" r="2.2" fill="url(#pb)"/>
<circle cx="502.8" cy="167.6" r="2.2" fill="url(#pb)"/>
<circle cx="508.3" cy="166.9" r="2.2" fill="url(#pb)"/>
<circle cx="513.8" cy="166.2" r="2.2" fill="url(#pb)"/>
<circle cx="519.4" cy="165.5" r="2.2" fill="url(#pb)"/>
<circle cx="525.1" cy="164.7" r="2.2" fill="url(#pb)"/>
<circle cx="530.7" cy="163.7" r="2.2" fill="url(#pb)"/>
<circle cx="536.4" cy="162.3" r="2.2" fill="url(#pb)"/>
<circle cx="542.1" cy="160.1" r="2.2" fill="url(#pb)"/>
<circle cx="547.7" cy="156.6" r="2.2" fill="url(#pb)"/>
<circle cx="553.4" cy="150.9" r="2.2" fill="url(#pb)"/>
<circle cx="559.0" cy="143.2" r="2.2" fill="url(#pb)"/>
<circle cx="564.5" cy="131.6" r="2.2" fill="url(#pb)"/>
<circle cx="570.0" cy="122.8" r="2.2" fill="url(#pb)"/>
<circle cx="575.4" cy="118.8" r="2.2" fill="url(#pb)"/>
<circle cx="580.7" cy="117.1" r="2.2" fill="url(#pb)"/>
<circle cx="585.9" cy="116.2" r="2.2" fill="url(#pb)"/>
<circle cx="591.0" cy="115.6" r="2.2" fill="url(#pb)"/>
<circle cx="595.9" cy="115.1" r="2.2" fill="url(#pb)"/>
<circle cx="600.7" cy="114.6" r="2.2" fill="url(#pb)"/>
<circle cx="605.4" cy="114.2" r="2.2" fill="url(#pb)"/>
<circle cx="609.9" cy="113.7" r="2.2" fill="url(#pb)"/>
<circle cx="614.2" cy="113.3" r="2.2" fill="url(#pb)"/>
<circle cx="618.3" cy="112.9" r="2.2" fill="url(#pb)"/>
<circle cx="622.2" cy="112.6" r="2.2" fill="url(#pb)"/>
<circle cx="626.0" cy="112.2" r="2.2" fill="url(#pb)"/>
<circle cx="629.5" cy="111.9" r="2.2" fill="url(#pb)"/>
<circle cx="632.8" cy="111.5" r="2.2" fill="url(#pb)"/>
<circle cx="635.8" cy="111.3" r="2.2" fill="url(#pb)"/>
<circle cx="638.6" cy="111.0" r="2.2" fill="url(#pb)"/>
<circle cx="641.2" cy="110.7" r="2.2" fill="url(#pb)"/>
<circle cx="643.5" cy="110.5" r="2.2" fill="url(#pb)"/>
<circle cx="645.6" cy="110.3" r="2.2" fill="url(#pb)"/>
<circle cx="647.4" cy="110.1" r="2.2" fill="url(#pb)"/>
<circle cx="648.9" cy="110.0" r="2.2" fill="url(#pb)"/>
<circle cx="650.2" cy="109.9" r="2.2" fill="url(#pb)"/>
<circle cx="651.2" cy="109.8" r="2.2" fill="url(#pb)"/>
<circle cx="651.9" cy="109.7" r="2.2" fill="url(#pb)"/>
<circle cx="652.3" cy="109.7" r="2.2" fill="url(#pb)"/>
<circle cx="652.5" cy="109.7" r="2.2" fill="url(#pb)"/>
<circle cx="652.3" cy="72.6" r="2.2" fill="url(#pr)"/>
<circle cx="651.9" cy="72.6" r="2.2" fill="url(#pr)"/>
<circle cx="651.3" cy="72.8" r="2.2" fill="url(#pr)"/>
<circle cx="650.3" cy="73.0" r="2.2" fill="url(#pr)"/>
<circle cx="649.1" cy="73.2" r="2.2" fill="url(#pr)"/>
<circle cx="647.6" cy="73.5" r="2.2" fill="url(#pr)"/>
<circle cx="645.8" cy="73.8" r="2.2" fill="url(#pr)"/>
<circle cx="643.8" cy="74.2" r="2.2" fill="url(#pr)"/>
<circle cx="641.5" cy="74.7" r="2.2" fill="url(#pr)"/>
<circle cx="639.0" cy="75.2" r="2.2" fill="url(#pr)"/>
<circle cx="636.2" cy="75.7" r="2.2" fill="url(#pr)"/>
<circle cx="633.1" cy="76.3" r="2.2" fill="url(#pr)"/>
<circle cx="629.9" cy="77.0" r="2.2" fill="url(#pr)"/>
<circle cx="626.4" cy="77.6" r="2.2" fill="url(#pr)"/>
<circle cx="622.7" cy="78.4" r="2.2" fill="url(#pr)"/>
<circle cx="618.8" cy="79.1" r="2.2" fill="url(#pr)"/>
<circle cx="614.7" cy="79.9" r="2.2" fill="url(#pr)"/>
<circle cx="610.4" cy="80.8" r="2.2" fill="url(#pr)"/>
<circle cx="606.0" cy="81.6" r="2.2" fill="url(#pr)"/>
<circle cx="601.3" cy="82.5" r="2.2" fill="url(#pr)"/>
<circle cx="596.5" cy="83.5" r="2.2" fill="url(#pr)"/>
<circle cx="591.6" cy="84.5" r="2.2" fill="url(#pr)"/>
<circle cx="586.5" cy="85.5" r="2.2" fill="url(#pr)"/>
<circle cx="581.3" cy="86.5" r="2.2" fill="url(#pr)"/>
<circle cx="576.1" cy="87.7" r="2.2" fill="url(#pr)"/>
<circle cx="570.7" cy="88.9" r="2.2" fill="url(#pr)"/>
<circle cx="565.2" cy="90.2" r="2.2" fill="url(#pr)"/>
<circle cx="559.7" cy="91.8" r="2.2" fill="url(#pr)"/>
<circle cx="554.1" cy="93.7" r="2.2" fill="url(#pr)"/>
<circle cx="548.4" cy="96.3" r="2.2" fill="url(#pr)"/>
<circle cx="542.8" cy="100.2" r="2.2" fill="url(#pr)"/>
<circle cx="537.1" cy="105.9" r="2.2" fill="url(#pr)"/>
<circle cx="531.4" cy="114.4" r="2.2" fill="url(#pr)"/>
<circle cx="525.8" cy="126.4" r="2.2" fill="url(#pr)"/>
<circle cx="520.1" cy="141.7" r="2.2" fill="url(#pr)"/>
<circle cx="514.5" cy="167.1" r="2.2" fill="url(#pr)"/>
<circle cx="509.0" cy="194.8" r="2.2" fill="url(#pr)"/>
<circle cx="503.5" cy="202.8" r="2.2" fill="url(#pr)"/>
<circle cx="498.1" cy="201.8" r="2.2" fill="url(#pr)"/>
<circle cx="492.8" cy="200.6" r="2.2" fill="url(#pr)"/>
<circle cx="487.6" cy="201.0" r="2.2" fill="url(#pr)"/>
<circle cx="482.5" cy="201.9" r="2.2" fill="url(#pr)"/>
<circle cx="477.6" cy="202.8" r="2.2" fill="url(#pr)"/>
<circle cx="472.8" cy="203.7" r="2.2" fill="url(#pr)"/>
<circle cx="468.1" cy="204.6" r="2.2" fill="url(#pr)"/>
<circle cx="463.6" cy="205.5" r="2.2" fill="url(#pr)"/>
<circle cx="459.3" cy="206.3" r="2.2" fill="url(#pr)"/>
<circle cx="455.2" cy="207.1" r="2.2" fill="url(#pr)"/>
<circle cx="451.3" cy="207.8" r="2.2" fill="url(#pr)"/>
<circle cx="447.5" cy="208.5" r="2.2" fill="url(#pr)"/>
<circle cx="444.0" cy="209.2" r="2.2" fill="url(#pr)"/>
<circle cx="440.7" cy="209.8" r="2.2" fill="url(#pr)"/>
<circle cx="437.7" cy="210.4" r="2.2" fill="url(#pr)"/>
<circle cx="434.9" cy="210.9" r="2.2" fill="url(#pr)"/>
<circle cx="432.3" cy="211.4" r="2.2" fill="url(#pr)"/>
<circle cx="430.0" cy="211.8" r="2.2" fill="url(#pr)"/>
<circle cx="427.9" cy="212.2" r="2.2" fill="url(#pr)"/>
<circle cx="426.1" cy="212.6" r="2.2" fill="url(#pr)"/>
<circle cx="424.6" cy="212.8" r="2.2" fill="url(#pr)"/>
<circle cx="423.3" cy="213.1" r="2.2" fill="url(#pr)"/>
<circle cx="422.3" cy="213.3" r="2.2" fill="url(#pr)"/>
<circle cx="421.6" cy="213.4" r="2.2" fill="url(#pr)"/>
<circle cx="421.2" cy="213.5" r="2.2" fill="url(#pr)"/>
<circle cx="421.0" cy="213.5" r="2.2" fill="url(#pr)"/>
<circle cx="421.2" cy="213.5" r="2.2" fill="url(#pr)"/>
<circle cx="421.6" cy="213.4" r="2.2" fill="url(#pr)"/>
<circle cx="422.2" cy="213.3" r="2.2" fill="url(#pr)"/>
<circle cx="423.2" cy="213.1" r="2.2" fill="url(#pr)"/>
<circle cx="424.4" cy="212.9" r="2.2" fill="url(#pr)"/>
<circle cx="425.9" cy="212.6" r="2.2" fill="url(#pr)"/>
<circle cx="427.7" cy="212.3" r="2.2" fill="url(#pr)"/>
<circle cx="429.7" cy="211.9" r="2.2" fill="url(#pr)"/>
<circle cx="432.0" cy="211.4" r="2.2" fill="url(#pr)"/>
<circle cx="434.5" cy="211.0" r="2.2" fill="url(#pr)"/>
<circle cx="437.3" cy="210.4" r="2.2" fill="url(#pr)"/>
<circle cx="440.4" cy="209.9" r="2.2" fill="url(#pr)"/>
<circle cx="443.6" cy="209.2" r="2.2" fill="url(#pr)"/>
<circle cx="447.1" cy="208.6" r="2.2" fill="url(#pr)"/>
<circle cx="450.8" cy="207.9" r="2.2" fill="url(#pr)"/>
<circle cx="454.7" cy="207.1" r="2.2" fill="url(#pr)"/>
<circle cx="458.8" cy="206.4" r="2.2" fill="url(#pr)"/>
<circle cx="463.1" cy="205.6" r="2.2" fill="url(#pr)"/>
<circle cx="467.5" cy="204.7" r="2.2" fill="url(#pr)"/>
<circle cx="472.2" cy="203.8" r="2.2" fill="url(#pr)"/>
<circle cx="477.0" cy="202.9" r="2.2" fill="url(#pr)"/>
<circle cx="481.9" cy="202.0" r="2.2" fill="url(#pr)"/>
<circle cx="487.0" cy="201.0" r="2.2" fill="url(#pr)"/>
<circle cx="492.2" cy="200.0" r="2.2" fill="url(#pr)"/>
<circle cx="497.4" cy="199.0" r="2.2" fill="url(#pr)"/>
<circle cx="502.8" cy="197.9" r="2.2" fill="url(#pr)"/>
<circle cx="508.3" cy="196.8" r="2.2" fill="url(#pr)"/>
<circle cx="513.8" cy="195.7" r="2.2" fill="url(#pr)"/>
<circle cx="519.4" cy="194.4" r="2.2" fill="url(#pr)"/>
<circle cx="525.1" cy="192.9" r="2.2" fill="url(#pr)"/>
<circle cx="530.7" cy="191.0" r="2.2" fill="url(#pr)"/>
<circle cx="536.4" cy="188.5" r="2.2" fill="url(#pr)"/>
<circle cx="542.1" cy="184.9" r="2.2" fill="url(#pr)"/>
<circle cx="547.7" cy="179.6" r="2.2" fill="url(#pr)"/>
<circle cx="553.4" cy="171.7" r="2.2" fill="url(#pr)"/>
<circle cx="559.0" cy="160.4" r="2.2" fill="url(#pr)"/>
<circle cx="564.5" cy="145.9" r="2.2" fill="url(#pr)"/>
<circle cx="570.0" cy="126.1" r="2.2" fill="url(#pr)"/>
<circle cx="575.4" cy="94.4" r="2.2" fill="url(#pr)"/>
<circle cx="580.7" cy="82.0" r="2.2" fill="url(#pr)"/>
<circle cx="585.9" cy="78.4" r="2.2" fill="url(#pr)"/>
<circle cx="591.0" cy="77.2" r="2.2" fill="url(#pr)"/>
<circle cx="595.9" cy="76.7" r="2.2" fill="url(#pr)"/>
<circle cx="600.7" cy="76.3" r="2.2" fill="url(#pr)"/>
<circle cx="605.4" cy="75.9" r="2.2" fill="url(#pr)"/>
<circle cx="609.9" cy="75.6" r="2.2" fill="url(#pr)"/>
<circle cx="614.2" cy="75.3" r="2.2" fill="url(#pr)"/>
<circle cx="618.3" cy="75.0" r="2.2" fill="url(#pr)"/>
<circle cx="622.2" cy="74.7" r="2.2" fill="url(#pr)"/>
<circle cx="626.0" cy="74.5" r="2.2" fill="url(#pr)"/>
<circle cx="629.5" cy="74.2" r="2.2" fill="url(#pr)"/>
<circle cx="632.8" cy="74.0" r="2.2" fill="url(#pr)"/>
<circle cx="635.8" cy="73.7" r="2.2" fill="url(#pr)"/>
<circle cx="638.6" cy="73.5" r="2.2" fill="url(#pr)"/>
<circle cx="641.2" cy="73.4" r="2.2" fill="url(#pr)"/>
<circle cx="643.5" cy="73.2" r="2.2" fill="url(#pr)"/>
<circle cx="645.6" cy="73.0" r="2.2" fill="url(#pr)"/>
<circle cx="647.4" cy="72.9" r="2.2" fill="url(#pr)"/>
<circle cx="648.9" cy="72.8" r="2.2" fill="url(#pr)"/>
<circle cx="650.2" cy="72.7" r="2.2" fill="url(#pr)"/>
<circle cx="651.2" cy="72.6" r="2.2" fill="url(#pr)"/>
<circle cx="651.9" cy="72.6" r="2.2" fill="url(#pr)"/>
<circle cx="652.3" cy="72.6" r="2.2" fill="url(#pr)"/>
<circle cx="652.5" cy="72.5" r="2.2" fill="url(#pr)"/>
<circle cx="652.3" cy="47.9" r="2.2" fill="url(#pg)"/>
<circle cx="651.9" cy="48.0" r="2.2" fill="url(#pg)"/>
<circle cx="651.3" cy="48.2" r="2.2" fill="url(#pg)"/>
<circle cx="650.3" cy="48.4" r="2.2" fill="url(#pg)"/>
<circle cx="649.1" cy="48.7" r="2.2" fill="url(#pg)"/>
<circle cx="647.6" cy="49.1" r="2.2" fill="url(#pg)"/>
<circle cx="645.8" cy="49.5" r="2.2" fill="url(#pg)"/>
<circle cx="643.8" cy="50.0" r="2.2" fill="url(#pg)"/>
<circle cx="641.5" cy="50.6" r="2.2" fill="url(#pg)"/>
<circle cx="639.0" cy="51.2" r="2.2" fill="url(#pg)"/>
<circle cx="636.2" cy="51.9" r="2.2" fill="url(#pg)"/>
<circle cx="633.1" cy="52.6" r="2.2" fill="url(#pg)"/>
<circle cx="629.9" cy="53.4" r="2.2" fill="url(#pg)"/>
<circle cx="626.4" cy="54.2" r="2.2" fill="url(#pg)"/>
<circle cx="622.7" cy="55.1" r="2.2" fill="url(#pg)"/>
<circle cx="618.8" cy="56.1" r="2.2" fill="url(#pg)"/>
<circle cx="614.7" cy="57.1" r="2.2" fill="url(#pg)"/>
<circle cx="610.4" cy="58.1" r="2.2" fill="url(#pg)"/>
<circle cx="606.0" cy="59.2" r="2.2" fill="url(#pg)"/>
<circle cx="601.3" cy="60.3" r="2.2" fill="url(#pg)"/>
<circle cx="596.5" cy="61.5" r="2.2" fill="url(#pg)"/>
<circle cx="591.6" cy="62.7" r="2.2" fill="url(#pg)"/>
<circle cx="586.5" cy="64.0" r="2.2" fill="url(#pg)"/>
<circle cx="581.3" cy="65.3" r="2.2" fill="url(#pg)"/>
<circle cx="576.1" cy="66.7" r="2.2" fill="url(#pg)"/>
<circle cx="570.7" cy="68.1" r="2.2" fill="url(#pg)"/>
<circle cx="565.2" cy="69.8" r="2.2" fill="url(#pg)"/>
<circle cx="559.7" cy="71.6" r="2.2" fill="url(#pg)"/>
<circle cx="554.1" cy="74.0" r="2.2" fill="url(#pg)"/>
<circle cx="548.4" cy="77.1" r="2.2" fill="url(#pg)"/>
<circle cx="542.8" cy="81.6" r="2.2" fill="url(#pg)"/>
<circle cx="537.1" cy="88.3" r="2.2" fill="url(#pg)"/>
<circle cx="531.4" cy="98.5" r="2.2" fill="url(#pg)"/>
<circle cx="525.8" cy="113.2" r="2.2" fill="url(#pg)"/>
<circle cx="520.1" cy="132.5" r="2.2" fill="url(#pg)"/>
<circle cx="514.5" cy="159.2" r="2.2" fill="url(#pg)"/>
<circle cx="509.0" cy="202.9" r="2.2" fill="url(#pg)"/>
<circle cx="503.5" cy="220.4" r="2.2" fill="url(#pg)"/>
<circle cx="498.1" cy="222.1" r="2.2" fill="url(#pg)"/>
<circle cx="492.8" cy="221.2" r="2.2" fill="url(#pg)"/>
<circle cx="487.6" cy="221.8" r="2.2" fill="url(#pg)"/>
<circle cx="482.5" cy="222.9" r="2.2" fill="url(#pg)"/>
<circle cx="477.6" cy="224.1" r="2.2" fill="url(#pg)"/>
<circle cx="472.8" cy="225.2" r="2.2" fill="url(#pg)"/>
<circle cx="468.1" cy="226.3" r="2.2" fill="url(#pg)"/>
<circle cx="463.6" cy="227.3" r="2.2" fill="url(#pg)"/>
<circle cx="459.3" cy="228.3" r="2.2" fill="url(#pg)"/>
<circle cx="455.2" cy="229.3" r="2.2" fill="url(#pg)"/>
<circle cx="451.3" cy="230.2" r="2.2" fill="url(#pg)"/>
<circle cx="447.5" cy="231.0" r="2.2" fill="url(#pg)"/>
<circle cx="444.0" cy="231.8" r="2.2" fill="url(#pg)"/>
<circle cx="440.7" cy="232.6" r="2.2" fill="url(#pg)"/>
<circle cx="437.7" cy="233.3" r="2.2" fill="url(#pg)"/>
<circle cx="434.9" cy="234.0" r="2.2" fill="url(#pg)"/>
<circle cx="432.3" cy="234.6" r="2.2" fill="url(#pg)"/>
<circle cx="430.0" cy="235.1" r="2.2" fill="url(#pg)"/>
<circle cx="427.9" cy="235.6" r="2.2" fill="url(#pg)"/>
<circle cx="426.1" cy="236.0" r="2.2" fill="url(#pg)"/>
<circle cx="424.6" cy="236.4" r="2.2" fill="url(#pg)"/>
<circle cx="423.3" cy="236.7" r="2.2" fill="url(#pg)"/>
<circle cx="422.3" cy="236.9" r="2.2" fill="url(#pg)"/>
<circle cx="421.6" cy="237.0" r="2.2" fill="url(#pg)"/>
<circle cx="421.2" cy="237.1" r="2.2" fill="url(#pg)"/>
<circle cx="421.0" cy="237.2" r="2.2" fill="url(#pg)"/>
<circle cx="421.2" cy="237.2" r="2.2" fill="url(#pg)"/>
<circle cx="421.6" cy="237.1" r="2.2" fill="url(#pg)"/>
<circle cx="422.2" cy="236.9" r="2.2" fill="url(#pg)"/>
<circle cx="423.2" cy="236.7" r="2.2" fill="url(#pg)"/>
<circle cx="424.4" cy="236.4" r="2.2" fill="url(#pg)"/>
<circle cx="425.9" cy="236.0" r="2.2" fill="url(#pg)"/>
<circle cx="427.7" cy="235.6" r="2.2" fill="url(#pg)"/>
<circle cx="429.7" cy="235.2" r="2.2" fill="url(#pg)"/>
<circle cx="432.0" cy="234.6" r="2.2" fill="url(#pg)"/>
<circle cx="434.5" cy="234.0" r="2.2" fill="url(#pg)"/>
<circle cx="437.3" cy="233.4" r="2.2" fill="url(#pg)"/>
<circle cx="440.4" cy="232.7" r="2.2" fill="url(#pg)"/>
<circle cx="443.6" cy="231.9" r="2.2" fill="url(#pg)"/>
<circle cx="447.1" cy="231.1" r="2.2" fill="url(#pg)"/>
<circle cx="450.8" cy="230.3" r="2.2" fill="url(#pg)"/>
<circle cx="454.7" cy="229.4" r="2.2" fill="url(#pg)"/>
<circle cx="458.8" cy="228.4" r="2.2" fill="url(#pg)"/>
<circle cx="463.1" cy="227.4" r="2.2" fill="url(#pg)"/>
<circle cx="467.5" cy="226.4" r="2.2" fill="url(#pg)"/>
<circle cx="472.2" cy="225.3" r="2.2" fill="url(#pg)"/>
<circle cx="477.0" cy="224.2" r="2.2" fill="url(#pg)"/>
<circle cx="481.9" cy="223.1" r="2.2" fill="url(#pg)"/>
<circle cx="487.0" cy="221.9" r="2.2" fill="url(#pg)"/>
<circle cx="492.2" cy="220.7" r="2.2" fill="url(#pg)"/>
<circle cx="497.4" cy="219.4" r="2.2" fill="url(#pg)"/>
<circle cx="502.8" cy="218.1" r="2.2" fill="url(#pg)"/>
<circle cx="508.3" cy="216.8" r="2.2" fill="url(#pg)"/>
<circle cx="513.8" cy="215.5" r="2.2" fill="url(#pg)"/>
<circle cx="519.4" cy="214.0" r="2.2" fill="url(#pg)"/>
<circle cx="525.1" cy="212.4" r="2.2" fill="url(#pg)"/>
<circle cx="530.7" cy="210.6" r="2.2" fill="url(#pg)"/>
<circle cx="536.4" cy="208.3" r="2.2" fill="url(#pg)"/>
<circle cx="542.1" cy="205.4" r="2.2" fill="url(#pg)"/>
<circle cx="547.7" cy="201.1" r="2.2" fill="url(#pg)"/>
<circle cx="553.4" cy="194.6" r="2.2" fill="url(#pg)"/>
<circle cx="559.0" cy="184.9" r="2.2" fill="url(#pg)"/>
<circle cx="564.5" cy="170.7" r="2.2" fill="url(#pg)"/>
<circle cx="570.0" cy="151.9" r="2.2" fill="url(#pg)"/>
<circle cx="575.4" cy="129.7" r="2.2" fill="url(#pg)"/>
<circle cx="580.7" cy="90.3" r="2.2" fill="url(#pg)"/>
<circle cx="585.9" cy="66.0" r="2.2" fill="url(#pg)"/>
<circle cx="591.0" cy="57.3" r="2.2" fill="url(#pg)"/>
<circle cx="595.9" cy="54.4" r="2.2" fill="url(#pg)"/>
<circle cx="600.7" cy="53.2" r="2.2" fill="url(#pg)"/>
<circle cx="605.4" cy="52.6" r="2.2" fill="url(#pg)"/>
<circle cx="609.9" cy="52.1" r="2.2" fill="url(#pg)"/>
<circle cx="614.2" cy="51.6" r="2.2" fill="url(#pg)"/>
<circle cx="618.3" cy="51.2" r="2.2" fill="url(#pg)"/>
<circle cx="622.2" cy="50.8" r="2.2" fill="url(#pg)"/>
<circle cx="626.0" cy="50.5" r="2.2" fill="url(#pg)"/>
<circle cx="629.5" cy="50.1" r="2.2" fill="url(#pg)"/>
<circle cx="632.8" cy="49.8" r="2.2" fill="url(#pg)"/>
<circle cx="635.8" cy="49.5" r="2.2" fill="url(#pg)"/>
<circle cx="638.6" cy="49.3" r="2.2" fill="url(#pg)"/>
<circle cx="641.2" cy="49.0" r="2.2" fill="url(#pg)"/>
<circle cx="643.5" cy="48.8" r="2.2" fill="url(#pg)"/>
<circle cx="645.6" cy="48.6" r="2.2" fill="url(#pg)"/>
<circle cx="647.4" cy="48.4" r="2.2" fill="url(#pg)"/>
<circle cx="648.9" cy="48.3" r="2.2" fill="url(#pg)"/>
<circle cx="650.2" cy="48.1" r="2.2" fill="url(#pg)"/>
<circle cx="651.2" cy="48.0" r="2.2" fill="url(#pg)"/>
<circle cx="651.9" cy="48.0" r="2.2" fill="url(#pg)"/>
<circle cx="652.3" cy="47.9" r="2.2" fill="url(#pg)"/>
<circle cx="652.5" cy="47.9" r="2.2" fill="url(#pg)"/>
<circle cx="652.3" cy="34.1" r="2.2" fill="url(#pm)"/>
<circle cx="651.9" cy="34.2" r="2.2" fill="url(#pm)"/>
<circle cx="651.3" cy="34.4" r="2.2" fill="url(#pm)"/>
<circle cx="650.3" cy="34.6" r="2.2" fill="url(#pm)"/>
<circle cx="649.1" cy="35.0" r="2.2" fill="url(#pm)"/>
<circle cx="647.6" cy="35.4" r="2.2" fill="url(#pm)"/>
<circle cx="645.8" cy="35.9" r="2.2" fill="url(#pm)"/>
<circle cx="643.8" cy="36.4" r="2.2" fill="url(#pm)"/>
<circle cx="641.5" cy="37.0" r="2.2" fill="url(#pm)"/>
<circle cx="639.0" cy="37.7" r="2.2" fill="url(#pm)"/>
<circle cx="636.2" cy="38.5" r="2.2" fill="url(#pm)"/>
<circle cx="633.1" cy="39.3" r="2.2" fill="url(#pm)"/>
<circle cx="629.9" cy="40.1" r="2.2" fill="url(#pm)"/>
<circle cx="626.4" cy="41.1" r="2.2" fill="url(#pm)"/>
<circle cx="622.7" cy="42.1" r="2.2" fill="url(#pm)"/>
<circle cx="618.8" cy="43.1" r="2.2" fill="url(#pm)"/>
<circle cx="614.7" cy="44.2" r="2.2" fill="url(#pm)"/>
<circle cx="610.4" cy="45.4" r="2.2" fill="url(#pm)"/>
<circle cx="606.0" cy="46.6" r="2.2" fill="url(#pm)"/>
<circle cx="601.3" cy="47.9" r="2.2" fill="url(#pm)"/>
<circle cx="596.5" cy="49.2" r="2.2" fill="url(#pm)"/>
<circle cx="591.6" cy="50.5" r="2.2" fill="url(#pm)"/>
<circle cx="586.5" cy="51.9" r="2.2" fill="url(#pm)"/>
<circle cx="581.3" cy="53.4" r="2.2" fill="url(#pm)"/>
<circle cx="576.1" cy="54.9" r="2.2" fill="url(#pm)"/>
<circle cx="570.7" cy="56.6" r="2.2" fill="url(#pm)"/>
<circle cx="565.2" cy="58.4" r="2.2" fill="url(#pm)"/>
<circle cx="559.7" cy="60.5" r="2.2" fill="url(#pm)"/>
<circle cx="554.1" cy="63.1" r="2.2" fill="url(#pm)"/>
<circle cx="548.4" cy="66.6" r="2.2" fill="url(#pm)"/>
<circle cx="542.8" cy="71.6" r="2.2" fill="url(#pm)"/>
<circle cx="537.1" cy="79.1" r="2.2" fill="url(#pm)"/>
<circle cx="531.4" cy="90.3" r="2.2" fill="url(#pm)"/>
<circle cx="525.8" cy="106.6" r="2.2" fill="url(#pm)"/>
<circle cx="520.1" cy="128.5" r="2.2" fill="url(#pm)"/>
<circle cx="514.5" cy="154.6" r="2.2" fill="url(#pm)"/>
<circle cx="509.0" cy="195.4" r="2.2" fill="url(#pm)"/>
<circle cx="503.5" cy="224.4" r="2.2" fill="url(#pm)"/>
<circle cx="498.1" cy="234.8" r="2.2" fill="url(#pm)"/>
<circle cx="492.8" cy="236.3" r="2.2" fill="url(#pm)"/>
<circle cx="487.6" cy="237.4" r="2.2" fill="url(#pm)"/>
<circle cx="482.5" cy="238.7" r="2.2" fill="url(#pm)"/>
<circle cx="477.6" cy="240.0" r="2.2" fill="url(#pm)"/>
<circle cx="472.8" cy="241.3" r="2.2" fill="url(#pm)"/>
<circle cx="468.1" cy="242.5" r="2.2" fill="url(#pm)"/>
<circle cx="463.6" cy="243.7" r="2.2" fill="url(#pm)"/>
<circle cx="459.3" cy="244.9" r="2.2" fill="url(#pm)"/>
<circle cx="455.2" cy="246.0" r="2.2" fill="url(#pm)"/>
<circle cx="451.3" cy="247.0" r="2.2" fill="url(#pm)"/>
<circle cx="447.5" cy="248.0" r="2.2" fill="url(#pm)"/>
<circle cx="444.0" cy="249.0" r="2.2" fill="url(#pm)"/>
<circle cx="440.7" cy="249.8" r="2.2" fill="url(#pm)"/>
<circle cx="437.7" cy="250.6" r="2.2" fill="url(#pm)"/>
<circle cx="434.9" cy="251.4" r="2.2" fill="url(#pm)"/>
<circle cx="432.3" cy="252.1" r="2.2" fill="url(#pm)"/>
<circle cx="430.0" cy="252.7" r="2.2" fill="url(#pm)"/>
<circle cx="427.9" cy="253.2" r="2.2" fill="url(#pm)"/>
<circle cx="426.1" cy="253.7" r="2.2" fill="url(#pm)"/>
<circle cx="424.6" cy="254.1" r="2.2" fill="url(#pm)"/>
<circle cx="423.3" cy="254.5" r="2.2" fill="url(#pm)"/>
<circle cx="422.3" cy="254.7" r="2.2" fill="url(#pm)"/>
<circle cx="421.6" cy="254.9" r="2.2" fill="url(#pm)"/>
<circle cx="421.2" cy="255.0" r="2.2" fill="url(#pm)"/>
<circle cx="421.0" cy="255.1" r="2.2" fill="url(#pm)"/>
<circle cx="421.2" cy="255.0" r="2.2" fill="url(#pm)"/>
<circle cx="421.6" cy="254.9" r="2.2" fill="url(#pm)"/>
<circle cx="422.2" cy="254.8" r="2.2" fill="url(#pm)"/>
<circle cx="423.2" cy="254.5" r="2.2" fill="url(#pm)"/>
<circle cx="424.4" cy="254.2" r="2.2" fill="url(#pm)"/>
<circle cx="425.9" cy="253.8" r="2.2" fill="url(#pm)"/>
<circle cx="427.7" cy="253.3" r="2.2" fill="url(#pm)"/>
<circle cx="429.7" cy="252.8" r="2.2" fill="url(#pm)"/>
<circle cx="432.0" cy="252.2" r="2.2" fill="url(#pm)"/>
<circle cx="434.5" cy="251.5" r="2.2" fill="url(#pm)"/>
<circle cx="437.3" cy="250.7" r="2.2" fill="url(#pm)"/>
<circle cx="440.4" cy="249.9" r="2.2" fill="url(#pm)"/>
<circle cx="443.6" cy="249.1" r="2.2" fill="url(#pm)"/>
<circle cx="447.1" cy="248.1" r="2.2" fill="url(#pm)"/>
<circle cx="450.8" cy="247.1" r="2.2" fill="url(#pm)"/>
<circle cx="454.7" cy="246.1" r="2.2" fill="url(#pm)"/>
<circle cx="458.8" cy="245.0" r="2.2" fill="url(#pm)"/>
<circle cx="463.1" cy="243.9" r="2.2" fill="url(#pm)"/>
<circle cx="467.5" cy="242.7" r="2.2" fill="url(#pm)"/>
<circle cx="472.2" cy="241.4" r="2.2" fill="url(#pm)"/>
<circle cx="477.0" cy="240.2" r="2.2" fill="url(#pm)"/>
<circle cx="481.9" cy="238.8" r="2.2" fill="url(#pm)"/>
<circle cx="487.0" cy="237.5" r="2.2" fill="url(#pm)"/>
<circle cx="492.2" cy="236.1" r="2.2" fill="url(#pm)"/>
<circle cx="497.4" cy="234.6" r="2.2" fill="url(#pm)"/>
<circle cx="502.8" cy="233.1" r="2.2" fill="url(#pm)"/>
<circle cx="508.3" cy="231.4" r="2.2" fill="url(#pm)"/>
<circle cx="513.8" cy="229.7" r="2.2" fill="url(#pm)"/>
<circle cx="519.4" cy="227.6" r="2.2" fill="url(#pm)"/>
<circle cx="525.1" cy="225.1" r="2.2" fill="url(#pm)"/>
<circle cx="530.7" cy="221.9" r="2.2" fill="url(#pm)"/>
<circle cx="536.4" cy="217.4" r="2.2" fill="url(#pm)"/>
<circle cx="542.1" cy="210.7" r="2.2" fill="url(#pm)"/>
<circle cx="547.7" cy="200.6" r="2.2" fill="url(#pm)"/>
<circle cx="553.4" cy="186.0" r="2.2" fill="url(#pm)"/>
<circle cx="559.0" cy="166.3" r="2.2" fill="url(#pm)"/>
<circle cx="564.5" cy="142.5" r="2.2" fill="url(#pm)"/>
<circle cx="570.0" cy="104.2" r="2.2" fill="url(#pm)"/>
<circle cx="575.4" cy="71.5" r="2.2" fill="url(#pm)"/>
<circle cx="580.7" cy="55.1" r="2.2" fill="url(#pm)"/>
<circle cx="585.9" cy="48.0" r="2.2" fill="url(#pm)"/>
<circle cx="591.0" cy="44.8" r="2.2" fill="url(#pm)"/>
<circle cx="595.9" cy="43.2" r="2.2" fill="url(#pm)"/>
<circle cx="600.7" cy="42.1" r="2.2" fill="url(#pm)"/>
<circle cx="605.4" cy="41.3" r="2.2" fill="url(#pm)"/>
<circle cx="609.9" cy="40.5" r="2.2" fill="url(#pm)"/>
<circle cx="614.2" cy="39.9" r="2.2" fill="url(#pm)"/>
<circle cx="618.3" cy="39.2" r="2.2" fill="url(#pm)"/>
<circle cx="622.2" cy="38.6" r="2.2" fill="url(#pm)"/>
<circle cx="626.0" cy="38.1" r="2.2" fill="url(#pm)"/>
<circle cx="629.5" cy="37.5" r="2.2" fill="url(#pm)"/>
<circle cx="632.8" cy="37.0" r="2.2" fill="url(#pm)"/>
<circle cx="635.8" cy="36.6" r="2.2" fill="url(#pm)"/>
<circle cx="638.6" cy="36.2" r="2.2" fill="url(#pm)"/>
<circle cx="641.2" cy="35.8" r="2.2" fill="url(#pm)"/>
<circle cx="643.5" cy="35.4" r="2.2" fill="url(#pm)"/>
<circle cx="645.6" cy="35.1" r="2.2" fill="url(#pm)"/>
<circle cx="647.4" cy="34.8" r="2.2" fill="url(#pm)"/>
<circle cx="648.9" cy="34.6" r="2.2" fill="url(#pm)"/>
<circle cx="650.2" cy="34.4" r="2.2" fill="url(#pm)"/>
<circle cx="651.2" cy="34.3" r="2.2" fill="url(#pm)"/>
<circle cx="651.9" cy="34.2" r="2.2" fill="url(#pm)"/>
<circle cx="652.3" cy="34.1" r="2.2" fill="url(#pm)"/>
<circle cx="652.5" cy="34.1" r="2.2" fill="url(#pm)"/>
<path d="M652.5,131.9 L652.5,131.9 L652.4,131.9 L652.4,131.9 L652.4,131.9 L652.4,131.9 L652.4,131.9 L652.3,131.9 L652.3,131.9 L652.2,131.9 L652.2,131.9 L652.1,131.9 L652.0,131.9 L652.0,131.9 L651.9,131.9 L651.8,131.9 L651.7,131.9 L651.6,132.0 L651.5,132.0 L651.4,132.0 L651.3,132.0 L651.2,132.0 L651.1,132.0 L651.0,132.0 L650.8,132.0 L650.7,132.0 L650.5,132.0 L650.4,132.0 L650.2,132.0 L650.1,132.1 L649.9,132.1 L649.7,132.1 L649.6,132.1 L649.4,132.1 L649.2,132.1 L649.0,132.1 L648.8,132.1 L648.6,132.2 L648.4,132.2 L648.2,132.2 L648.0,132.2 L647.7,132.2 L647.5,132.2 L647.3,132.2 L647.0,132.3 L646.8,132.3 L646.5,132.3 L646.3,132.3 L646.0,132.3 L645.7,132.4 L645.5,132.4 L645.2,132.4 L644.9,132.4 L644.6,132.4 L644.3,132.4 L644.0,132.5 L643.7,132.5 L643.4,132.5 L643.1,132.5 L642.8,132.6 L642.4,132.6 L642.1,132.6 L641.8,132.6 L641.4,132.6 L641.1,132.7 L640.7,132.7 L640.4,132.7 L640.0,132.7 L639.6,132.8 L639.3,132.8 L638.9,132.8 L638.5,132.8 L638.1,132.9 L637.7,132.9 L637.3,132.9 L636.9,133.0 L636.5,133.0 L636.1,133.0 L635.7,133.0 L635.3,133.1 L634.8,133.1 L634.4,133.1 L634.0,133.2 L633.5,133.2 L633.1,133.2 L632.6,133.3 L632.2,133.3 L631.7,133.3 L631.3,133.4 L630.8,133.4 L630.3,133.4 L629.8,133.5 L629.3,133.5 L628.9,133.5 L628.4,133.6 L627.9,133.6 L627.4,133.6 L626.9,133.7 L626.4,133.7 L625.8,133.7 L625.3,133.8 L624.8,133.8 L624.3,133.9 L623.7,133.9 L623.2,133.9 L622.7,134.0 L622.1,134.0 L621.6,134.1 L621.0,134.1 L620.5,134.1 L619.9,134.2 L619.3,134.2 L618.8,134.3 L618.2,134.3 L617.6,134.4 L617.1,134.4 L616.5,134.4 L615.9,134.5 L615.3,134.5 L614.7,134.6 L614.1,134.6 L613.5,134.7 L612.9,134.7 L612.3,134.8 L611.7,134.8 L611.0,134.9 L610.4,134.9 L609.8,135.0 L609.2,135.0 L608.5,135.1 L607.9,135.1 L607.3,135.2 L606.6,135.2 L606.0,135.3 L605.3,135.3 L604.7,135.4 L604.0,135.4 L603.3,135.5 L602.7,135.5 L602.0,135.6 L601.3,135.6 L600.7,135.7 L600.0,135.8 L599.3,135.8 L598.6,135.9 L598.0,135.9 L597.3,136.0 L596.6,136.0 L595.9,136.1 L595.2,136.2 L594.5,136.2 L593.8,136.3 L593.1,136.4 L592.4,136.4 L591.7,136.5 L590.9,136.5 L590.2,136.6 L589.5,136.7 L588.8,136.7 L588.1,136.8 L587.3,136.9 L586.6,136.9 L585.9,137.0 L585.1,137.1 L584.4,137.2 L583.7,137.2 L582.9,137.3 L582.2,137.4 L581.4,137.4 L580.7,137.5 L580.0,137.6 L579.2,137.7 L578.4,137.7 L577.7,137.8 L576.9,137.9 L576.2,138.0 L575.4,138.0 L574.7,138.1 L573.9,138.2 L573.1,138.3 L572.4,138.4 L571.6,138.4 L570.8,138.5 L570.0,138.6 L569.3,138.7 L568.5,138.8 L567.7,138.9 L566.9,138.9 L566.1,139.0 L565.4,139.1 L564.6,139.2 L563.8,139.3 L563.0,139.4 L562.2,139.5 L561.4,139.6 L560.6,139.7 L559.8,139.8 L559.1,139.8 L558.3,139.9 L557.5,140.0 L556.7,140.1 L555.9,140.2 L555.1,140.3 L554.3,140.4 L553.5,140.5 L552.7,140.6 L551.9,140.7 L551.1,140.8 L550.3,140.9 L549.5,141.0 L548.7,141.1 L547.9,141.2 L547.0,141.3 L546.2,141.4 L545.4,141.5 L544.6,141.6 L543.8,141.7 L543.0,141.8 L542.2,141.9 L541.4,142.0 L540.6,142.1 L539.8,142.2 L539.0,142.3 L538.2,142.5 L537.4,142.6 L536.5,142.7 L535.7,142.8 L534.9,142.9 L534.1,143.0 L533.3,143.1 L532.5,143.2 L531.7,143.3 L530.9,143.4 L530.1,143.5 L529.3,144.0 L528.5,144.6 L527.7,145.2 L526.9,145.6 L526.1,146.0 L525.2,146.3 L524.4,146.6 L523.6,146.7 L522.8,146.9 L522.0,147.0 L521.2,147.1 L520.4,147.2 L519.6,147.2 L518.8,147.3 L518.0,147.4 L517.2,147.4 L516.4,147.5 L515.6,147.5 L514.8,147.6 L514.1,147.6 L513.3,147.6 L512.5,147.7 L511.7,147.7 L510.9,147.8 L510.1,147.8 L509.3,147.9 L508.5,147.9 L507.7,148.0 L507.0,148.0 L506.2,148.1 L505.4,148.1 L504.6,148.1 L503.9,148.2 L503.1,148.2 L502.3,148.3 L501.5,148.3 L500.8,148.4 L500.0,148.4 L499.2,148.5 L498.5,148.5 L497.7,148.5 L496.9,148.6 L496.2,148.6 L495.4,148.7 L494.7,148.7 L493.9,148.8 L493.2,148.8 L492.4,148.8 L491.7,148.9 L490.9,148.9 L490.2,149.0 L489.5,149.0 L488.7,149.1 L488.0,149.1 L487.3,149.1 L486.5,149.2 L485.8,149.2 L485.1,149.3 L484.3,149.3 L483.6,149.3 L482.9,149.4 L482.2,149.4 L481.5,149.5 L480.8,149.5 L480.1,149.5 L479.4,149.6 L478.7,149.6 L478.0,149.7 L477.3,149.7 L476.6,149.7 L475.9,149.8 L475.2,149.8 L474.5,149.9 L473.8,149.9 L473.2,149.9 L472.5,150.0 L471.8,150.0 L471.2,150.1 L470.5,150.1 L469.8,150.1 L469.2,150.2 L468.5,150.2 L467.9,150.2 L467.2,150.3 L466.6,150.3 L465.9,150.4 L465.3,150.4 L464.7,150.4 L464.0,150.5 L463.4,150.5 L462.8,150.5 L462.2,150.6 L461.5,150.6 L460.9,150.6 L460.3,150.7 L459.7,150.7 L459.1,150.7 L458.5,150.8 L457.9,150.8 L457.3,150.8 L456.7,150.9 L456.2,150.9 L455.6,150.9 L455.0,151.0 L454.4,151.0 L453.9,151.0 L453.3,151.1 L452.7,151.1 L452.2,151.1 L451.6,151.2 L451.1,151.2 L450.6,151.2 L450.0,151.3 L449.5,151.3 L449.0,151.3 L448.4,151.4 L447.9,151.4 L447.4,151.4 L446.9,151.4 L446.4,151.5 L445.9,151.5 L445.4,151.5 L444.9,151.6 L444.4,151.6 L443.9,151.6 L443.4,151.6 L443.0,151.7 L442.5,151.7 L442.0,151.7 L441.6,151.7 L441.1,151.8 L440.6,151.8 L440.2,151.8 L439.8,151.8 L439.3,151.9 L438.9,151.9 L438.5,151.9 L438.0,151.9 L437.6,152.0 L437.2,152.0 L436.8,152.0 L436.4,152.0 L436.0,152.1 L435.6,152.1 L435.2,152.1 L434.8,152.1 L434.4,152.2 L434.1,152.2 L433.7,152.2 L433.3,152.2 L433.0,152.2 L432.6,152.3 L432.3,152.3 L431.9,152.3 L431.6,152.3 L431.2,152.3 L430.9,152.4 L430.6,152.4 L430.3,152.4 L429.9,152.4 L429.6,152.4 L429.3,152.4 L429.0,152.5 L428.7,152.5 L428.5,152.5 L428.2,152.5 L427.9,152.5 L427.6,152.5 L427.4,152.6 L427.1,152.6 L426.8,152.6 L426.6,152.6 L426.4,152.6 L426.1,152.6 L425.9,152.6 L425.6,152.7 L425.4,152.7 L425.2,152.7 L425.0,152.7 L424.8,152.7 L424.6,152.7 L424.4,152.7 L424.2,152.7 L424.0,152.7 L423.8,152.8 L423.7,152.8 L423.5,152.8 L423.3,152.8 L423.2,152.8 L423.0,152.8 L422.9,152.8 L422.7,152.8 L422.6,152.8 L422.5,152.8 L422.3,152.8 L422.2,152.9 L422.1,152.9 L422.0,152.9 L421.9,152.9 L421.8,152.9 L421.7,152.9 L421.6,152.9 L421.6,152.9 L421.5,152.9 L421.4,152.9 L421.4,152.9 L421.3,152.9 L421.2,152.9 L421.2,152.9 L421.2,152.9 L421.1,152.9 L421.1,152.9 L421.1,152.9 L421.1,152.9 L421.1,152.9 L421.0,152.9 L421.0,152.9 L421.1,152.9 L421.1,152.9 L421.1,152.9 L421.1,152.9 L421.1,152.9 L421.2,152.9 L421.2,152.9 L421.2,152.9 L421.3,152.9 L421.4,152.9 L421.4,152.9 L421.5,152.9 L421.6,152.9 L421.6,152.9 L421.7,152.9 L421.8,152.9 L421.9,152.9 L422.0,152.9 L422.1,152.8 L422.2,152.8 L422.3,152.8 L422.5,152.8 L422.6,152.8 L422.7,152.8 L422.9,152.8 L423.0,152.8 L423.2,152.8 L423.3,152.8 L423.5,152.8 L423.7,152.8 L423.8,152.7 L424.0,152.7 L424.2,152.7 L424.4,152.7 L424.6,152.7 L424.8,152.7 L425.0,152.7 L425.2,152.7 L425.4,152.6 L425.6,152.6 L425.9,152.6 L426.1,152.6 L426.4,152.6 L426.6,152.6 L426.8,152.5 L427.1,152.5 L427.4,152.5 L427.6,152.5 L427.9,152.5 L428.2,152.5 L428.5,152.4 L428.7,152.4 L429.0,152.4 L429.3,152.4 L429.6,152.4 L429.9,152.3 L430.3,152.3 L430.6,152.3 L430.9,152.3 L431.2,152.3 L431.6,152.2 L431.9,152.2 L432.3,152.2 L432.6,152.2 L433.0,152.2 L433.3,152.1 L433.7,152.1 L434.1,152.1 L434.4,152.1 L434.8,152.0 L435.2,152.0 L435.6,152.0 L436.0,152.0 L436.4,151.9 L436.8,151.9 L437.2,151.9 L437.6,151.9 L438.0,151.8 L438.5,151.8 L438.9,151.8 L439.3,151.7 L439.8,151.7 L440.2,151.7 L440.6,151.7 L441.1,151.6 L441.6,151.6 L442.0,151.6 L442.5,151.5 L443.0,151.5 L443.4,151.5 L443.9,151.4 L444.4,151.4 L444.9,151.4 L445.4,151.3 L445.9,151.3 L446.4,151.3 L446.9,151.2 L447.4,151.2 L447.9,151.2 L448.4,151.1 L449.0,151.1 L449.5,151.1 L450.0,151.0 L450.6,151.0 L451.1,151.0 L451.6,150.9 L452.2,150.9 L452.7,150.9 L453.3,150.8 L453.9,150.8 L454.4,150.7 L455.0,150.7 L455.6,150.7 L456.2,150.6 L456.7,150.6 L457.3,150.6 L457.9,150.5 L458.5,150.5 L459.1,150.4 L459.7,150.4 L460.3,150.3 L460.9,150.3 L461.5,150.3 L462.2,150.2 L462.8,150.2 L463.4,150.1 L464.0,150.1 L464.7,150.0 L465.3,150.0 L465.9,150.0 L466.6,149.9 L467.2,149.9 L467.9,149.8 L468.5,149.8 L469.2,149.7 L469.8,149.7 L470.5,149.6 L471.2,149.6 L471.8,149.5 L472.5,149.5 L473.2,149.5 L473.8,149.4 L474.5,149.4 L475.2,149.3 L475.9,149.3 L476.6,149.2 L477.3,149.2 L478.0,149.1 L478.7,149.1 L479.4,149.0 L480.1,148.9 L480.8,148.9 L481.5,148.8 L482.2,148.8 L482.9,148.7 L483.6,148.7 L484.3,148.6 L485.1,148.6 L485.8,148.5 L486.5,148.5 L487.3,148.4 L488.0,148.4 L488.7,148.3 L489.5,148.2 L490.2,148.2 L490.9,148.1 L491.7,148.1 L492.4,148.0 L493.2,147.9 L493.9,147.9 L494.7,147.8 L495.4,147.8 L496.2,147.7 L496.9,147.6 L497.7,147.6 L498.5,147.5 L499.2,147.5 L500.0,147.4 L500.8,147.3 L501.5,147.3 L502.3,147.2 L503.1,147.1 L503.9,147.1 L504.6,147.0 L505.4,146.9 L506.2,146.9 L507.0,146.8 L507.7,146.7 L508.5,146.7 L509.3,146.6 L510.1,146.5 L510.9,146.5 L511.7,146.4 L512.5,146.3 L513.3,146.2 L514.1,146.2 L514.8,146.1 L515.6,146.0 L516.4,146.0 L517.2,145.9 L518.0,145.8 L518.8,145.7 L519.6,145.7 L520.4,145.6 L521.2,145.5 L522.0,145.4 L522.8,145.3 L523.6,145.3 L524.4,145.2 L525.2,145.1 L526.1,145.0 L526.9,144.9 L527.7,144.9 L528.5,144.8 L529.3,144.7 L530.1,144.6 L530.9,144.5 L531.7,144.5 L532.5,144.4 L533.3,144.3 L534.1,144.2 L534.9,144.1 L535.7,144.0 L536.5,143.9 L537.4,143.9 L538.2,143.8 L539.0,143.7 L539.8,143.6 L540.6,143.5 L541.4,143.4 L542.2,143.3 L543.0,143.2 L543.8,143.2 L544.6,143.1 L545.4,143.0 L546.2,142.9 L547.0,142.8 L547.9,142.7 L548.7,142.6 L549.5,142.5 L550.3,142.4 L551.1,142.3 L551.9,142.3 L552.7,142.2 L553.5,142.1 L554.3,142.0 L555.1,141.9 L555.9,141.8 L556.7,141.7 L557.5,141.6 L558.3,141.5 L559.1,141.4 L559.8,141.3 L560.6,141.3 L561.4,141.1 L562.2,140.3 L563.0,139.5 L563.8,138.9 L564.6,138.3 L565.4,137.9 L566.1,137.5 L566.9,137.3 L567.7,137.1 L568.5,136.9 L569.3,136.8 L570.0,136.7 L570.8,136.6 L571.6,136.5 L572.4,136.5 L573.1,136.4 L573.9,136.4 L574.7,136.3 L575.4,136.3 L576.2,136.2 L576.9,136.2 L577.7,136.1 L578.4,136.1 L579.2,136.0 L580.0,136.0 L580.7,135.9 L581.4,135.9 L582.2,135.9 L582.9,135.8 L583.7,135.8 L584.4,135.7 L585.1,135.7 L585.9,135.7 L586.6,135.6 L587.3,135.6 L588.1,135.5 L588.8,135.5 L589.5,135.5 L590.2,135.4 L590.9,135.4 L591.7,135.3 L592.4,135.3 L593.1,135.3 L593.8,135.2 L594.5,135.2 L595.2,135.1 L595.9,135.1 L596.6,135.1 L597.3,135.0 L598.0,135.0 L598.6,134.9 L599.3,134.9 L600.0,134.9 L600.7,134.8 L601.3,134.8 L602.0,134.7 L602.7,134.7 L603.3,134.7 L604.0,134.6 L604.7,134.6 L605.3,134.6 L606.0,134.5 L606.6,134.5 L607.3,134.5 L607.9,134.4 L608.5,134.4 L609.2,134.3 L609.8,134.3 L610.4,134.3 L611.0,134.2 L611.7,134.2 L612.3,134.2 L612.9,134.1 L613.5,134.1 L614.1,134.1 L614.7,134.0 L615.3,134.0 L615.9,134.0 L616.5,133.9 L617.1,133.9 L617.6,133.9 L618.2,133.8 L618.8,133.8 L619.3,133.8 L619.9,133.7 L620.5,133.7 L621.0,133.7 L621.6,133.6 L622.1,133.6 L622.7,133.6 L623.2,133.6 L623.7,133.5 L624.3,133.5 L624.8,133.5 L625.3,133.4 L625.8,133.4 L626.4,133.4 L626.9,133.3 L627.4,133.3 L627.9,133.3 L628.4,133.3 L628.9,133.2 L629.3,133.2 L629.8,133.2 L630.3,133.1 L630.8,133.1 L631.3,133.1 L631.7,133.1 L632.2,133.0 L632.6,133.0 L633.1,133.0 L633.5,133.0 L634.0,132.9 L634.4,132.9 L634.8,132.9 L635.3,132.9 L635.7,132.8 L636.1,132.8 L636.5,132.8 L636.9,132.8 L637.3,132.8 L637.7,132.7 L638.1,132.7 L638.5,132.7 L638.9,132.7 L639.3,132.6 L639.6,132.6 L640.0,132.6 L640.4,132.6 L640.7,132.6 L641.1,132.5 L641.4,132.5 L641.8,132.5 L642.1,132.5 L642.4,132.5 L642.8,132.4 L643.1,132.4 L643.4,132.4 L643.7,132.4 L644.0,132.4 L644.3,132.4 L644.6,132.3 L644.9,132.3 L645.2,132.3 L645.5,132.3 L645.7,132.3 L646.0,132.3 L646.3,132.2 L646.5,132.2 L646.8,132.2 L647.0,132.2 L647.3,132.2 L647.5,132.2 L647.7,132.2 L648.0,132.2 L648.2,132.1 L648.4,132.1 L648.6,132.1 L648.8,132.1 L649.0,132.1 L649.2,132.1 L649.4,132.1 L649.6,132.1 L649.7,132.1 L649.9,132.0 L650.1,132.0 L650.2,132.0 L650.4,132.0 L650.5,132.0 L650.7,132.0 L650.8,132.0 L651.0,132.0 L651.1,132.0 L651.2,132.0 L651.3,132.0 L651.4,132.0 L651.5,132.0 L651.6,131.9 L651.7,131.9 L651.8,131.9 L651.9,131.9 L652.0,131.9 L652.0,131.9 L652.1,131.9 L652.2,131.9 L652.2,131.9 L652.3,131.9 L652.3,131.9 L652.4,131.9 L652.4,131.9 L652.4,131.9 L652.4,131.9 L652.4,131.9 L652.5,131.9 L652.5,131.9Z" fill="none" stroke="#000000" stroke-width="1.5" stroke-linejoin="round"/>
<path d="M652.5,107.5 L652.5,107.5 L652.4,107.5 L652.4,107.5 L652.4,107.5 L652.4,107.5 L652.4,107.5 L652.3,107.5 L652.3,107.5 L652.2,107.5 L652.2,107.5 L652.1,107.5 L652.0,107.5 L652.0,107.5 L651.9,107.5 L651.8,107.6 L651.7,107.6 L651.6,107.6 L651.5,107.6 L651.4,107.6 L651.3,107.6 L651.2,107.6 L651.1,107.6 L651.0,107.6 L650.8,107.6 L650.7,107.6 L650.5,107.7 L650.4,107.7 L650.2,107.7 L650.1,107.7 L649.9,107.7 L649.7,107.7 L649.6,107.7 L649.4,107.8 L649.2,107.8 L649.0,107.8 L648.8,107.8 L648.6,107.8 L648.4,107.8 L648.2,107.9 L648.0,107.9 L647.7,107.9 L647.5,107.9 L647.3,107.9 L647.0,107.9 L646.8,108.0 L646.5,108.0 L646.3,108.0 L646.0,108.0 L645.7,108.1 L645.5,108.1 L645.2,108.1 L644.9,108.1 L644.6,108.1 L644.3,108.2 L644.0,108.2 L643.7,108.2 L643.4,108.2 L643.1,108.3 L642.8,108.3 L642.4,108.3 L642.1,108.3 L641.8,108.4 L641.4,108.4 L641.1,108.4 L640.7,108.5 L640.4,108.5 L640.0,108.5 L639.6,108.5 L639.3,108.6 L638.9,108.6 L638.5,108.6 L638.1,108.7 L637.7,108.7 L637.3,108.7 L636.9,108.8 L636.5,108.8 L636.1,108.8 L635.7,108.9 L635.3,108.9 L634.8,108.9 L634.4,109.0 L634.0,109.0 L633.5,109.0 L633.1,109.1 L632.6,109.1 L632.2,109.2 L631.7,109.2 L631.3,109.2 L630.8,109.3 L630.3,109.3 L629.8,109.3 L629.3,109.4 L628.9,109.4 L628.4,109.5 L627.9,109.5 L627.4,109.5 L626.9,109.6 L626.4,109.6 L625.8,109.7 L625.3,109.7 L624.8,109.8 L624.3,109.8 L623.7,109.8 L623.2,109.9 L622.7,109.9 L622.1,110.0 L621.6,110.0 L621.0,110.1 L620.5,110.1 L619.9,110.2 L619.3,110.2 L618.8,110.2 L618.2,110.3 L617.6,110.3 L617.1,110.4 L616.5,110.4 L615.9,110.5 L615.3,110.5 L614.7,110.6 L614.1,110.6 L613.5,110.7 L612.9,110.7 L612.3,110.8 L611.7,110.8 L611.0,110.9 L610.4,110.9 L609.8,111.0 L609.2,111.0 L608.5,111.1 L607.9,111.1 L607.3,111.2 L606.6,111.2 L606.0,111.3 L605.3,111.3 L604.7,111.4 L604.0,111.4 L603.3,111.5 L602.7,111.6 L602.0,111.6 L601.3,111.7 L600.7,111.7 L600.0,111.8 L599.3,111.8 L598.6,111.9 L598.0,111.9 L597.3,112.0 L596.6,112.1 L595.9,112.1 L595.2,112.2 L594.5,112.2 L593.8,112.3 L593.1,112.3 L592.4,112.4 L591.7,112.5 L590.9,112.5 L590.2,112.6 L589.5,112.6 L588.8,112.7 L588.1,112.8 L587.3,112.8 L586.6,112.9 L585.9,112.9 L585.1,113.0 L584.4,113.1 L583.7,113.1 L582.9,113.2 L582.2,113.2 L581.4,113.3 L580.7,113.4 L580.0,113.4 L579.2,113.5 L578.4,113.6 L577.7,113.6 L576.9,113.7 L576.2,113.7 L575.4,113.8 L574.7,113.9 L573.9,113.9 L573.1,114.0 L572.4,114.1 L571.6,114.2 L570.8,114.2 L570.0,114.3 L569.3,114.4 L568.5,114.4 L567.7,114.5 L566.9,114.6 L566.1,114.7 L565.4,114.8 L564.6,114.9 L563.8,114.9 L563.0,115.0 L562.2,115.1 L561.4,115.2 L560.6,115.3 L559.8,115.4 L559.1,115.6 L558.3,115.7 L557.5,115.8 L556.7,115.9 L555.9,116.1 L555.1,116.3 L554.3,116.4 L553.5,116.6 L552.7,116.8 L551.9,117.0 L551.1,117.3 L550.3,117.5 L549.5,117.8 L548.7,118.1 L547.9,118.4 L547.0,118.8 L546.2,119.2 L545.4,119.6 L544.6,120.1 L543.8,120.7 L543.0,121.3 L542.2,121.9 L541.4,122.6 L540.6,123.4 L539.8,124.2 L539.0,125.1 L538.2,126.1 L537.4,127.2 L536.5,128.3 L535.7,129.6 L534.9,130.9 L534.1,132.3 L533.3,133.7 L532.5,135.3 L531.7,136.9 L530.9,138.6 L530.1,140.3 L529.3,142.0 L528.5,143.8 L527.7,145.6 L526.9,146.7 L526.1,147.9 L525.2,149.1 L524.4,150.2 L523.6,151.4 L522.8,152.5 L522.0,153.6 L521.2,154.7 L520.4,155.7 L519.6,156.7 L518.8,157.7 L518.0,158.6 L517.2,159.5 L516.4,160.4 L515.6,161.2 L514.8,162.0 L514.1,162.7 L513.3,163.5 L512.5,164.1 L511.7,164.8 L510.9,165.4 L510.1,166.0 L509.3,166.5 L508.5,167.0 L507.7,167.5 L507.0,167.9 L506.2,168.4 L505.4,168.8 L504.6,169.1 L503.9,169.5 L503.1,169.8 L502.3,170.1 L501.5,170.4 L500.8,170.7 L500.0,170.9 L499.2,171.1 L498.5,171.4 L497.7,171.6 L496.9,171.8 L496.2,171.9 L495.4,172.1 L494.7,172.3 L493.9,172.4 L493.2,172.6 L492.4,172.7 L491.7,172.8 L490.9,172.9 L490.2,173.0 L489.5,173.2 L488.7,173.3 L488.0,173.3 L487.3,173.4 L486.5,173.5 L485.8,173.6 L485.1,173.7 L484.3,173.7 L483.6,173.8 L482.9,173.9 L482.2,173.9 L481.5,174.0 L480.8,174.1 L480.1,174.1 L479.4,174.2 L478.7,174.2 L478.0,174.3 L477.3,174.3 L476.6,174.4 L475.9,174.4 L475.2,174.5 L474.5,174.5 L473.8,174.5 L473.2,174.6 L472.5,174.6 L471.8,174.7 L471.2,174.7 L470.5,174.7 L469.8,174.8 L469.2,174.8 L468.5,174.8 L467.9,174.9 L467.2,174.9 L466.6,174.9 L465.9,175.0 L465.3,175.0 L464.7,175.0 L464.0,175.1 L463.4,175.1 L462.8,175.1 L462.2,175.1 L461.5,175.2 L460.9,175.2 L460.3,175.2 L459.7,175.3 L459.1,175.3 L458.5,175.3 L457.9,175.3 L457.3,175.4 L456.7,175.4 L456.2,175.4 L455.6,175.4 L455.0,175.5 L454.4,175.5 L453.9,175.5 L453.3,175.5 L452.7,175.6 L452.2,175.6 L451.6,175.6 L451.1,175.6 L450.6,175.7 L450.0,175.7 L449.5,175.7 L449.0,175.7 L448.4,175.7 L447.9,175.8 L447.4,175.8 L446.9,175.8 L446.4,175.8 L445.9,175.9 L445.4,175.9 L444.9,175.9 L444.4,175.9 L443.9,175.9 L443.4,176.0 L443.0,176.0 L442.5,176.0 L442.0,176.0 L441.6,176.0 L441.1,176.1 L440.6,176.1 L440.2,176.1 L439.8,176.1 L439.3,176.1 L438.9,176.1 L438.5,176.2 L438.0,176.2 L437.6,176.2 L437.2,176.2 L436.8,176.2 L436.4,176.2 L436.0,176.3 L435.6,176.3 L435.2,176.3 L434.8,176.3 L434.4,176.3 L434.1,176.3 L433.7,176.4 L433.3,176.4 L433.0,176.4 L432.6,176.4 L432.3,176.4 L431.9,176.4 L431.6,176.4 L431.2,176.5 L430.9,176.5 L430.6,176.5 L430.3,176.5 L429.9,176.5 L429.6,176.5 L429.3,176.5 L429.0,176.5 L428.7,176.6 L428.5,176.6 L428.2,176.6 L427.9,176.6 L427.6,176.6 L427.4,176.6 L427.1,176.6 L426.8,176.6 L426.6,176.6 L426.4,176.7 L426.1,176.7 L425.9,176.7 L425.6,176.7 L425.4,176.7 L425.2,176.7 L425.0,176.7 L424.8,176.7 L424.6,176.7 L424.4,176.7 L424.2,176.7 L424.0,176.8 L423.8,176.8 L423.7,176.8 L423.5,176.8 L423.3,176.8 L423.2,176.8 L423.0,176.8 L422.9,176.8 L422.7,176.8 L422.6,176.8 L422.5,176.8 L422.3,176.8 L422.2,176.8 L422.1,176.8 L422.0,176.8 L421.9,176.8 L421.8,176.8 L421.7,176.8 L421.6,176.9 L421.6,176.9 L421.5,176.9 L421.4,176.9 L421.4,176.9 L421.3,176.9 L421.2,176.9 L421.2,176.9 L421.2,176.9 L421.1,176.9 L421.1,176.9 L421.1,176.9 L421.1,176.9 L421.1,176.9 L421.0,176.9 L421.0,176.9 L421.1,176.9 L421.1,176.9 L421.1,176.9 L421.1,176.9 L421.1,176.9 L421.2,176.9 L421.2,176.9 L421.2,176.9 L421.3,176.9 L421.4,176.9 L421.4,176.8 L421.5,176.8 L421.6,176.8 L421.6,176.8 L421.7,176.8 L421.8,176.8 L421.9,176.8 L422.0,176.8 L422.1,176.8 L422.2,176.8 L422.3,176.8 L422.5,176.8 L422.6,176.8 L422.7,176.7 L422.9,176.7 L423.0,176.7 L423.2,176.7 L423.3,176.7 L423.5,176.7 L423.7,176.7 L423.8,176.7 L424.0,176.6 L424.2,176.6 L424.4,176.6 L424.6,176.6 L424.8,176.6 L425.0,176.6 L425.2,176.5 L425.4,176.5 L425.6,176.5 L425.9,176.5 L426.1,176.5 L426.4,176.5 L426.6,176.4 L426.8,176.4 L427.1,176.4 L427.4,176.4 L427.6,176.4 L427.9,176.3 L428.2,176.3 L428.5,176.3 L428.7,176.3 L429.0,176.2 L429.3,176.2 L429.6,176.2 L429.9,176.2 L430.3,176.1 L430.6,176.1 L430.9,176.1 L431.2,176.1 L431.6,176.0 L431.9,176.0 L432.3,176.0 L432.6,176.0 L433.0,175.9 L433.3,175.9 L433.7,175.9 L434.1,175.8 L434.4,175.8 L434.8,175.8 L435.2,175.8 L435.6,175.7 L436.0,175.7 L436.4,175.7 L436.8,175.6 L437.2,175.6 L437.6,175.6 L438.0,175.5 L438.5,175.5 L438.9,175.5 L439.3,175.4 L439.8,175.4 L440.2,175.4 L440.6,175.3 L441.1,175.3 L441.6,175.3 L442.0,175.2 L442.5,175.2 L443.0,175.1 L443.4,175.1 L443.9,175.1 L444.4,175.0 L444.9,175.0 L445.4,175.0 L445.9,174.9 L446.4,174.9 L446.9,174.8 L447.4,174.8 L447.9,174.8 L448.4,174.7 L449.0,174.7 L449.5,174.6 L450.0,174.6 L450.6,174.5 L451.1,174.5 L451.6,174.5 L452.2,174.4 L452.7,174.4 L453.3,174.3 L453.9,174.3 L454.4,174.2 L455.0,174.2 L455.6,174.1 L456.2,174.1 L456.7,174.1 L457.3,174.0 L457.9,174.0 L458.5,173.9 L459.1,173.9 L459.7,173.8 L460.3,173.8 L460.9,173.7 L461.5,173.7 L462.2,173.6 L462.8,173.6 L463.4,173.5 L464.0,173.5 L464.7,173.4 L465.3,173.4 L465.9,173.3 L466.6,173.3 L467.2,173.2 L467.9,173.2 L468.5,173.1 L469.2,173.1 L469.8,173.0 L470.5,173.0 L471.2,172.9 L471.8,172.9 L472.5,172.8 L473.2,172.8 L473.8,172.7 L474.5,172.7 L475.2,172.6 L475.9,172.5 L476.6,172.5 L477.3,172.4 L478.0,172.4 L478.7,172.3 L479.4,172.3 L480.1,172.2 L480.8,172.2 L481.5,172.1 L482.2,172.0 L482.9,172.0 L483.6,171.9 L484.3,171.9 L485.1,171.8 L485.8,171.8 L486.5,171.7 L487.3,171.6 L488.0,171.6 L488.7,171.5 L489.5,171.5 L490.2,171.4 L490.9,171.4 L491.7,171.3 L492.4,171.2 L493.2,171.2 L493.9,171.1 L494.7,171.1 L495.4,171.0 L496.2,170.9 L496.9,170.9 L497.7,170.8 L498.5,170.8 L499.2,170.7 L500.0,170.6 L500.8,170.6 L501.5,170.5 L502.3,170.4 L503.1,170.4 L503.9,170.3 L504.6,170.3 L505.4,170.2 L506.2,170.1 L507.0,170.1 L507.7,170.0 L508.5,169.9 L509.3,169.9 L510.1,169.8 L510.9,169.7 L511.7,169.7 L512.5,169.6 L513.3,169.5 L514.1,169.5 L514.8,169.4 L515.6,169.3 L516.4,169.3 L517.2,169.2 L518.0,169.1 L518.8,169.0 L519.6,169.0 L520.4,168.9 L521.2,168.8 L522.0,168.7 L522.8,168.6 L523.6,168.6 L524.4,168.5 L525.2,168.4 L526.1,168.3 L526.9,168.2 L527.7,168.0 L528.5,167.9 L529.3,167.8 L530.1,167.7 L530.9,167.5 L531.7,167.4 L532.5,167.2 L533.3,167.1 L534.1,166.9 L534.9,166.7 L535.7,166.4 L536.5,166.2 L537.4,165.9 L538.2,165.7 L539.0,165.3 L539.8,165.0 L540.6,164.6 L541.4,164.2 L542.2,163.7 L543.0,163.3 L543.8,162.7 L544.6,162.1 L545.4,161.5 L546.2,160.7 L547.0,160.0 L547.9,159.1 L548.7,158.2 L549.5,157.2 L550.3,156.1 L551.1,155.0 L551.9,153.7 L552.7,152.4 L553.5,151.1 L554.3,149.6 L555.1,148.1 L555.9,146.5 L556.7,144.9 L557.5,143.2 L558.3,141.6 L559.1,139.9 L559.8,138.4 L560.6,137.2 L561.4,136.0 L562.2,134.8 L563.0,133.7 L563.8,132.5 L564.6,131.4 L565.4,130.3 L566.1,129.3 L566.9,128.2 L567.7,127.2 L568.5,126.3 L569.3,125.3 L570.0,124.4 L570.8,123.6 L571.6,122.7 L572.4,122.0 L573.1,121.2 L573.9,120.5 L574.7,119.8 L575.4,119.2 L576.2,118.6 L576.9,118.0 L577.7,117.5 L578.4,117.0 L579.2,116.5 L580.0,116.0 L580.7,115.6 L581.4,115.2 L582.2,114.8 L582.9,114.5 L583.7,114.2 L584.4,113.8 L585.1,113.6 L585.9,113.3 L586.6,113.0 L587.3,112.8 L588.1,112.6 L588.8,112.4 L589.5,112.2 L590.2,112.0 L590.9,111.8 L591.7,111.6 L592.4,111.5 L593.1,111.3 L593.8,111.2 L594.5,111.1 L595.2,111.0 L595.9,110.8 L596.6,110.7 L597.3,110.6 L598.0,110.5 L598.6,110.4 L599.3,110.4 L600.0,110.3 L600.7,110.2 L601.3,110.1 L602.0,110.1 L602.7,110.0 L603.3,109.9 L604.0,109.9 L604.7,109.8 L605.3,109.7 L606.0,109.7 L606.6,109.6 L607.3,109.6 L607.9,109.5 L608.5,109.5 L609.2,109.5 L609.8,109.4 L610.4,109.4 L611.0,109.3 L611.7,109.3 L612.3,109.3 L612.9,109.2 L613.5,109.2 L614.1,109.1 L614.7,109.1 L615.3,109.1 L615.9,109.0 L616.5,109.0 L617.1,109.0 L617.6,109.0 L618.2,108.9 L618.8,108.9 L619.3,108.9 L619.9,108.8 L620.5,108.8 L621.0,108.8 L621.6,108.8 L622.1,108.7 L622.7,108.7 L623.2,108.7 L623.7,108.7 L624.3,108.6 L624.8,108.6 L625.3,108.6 L625.8,108.6 L626.4,108.6 L626.9,108.5 L627.4,108.5 L627.9,108.5 L628.4,108.5 L628.9,108.4 L629.3,108.4 L629.8,108.4 L630.3,108.4 L630.8,108.4 L631.3,108.3 L631.7,108.3 L632.2,108.3 L632.6,108.3 L633.1,108.3 L633.5,108.3 L634.0,108.2 L634.4,108.2 L634.8,108.2 L635.3,108.2 L635.7,108.2 L636.1,108.1 L636.5,108.1 L636.9,108.1 L637.3,108.1 L637.7,108.1 L638.1,108.1 L638.5,108.1 L638.9,108.0 L639.3,108.0 L639.6,108.0 L640.0,108.0 L640.4,108.0 L640.7,108.0 L641.1,107.9 L641.4,107.9 L641.8,107.9 L642.1,107.9 L642.4,107.9 L642.8,107.9 L643.1,107.9 L643.4,107.9 L643.7,107.8 L644.0,107.8 L644.3,107.8 L644.6,107.8 L644.9,107.8 L645.2,107.8 L645.5,107.8 L645.7,107.8 L646.0,107.8 L646.3,107.7 L646.5,107.7 L646.8,107.7 L647.0,107.7 L647.3,107.7 L647.5,107.7 L647.7,107.7 L648.0,107.7 L648.2,107.7 L648.4,107.7 L648.6,107.7 L648.8,107.6 L649.0,107.6 L649.2,107.6 L649.4,107.6 L649.6,107.6 L649.7,107.6 L649.9,107.6 L650.1,107.6 L650.2,107.6 L650.4,107.6 L650.5,107.6 L650.7,107.6 L650.8,107.6 L651.0,107.6 L651.1,107.6 L651.2,107.6 L651.3,107.5 L651.4,107.5 L651.5,107.5 L651.6,107.5 L651.7,107.5 L651.8,107.5 L651.9,107.5 L652.0,107.5 L652.0,107.5 L652.1,107.5 L652.2,107.5 L652.2,107.5 L652.3,107.5 L652.3,107.5 L652.4,107.5 L652.4,107.5 L652.4,107.5 L652.4,107.5 L652.4,107.5 L652.5,107.5 L652.5,107.5Z" fill="none" stroke="#1010ff" stroke-width="1.5" stroke-linejoin="round"/>
<path d="M652.5,72.3 L652.5,72.3 L652.4,72.3 L652.4,72.3 L652.4,72.3 L652.4,72.3 L652.4,72.3 L652.3,72.3 L652.3,72.3 L652.2,72.3 L652.2,72.3 L652.1,72.3 L652.0,72.3 L652.0,72.3 L651.9,72.4 L651.8,72.4 L651.7,72.4 L651.6,72.4 L651.5,72.4 L651.4,72.4 L651.3,72.4 L651.2,72.4 L651.1,72.4 L651.0,72.4 L650.8,72.4 L650.7,72.5 L650.5,72.5 L650.4,72.5 L650.2,72.5 L650.1,72.5 L649.9,72.5 L649.7,72.5 L649.6,72.6 L649.4,72.6 L649.2,72.6 L649.0,72.6 L648.8,72.6 L648.6,72.6 L648.4,72.7 L648.2,72.7 L648.0,72.7 L647.7,72.7 L647.5,72.7 L647.3,72.8 L647.0,72.8 L646.8,72.8 L646.5,72.8 L646.3,72.8 L646.0,72.9 L645.7,72.9 L645.5,72.9 L645.2,72.9 L644.9,73.0 L644.6,73.0 L644.3,73.0 L644.0,73.0 L643.7,73.1 L643.4,73.1 L643.1,73.1 L642.8,73.1 L642.4,73.2 L642.1,73.2 L641.8,73.2 L641.4,73.3 L641.1,73.3 L640.7,73.3 L640.4,73.4 L640.0,73.4 L639.6,73.4 L639.3,73.5 L638.9,73.5 L638.5,73.5 L638.1,73.6 L637.7,73.6 L637.3,73.6 L636.9,73.7 L636.5,73.7 L636.1,73.7 L635.7,73.8 L635.3,73.8 L634.8,73.8 L634.4,73.9 L634.0,73.9 L633.5,74.0 L633.1,74.0 L632.6,74.0 L632.2,74.1 L631.7,74.1 L631.3,74.2 L630.8,74.2 L630.3,74.2 L629.8,74.3 L629.3,74.3 L628.9,74.4 L628.4,74.4 L627.9,74.4 L627.4,74.5 L626.9,74.5 L626.4,74.6 L625.8,74.6 L625.3,74.7 L624.8,74.7 L624.3,74.8 L623.7,74.8 L623.2,74.9 L622.7,74.9 L622.1,75.0 L621.6,75.0 L621.0,75.1 L620.5,75.1 L619.9,75.1 L619.3,75.2 L618.8,75.3 L618.2,75.3 L617.6,75.4 L617.1,75.4 L616.5,75.5 L615.9,75.5 L615.3,75.6 L614.7,75.6 L614.1,75.7 L613.5,75.7 L612.9,75.8 L612.3,75.8 L611.7,75.9 L611.0,75.9 L610.4,76.0 L609.8,76.1 L609.2,76.1 L608.5,76.2 L607.9,76.2 L607.3,76.3 L606.6,76.4 L606.0,76.4 L605.3,76.5 L604.7,76.5 L604.0,76.6 L603.3,76.7 L602.7,76.7 L602.0,76.8 L601.3,76.9 L600.7,76.9 L600.0,77.0 L599.3,77.0 L598.6,77.1 L598.0,77.2 L597.3,77.3 L596.6,77.3 L595.9,77.4 L595.2,77.5 L594.5,77.5 L593.8,77.6 L593.1,77.7 L592.4,77.8 L591.7,77.8 L590.9,77.9 L590.2,78.0 L589.5,78.1 L588.8,78.2 L588.1,78.2 L587.3,78.3 L586.6,78.4 L585.9,78.5 L585.1,78.6 L584.4,78.7 L583.7,78.8 L582.9,78.9 L582.2,79.0 L581.4,79.1 L580.7,79.2 L580.0,79.3 L579.2,79.4 L578.4,79.5 L577.7,79.6 L576.9,79.8 L576.2,79.9 L575.4,80.0 L574.7,80.1 L573.9,80.3 L573.1,80.4 L572.4,80.6 L571.6,80.7 L570.8,80.9 L570.0,81.0 L569.3,81.2 L568.5,81.4 L567.7,81.6 L566.9,81.8 L566.1,82.0 L565.4,82.2 L564.6,82.4 L563.8,82.6 L563.0,82.9 L562.2,83.1 L561.4,83.4 L560.6,83.7 L559.8,84.0 L559.1,84.3 L558.3,84.6 L557.5,85.0 L556.7,85.3 L555.9,85.7 L555.1,86.1 L554.3,86.5 L553.5,86.9 L552.7,87.4 L551.9,87.9 L551.1,88.4 L550.3,88.9 L549.5,89.5 L548.7,90.1 L547.9,90.7 L547.0,91.3 L546.2,92.0 L545.4,92.7 L544.6,93.5 L543.8,94.3 L543.0,95.1 L542.2,96.0 L541.4,96.9 L540.6,97.9 L539.8,98.9 L539.0,99.9 L538.2,101.0 L537.4,102.1 L536.5,103.3 L535.7,104.5 L534.9,105.8 L534.1,107.1 L533.3,108.5 L532.5,109.9 L531.7,111.3 L530.9,112.8 L530.1,114.4 L529.3,115.9 L528.5,117.5 L527.7,119.2 L526.9,120.9 L526.1,122.6 L525.2,124.3 L524.4,126.1 L523.6,127.9 L522.8,129.7 L522.0,131.6 L521.2,133.4 L520.4,135.2 L519.6,137.1 L518.8,139.0 L518.0,140.8 L517.2,142.7 L516.4,144.6 L515.6,146.4 L514.8,148.3 L514.1,150.1 L513.3,151.9 L512.5,153.7 L511.7,155.4 L510.9,157.1 L510.1,158.8 L509.3,160.5 L508.5,162.1 L507.7,163.7 L507.0,165.2 L506.2,166.8 L505.4,168.2 L504.6,169.7 L503.9,171.1 L503.1,172.4 L502.3,173.8 L501.5,175.0 L500.8,176.3 L500.0,177.5 L499.2,178.7 L498.5,179.8 L497.7,180.9 L496.9,181.9 L496.2,182.9 L495.4,183.9 L494.7,184.8 L493.9,185.8 L493.2,186.6 L492.4,187.5 L491.7,188.3 L490.9,189.0 L490.2,189.8 L489.5,190.5 L488.7,191.2 L488.0,191.9 L487.3,192.5 L486.5,193.1 L485.8,193.7 L485.1,194.3 L484.3,194.8 L483.6,195.3 L482.9,195.8 L482.2,196.3 L481.5,196.8 L480.8,197.2 L480.1,197.7 L479.4,198.1 L478.7,198.5 L478.0,198.9 L477.3,199.2 L476.6,199.6 L475.9,199.9 L475.2,200.2 L474.5,200.6 L473.8,200.9 L473.2,201.2 L472.5,201.4 L471.8,201.7 L471.2,202.0 L470.5,202.2 L469.8,202.5 L469.2,202.7 L468.5,203.0 L467.9,203.2 L467.2,203.4 L466.6,203.6 L465.9,203.8 L465.3,204.0 L464.7,204.2 L464.0,204.4 L463.4,204.6 L462.8,204.8 L462.2,204.9 L461.5,205.1 L460.9,205.3 L460.3,205.4 L459.7,205.6 L459.1,205.7 L458.5,205.9 L457.9,206.0 L457.3,206.2 L456.7,206.3 L456.2,206.4 L455.6,206.6 L455.0,206.7 L454.4,206.8 L453.9,206.9 L453.3,207.0 L452.7,207.2 L452.2,207.3 L451.6,207.4 L451.1,207.5 L450.6,207.6 L450.0,207.7 L449.5,207.8 L449.0,207.9 L448.4,208.0 L447.9,208.1 L447.4,208.2 L446.9,208.3 L446.4,208.4 L445.9,208.5 L445.4,208.6 L444.9,208.7 L444.4,208.8 L443.9,208.9 L443.4,208.9 L443.0,209.0 L442.5,209.1 L442.0,209.2 L441.6,209.3 L441.1,209.3 L440.6,209.4 L440.2,209.5 L439.8,209.6 L439.3,209.6 L438.9,209.7 L438.5,209.8 L438.0,209.8 L437.6,209.9 L437.2,210.0 L436.8,210.0 L436.4,210.1 L436.0,210.2 L435.6,210.2 L435.2,210.3 L434.8,210.4 L434.4,210.4 L434.1,210.5 L433.7,210.5 L433.3,210.6 L433.0,210.7 L432.6,210.7 L432.3,210.8 L431.9,210.8 L431.6,210.9 L431.2,210.9 L430.9,211.0 L430.6,211.0 L430.3,211.1 L429.9,211.1 L429.6,211.2 L429.3,211.2 L429.0,211.3 L428.7,211.3 L428.5,211.3 L428.2,211.4 L427.9,211.4 L427.6,211.5 L427.4,211.5 L427.1,211.5 L426.8,211.6 L426.6,211.6 L426.4,211.7 L426.1,211.7 L425.9,211.7 L425.6,211.8 L425.4,211.8 L425.2,211.8 L425.0,211.9 L424.8,211.9 L424.6,211.9 L424.4,212.0 L424.2,212.0 L424.0,212.0 L423.8,212.0 L423.7,212.1 L423.5,212.1 L423.3,212.1 L423.2,212.1 L423.0,212.2 L422.9,212.2 L422.7,212.2 L422.6,212.2 L422.5,212.2 L422.3,212.3 L422.2,212.3 L422.1,212.3 L422.0,212.3 L421.9,212.3 L421.8,212.3 L421.7,212.3 L421.6,212.4 L421.6,212.4 L421.5,212.4 L421.4,212.4 L421.4,212.4 L421.3,212.4 L421.2,212.4 L421.2,212.4 L421.2,212.4 L421.1,212.4 L421.1,212.4 L421.1,212.4 L421.1,212.4 L421.1,212.4 L421.0,212.4 L421.0,212.4 L421.1,212.4 L421.1,212.4 L421.1,212.4 L421.1,212.4 L421.1,212.4 L421.2,212.4 L421.2,212.4 L421.2,212.4 L421.3,212.4 L421.4,212.4 L421.4,212.4 L421.5,212.4 L421.6,212.4 L421.6,212.4 L421.7,212.4 L421.8,212.4 L421.9,212.4 L422.0,212.4 L422.1,212.4 L422.2,212.3 L422.3,212.3 L422.5,212.3 L422.6,212.3 L422.7,212.3 L422.9,212.3 L423.0,212.3 L423.2,212.3 L423.3,212.2 L423.5,212.2 L423.7,212.2 L423.8,212.2 L424.0,212.2 L424.2,212.2 L424.4,212.1 L424.6,212.1 L424.8,212.1 L425.0,212.1 L425.2,212.1 L425.4,212.1 L425.6,212.0 L425.9,212.0 L426.1,212.0 L426.4,212.0 L426.6,212.0 L426.8,211.9 L427.1,211.9 L427.4,211.9 L427.6,211.9 L427.9,211.8 L428.2,211.8 L428.5,211.8 L428.7,211.8 L429.0,211.7 L429.3,211.7 L429.6,211.7 L429.9,211.7 L430.3,211.6 L430.6,211.6 L430.9,211.6 L431.2,211.5 L431.6,211.5 L431.9,211.5 L432.3,211.4 L432.6,211.4 L433.0,211.4 L433.3,211.3 L433.7,211.3 L434.1,211.3 L434.4,211.3 L434.8,211.2 L435.2,211.2 L435.6,211.1 L436.0,211.1 L436.4,211.1 L436.8,211.0 L437.2,211.0 L437.6,211.0 L438.0,210.9 L438.5,210.9 L438.9,210.9 L439.3,210.8 L439.8,210.8 L440.2,210.7 L440.6,210.7 L441.1,210.7 L441.6,210.6 L442.0,210.6 L442.5,210.5 L443.0,210.5 L443.4,210.4 L443.9,210.4 L444.4,210.4 L444.9,210.3 L445.4,210.3 L445.9,210.2 L446.4,210.2 L446.9,210.1 L447.4,210.1 L447.9,210.0 L448.4,210.0 L449.0,209.9 L449.5,209.9 L450.0,209.9 L450.6,209.8 L451.1,209.8 L451.6,209.7 L452.2,209.7 L452.7,209.6 L453.3,209.6 L453.9,209.5 L454.4,209.5 L455.0,209.4 L455.6,209.3 L456.2,209.3 L456.7,209.2 L457.3,209.2 L457.9,209.1 L458.5,209.1 L459.1,209.0 L459.7,209.0 L460.3,208.9 L460.9,208.9 L461.5,208.8 L462.2,208.8 L462.8,208.7 L463.4,208.6 L464.0,208.6 L464.7,208.5 L465.3,208.5 L465.9,208.4 L466.6,208.3 L467.2,208.3 L467.9,208.2 L468.5,208.2 L469.2,208.1 L469.8,208.0 L470.5,208.0 L471.2,207.9 L471.8,207.9 L472.5,207.8 L473.2,207.7 L473.8,207.7 L474.5,207.6 L475.2,207.5 L475.9,207.5 L476.6,207.4 L477.3,207.3 L478.0,207.3 L478.7,207.2 L479.4,207.1 L480.1,207.1 L480.8,207.0 L481.5,206.9 L482.2,206.9 L482.9,206.8 L483.6,206.7 L484.3,206.6 L485.1,206.6 L485.8,206.5 L486.5,206.4 L487.3,206.3 L488.0,206.3 L488.7,206.2 L489.5,206.1 L490.2,206.0 L490.9,205.9 L491.7,205.8 L492.4,205.8 L493.2,205.7 L493.9,205.6 L494.7,205.5 L495.4,205.4 L496.2,205.3 L496.9,205.2 L497.7,205.1 L498.5,205.0 L499.2,204.9 L500.0,204.8 L500.8,204.7 L501.5,204.6 L502.3,204.5 L503.1,204.4 L503.9,204.3 L504.6,204.1 L505.4,204.0 L506.2,203.9 L507.0,203.7 L507.7,203.6 L508.5,203.5 L509.3,203.3 L510.1,203.2 L510.9,203.0 L511.7,202.8 L512.5,202.7 L513.3,202.5 L514.1,202.3 L514.8,202.1 L515.6,201.9 L516.4,201.7 L517.2,201.5 L518.0,201.2 L518.8,201.0 L519.6,200.7 L520.4,200.5 L521.2,200.2 L522.0,199.9 L522.8,199.6 L523.6,199.3 L524.4,198.9 L525.2,198.6 L526.1,198.2 L526.9,197.8 L527.7,197.4 L528.5,197.0 L529.3,196.5 L530.1,196.0 L530.9,195.5 L531.7,195.0 L532.5,194.4 L533.3,193.9 L534.1,193.2 L534.9,192.6 L535.7,191.9 L536.5,191.2 L537.4,190.4 L538.2,189.6 L539.0,188.8 L539.8,187.9 L540.6,187.0 L541.4,186.0 L542.2,185.0 L543.0,184.0 L543.8,182.9 L544.6,181.7 L545.4,180.5 L546.2,179.2 L547.0,177.9 L547.9,176.6 L548.7,175.2 L549.5,173.7 L550.3,172.2 L551.1,170.7 L551.9,169.1 L552.7,167.4 L553.5,165.7 L554.3,164.0 L555.1,162.2 L555.9,160.3 L556.7,158.5 L557.5,156.6 L558.3,154.6 L559.1,152.7 L559.8,150.7 L560.6,148.7 L561.4,146.6 L562.2,144.6 L563.0,142.5 L563.8,140.5 L564.6,138.4 L565.4,136.8 L566.1,135.1 L566.9,133.5 L567.7,131.9 L568.5,130.3 L569.3,128.7 L570.0,127.1 L570.8,125.6 L571.6,124.0 L572.4,122.5 L573.1,121.0 L573.9,119.6 L574.7,118.1 L575.4,116.7 L576.2,115.4 L576.9,114.0 L577.7,112.7 L578.4,111.4 L579.2,110.2 L580.0,109.0 L580.7,107.8 L581.4,106.6 L582.2,105.5 L582.9,104.5 L583.7,103.4 L584.4,102.4 L585.1,101.4 L585.9,100.5 L586.6,99.6 L587.3,98.7 L588.1,97.8 L588.8,97.0 L589.5,96.2 L590.2,95.4 L590.9,94.7 L591.7,94.0 L592.4,93.3 L593.1,92.6 L593.8,92.0 L594.5,91.4 L595.2,90.8 L595.9,90.2 L596.6,89.7 L597.3,89.1 L598.0,88.6 L598.6,88.1 L599.3,87.7 L600.0,87.2 L600.7,86.8 L601.3,86.4 L602.0,86.0 L602.7,85.6 L603.3,85.2 L604.0,84.8 L604.7,84.5 L605.3,84.1 L606.0,83.8 L606.6,83.5 L607.3,83.2 L607.9,82.9 L608.5,82.6 L609.2,82.3 L609.8,82.1 L610.4,81.8 L611.0,81.6 L611.7,81.3 L612.3,81.1 L612.9,80.9 L613.5,80.7 L614.1,80.5 L614.7,80.2 L615.3,80.0 L615.9,79.9 L616.5,79.7 L617.1,79.5 L617.6,79.3 L618.2,79.1 L618.8,79.0 L619.3,78.8 L619.9,78.7 L620.5,78.5 L621.0,78.3 L621.6,78.2 L622.1,78.1 L622.7,77.9 L623.2,77.8 L623.7,77.7 L624.3,77.5 L624.8,77.4 L625.3,77.3 L625.8,77.2 L626.4,77.0 L626.9,76.9 L627.4,76.8 L627.9,76.7 L628.4,76.6 L628.9,76.5 L629.3,76.4 L629.8,76.3 L630.3,76.2 L630.8,76.1 L631.3,76.0 L631.7,75.9 L632.2,75.8 L632.6,75.7 L633.1,75.6 L633.5,75.5 L634.0,75.4 L634.4,75.4 L634.8,75.3 L635.3,75.2 L635.7,75.1 L636.1,75.0 L636.5,75.0 L636.9,74.9 L637.3,74.8 L637.7,74.7 L638.1,74.7 L638.5,74.6 L638.9,74.5 L639.3,74.5 L639.6,74.4 L640.0,74.3 L640.4,74.3 L640.7,74.2 L641.1,74.2 L641.4,74.1 L641.8,74.0 L642.1,74.0 L642.4,73.9 L642.8,73.9 L643.1,73.8 L643.4,73.8 L643.7,73.7 L644.0,73.7 L644.3,73.6 L644.6,73.6 L644.9,73.5 L645.2,73.5 L645.5,73.4 L645.7,73.4 L646.0,73.3 L646.3,73.3 L646.5,73.2 L646.8,73.2 L647.0,73.2 L647.3,73.1 L647.5,73.1 L647.7,73.1 L648.0,73.0 L648.2,73.0 L648.4,72.9 L648.6,72.9 L648.8,72.9 L649.0,72.8 L649.2,72.8 L649.4,72.8 L649.6,72.8 L649.7,72.7 L649.9,72.7 L650.1,72.7 L650.2,72.7 L650.4,72.6 L650.5,72.6 L650.7,72.6 L650.8,72.6 L651.0,72.5 L651.1,72.5 L651.2,72.5 L651.3,72.5 L651.4,72.5 L651.5,72.5 L651.6,72.4 L651.7,72.4 L651.8,72.4 L651.9,72.4 L652.0,72.4 L652.0,72.4 L652.1,72.4 L652.2,72.4 L652.2,72.3 L652.3,72.3 L652.3,72.3 L652.4,72.3 L652.4,72.3 L652.4,72.3 L652.4,72.3 L652.4,72.3 L652.5,72.3 L652.5,72.3Z" fill="none" stroke="#ff1010" stroke-width="1.5" stroke-linejoin="round"/>
<path d="M652.5,49.3 L652.5,49.3 L652.4,49.3 L652.4,49.3 L652.4,49.3 L652.4,49.3 L652.4,49.3 L652.3,49.3 L652.3,49.3 L652.2,49.3 L652.2,49.3 L652.1,49.3 L652.0,49.3 L652.0,49.3 L651.9,49.3 L651.8,49.3 L651.7,49.3 L651.6,49.3 L651.5,49.3 L651.4,49.4 L651.3,49.4 L651.2,49.4 L651.1,49.4 L651.0,49.4 L650.8,49.4 L650.7,49.4 L650.5,49.4 L650.4,49.4 L650.2,49.5 L650.1,49.5 L649.9,49.5 L649.7,49.5 L649.6,49.5 L649.4,49.5 L649.2,49.5 L649.0,49.6 L648.8,49.6 L648.6,49.6 L648.4,49.6 L648.2,49.6 L648.0,49.6 L647.7,49.7 L647.5,49.7 L647.3,49.7 L647.0,49.7 L646.8,49.7 L646.5,49.8 L646.3,49.8 L646.0,49.8 L645.7,49.8 L645.5,49.8 L645.2,49.9 L644.9,49.9 L644.6,49.9 L644.3,49.9 L644.0,50.0 L643.7,50.0 L643.4,50.0 L643.1,50.0 L642.8,50.1 L642.4,50.1 L642.1,50.1 L641.8,50.2 L641.4,50.2 L641.1,50.2 L640.7,50.2 L640.4,50.3 L640.0,50.3 L639.6,50.3 L639.3,50.4 L638.9,50.4 L638.5,50.4 L638.1,50.5 L637.7,50.5 L637.3,50.5 L636.9,50.6 L636.5,50.6 L636.1,50.6 L635.7,50.7 L635.3,50.7 L634.8,50.7 L634.4,50.8 L634.0,50.8 L633.5,50.8 L633.1,50.9 L632.6,50.9 L632.2,51.0 L631.7,51.0 L631.3,51.0 L630.8,51.1 L630.3,51.1 L629.8,51.2 L629.3,51.2 L628.9,51.2 L628.4,51.3 L627.9,51.3 L627.4,51.4 L626.9,51.4 L626.4,51.4 L625.8,51.5 L625.3,51.5 L624.8,51.6 L624.3,51.6 L623.7,51.7 L623.2,51.7 L622.7,51.8 L622.1,51.8 L621.6,51.9 L621.0,51.9 L620.5,51.9 L619.9,52.0 L619.3,52.0 L618.8,52.1 L618.2,52.1 L617.6,52.2 L617.1,52.2 L616.5,52.3 L615.9,52.4 L615.3,52.4 L614.7,52.5 L614.1,52.5 L613.5,52.6 L612.9,52.6 L612.3,52.7 L611.7,52.7 L611.0,52.8 L610.4,52.8 L609.8,52.9 L609.2,53.0 L608.5,53.0 L607.9,53.1 L607.3,53.1 L606.6,53.2 L606.0,53.3 L605.3,53.3 L604.7,53.4 L604.0,53.4 L603.3,53.5 L602.7,53.6 L602.0,53.6 L601.3,53.7 L600.7,53.8 L600.0,53.9 L599.3,53.9 L598.6,54.0 L598.0,54.1 L597.3,54.1 L596.6,54.2 L595.9,54.3 L595.2,54.4 L594.5,54.4 L593.8,54.5 L593.1,54.6 L592.4,54.7 L591.7,54.8 L590.9,54.9 L590.2,55.0 L589.5,55.1 L588.8,55.1 L588.1,55.2 L587.3,55.3 L586.6,55.4 L585.9,55.5 L585.1,55.7 L584.4,55.8 L583.7,55.9 L582.9,56.0 L582.2,56.1 L581.4,56.2 L580.7,56.4 L580.0,56.5 L579.2,56.6 L578.4,56.8 L577.7,56.9 L576.9,57.1 L576.2,57.2 L575.4,57.4 L574.7,57.6 L573.9,57.7 L573.1,57.9 L572.4,58.1 L571.6,58.3 L570.8,58.5 L570.0,58.7 L569.3,59.0 L568.5,59.2 L567.7,59.4 L566.9,59.7 L566.1,60.0 L565.4,60.2 L564.6,60.5 L563.8,60.8 L563.0,61.2 L562.2,61.5 L561.4,61.8 L560.6,62.2 L559.8,62.6 L559.1,63.0 L558.3,63.4 L557.5,63.9 L556.7,64.4 L555.9,64.8 L555.1,65.4 L554.3,65.9 L553.5,66.5 L552.7,67.1 L551.9,67.7 L551.1,68.4 L550.3,69.1 L549.5,69.8 L548.7,70.6 L547.9,71.4 L547.0,72.2 L546.2,73.1 L545.4,74.0 L544.6,75.0 L543.8,76.0 L543.0,77.1 L542.2,78.2 L541.4,79.4 L540.6,80.6 L539.8,81.9 L539.0,83.2 L538.2,84.6 L537.4,86.0 L536.5,87.5 L535.7,89.0 L534.9,90.6 L534.1,92.3 L533.3,94.0 L532.5,95.8 L531.7,97.7 L530.9,99.6 L530.1,101.5 L529.3,103.5 L528.5,105.6 L527.7,107.7 L526.9,109.9 L526.1,112.1 L525.2,114.4 L524.4,116.7 L523.6,119.1 L522.8,121.5 L522.0,123.9 L521.2,126.4 L520.4,128.9 L519.6,131.4 L518.8,133.9 L518.0,136.5 L517.2,139.0 L516.4,141.6 L515.6,143.9 L514.8,146.0 L514.1,148.0 L513.3,150.1 L512.5,152.1 L511.7,154.1 L510.9,156.1 L510.1,158.1 L509.3,160.1 L508.5,162.0 L507.7,163.9 L507.0,165.8 L506.2,167.7 L505.4,169.6 L504.6,171.4 L503.9,173.2 L503.1,175.0 L502.3,176.8 L501.5,178.5 L500.8,180.2 L500.0,181.8 L499.2,183.5 L498.5,185.1 L497.7,186.6 L496.9,188.2 L496.2,189.7 L495.4,191.1 L494.7,192.5 L493.9,193.9 L493.2,195.3 L492.4,196.6 L491.7,197.9 L490.9,199.2 L490.2,200.4 L489.5,201.6 L488.7,202.7 L488.0,203.9 L487.3,205.0 L486.5,206.0 L485.8,207.1 L485.1,208.1 L484.3,209.0 L483.6,210.0 L482.9,210.9 L482.2,211.8 L481.5,212.6 L480.8,213.5 L480.1,214.3 L479.4,215.0 L478.7,215.8 L478.0,216.5 L477.3,217.2 L476.6,217.9 L475.9,218.6 L475.2,219.2 L474.5,219.8 L473.8,220.4 L473.2,221.0 L472.5,221.6 L471.8,222.1 L471.2,222.6 L470.5,223.1 L469.8,223.6 L469.2,224.1 L468.5,224.5 L467.9,225.0 L467.2,225.4 L466.6,225.8 L465.9,226.2 L465.3,226.6 L464.7,226.9 L464.0,227.3 L463.4,227.6 L462.8,228.0 L462.2,228.3 L461.5,228.6 L460.9,228.9 L460.3,229.2 L459.7,229.4 L459.1,229.7 L458.5,230.0 L457.9,230.2 L457.3,230.5 L456.7,230.7 L456.2,230.9 L455.6,231.1 L455.0,231.3 L454.4,231.6 L453.9,231.7 L453.3,231.9 L452.7,232.1 L452.2,232.3 L451.6,232.5 L451.1,232.6 L450.6,232.8 L450.0,233.0 L449.5,233.1 L449.0,233.3 L448.4,233.4 L447.9,233.5 L447.4,233.7 L446.9,233.8 L446.4,233.9 L445.9,234.0 L445.4,234.1 L444.9,234.3 L444.4,234.4 L443.9,234.5 L443.4,234.6 L443.0,234.7 L442.5,234.8 L442.0,234.9 L441.6,235.0 L441.1,235.0 L440.6,235.1 L440.2,235.2 L439.8,235.3 L439.3,235.4 L438.9,235.4 L438.5,235.5 L438.0,235.6 L437.6,235.7 L437.2,235.7 L436.8,235.8 L436.4,235.8 L436.0,235.9 L435.6,236.0 L435.2,236.0 L434.8,236.1 L434.4,236.1 L434.1,236.2 L433.7,236.2 L433.3,236.3 L433.0,236.3 L432.6,236.4 L432.3,236.4 L431.9,236.5 L431.6,236.5 L431.2,236.6 L430.9,236.6 L430.6,236.6 L430.3,236.7 L429.9,236.7 L429.6,236.7 L429.3,236.8 L429.0,236.8 L428.7,236.8 L428.5,236.9 L428.2,236.9 L427.9,236.9 L427.6,237.0 L427.4,237.0 L427.1,237.0 L426.8,237.0 L426.6,237.1 L426.4,237.1 L426.1,237.1 L425.9,237.1 L425.6,237.2 L425.4,237.2 L425.2,237.2 L425.0,237.2 L424.8,237.2 L424.6,237.3 L424.4,237.3 L424.2,237.3 L424.0,237.3 L423.8,237.3 L423.7,237.3 L423.5,237.4 L423.3,237.4 L423.2,237.4 L423.0,237.4 L422.9,237.4 L422.7,237.4 L422.6,237.4 L422.5,237.5 L422.3,237.5 L422.2,237.5 L422.1,237.5 L422.0,237.5 L421.9,237.5 L421.8,237.5 L421.7,237.5 L421.6,237.5 L421.6,237.5 L421.5,237.5 L421.4,237.5 L421.4,237.5 L421.3,237.6 L421.2,237.6 L421.2,237.6 L421.2,237.6 L421.1,237.6 L421.1,237.6 L421.1,237.6 L421.1,237.6 L421.1,237.6 L421.0,237.6 L421.0,237.6 L421.1,237.6 L421.1,237.6 L421.1,237.6 L421.1,237.6 L421.1,237.6 L421.2,237.6 L421.2,237.6 L421.2,237.6 L421.3,237.6 L421.4,237.5 L421.4,237.5 L421.5,237.5 L421.6,237.5 L421.6,237.5 L421.7,237.5 L421.8,237.5 L421.9,237.5 L422.0,237.5 L422.1,237.5 L422.2,237.5 L422.3,237.5 L422.5,237.5 L422.6,237.4 L422.7,237.4 L422.9,237.4 L423.0,237.4 L423.2,237.4 L423.3,237.4 L423.5,237.4 L423.7,237.4 L423.8,237.3 L424.0,237.3 L424.2,237.3 L424.4,237.3 L424.6,237.3 L424.8,237.3 L425.0,237.3 L425.2,237.2 L425.4,237.2 L425.6,237.2 L425.9,237.2 L426.1,237.2 L426.4,237.1 L426.6,237.1 L426.8,237.1 L427.1,237.1 L427.4,237.1 L427.6,237.0 L427.9,237.0 L428.2,237.0 L428.5,237.0 L428.7,236.9 L429.0,236.9 L429.3,236.9 L429.6,236.9 L429.9,236.8 L430.3,236.8 L430.6,236.8 L430.9,236.8 L431.2,236.7 L431.6,236.7 L431.9,236.7 L432.3,236.7 L432.6,236.6 L433.0,236.6 L433.3,236.6 L433.7,236.5 L434.1,236.5 L434.4,236.5 L434.8,236.4 L435.2,236.4 L435.6,236.4 L436.0,236.3 L436.4,236.3 L436.8,236.3 L437.2,236.2 L437.6,236.2 L438.0,236.2 L438.5,236.1 L438.9,236.1 L439.3,236.1 L439.8,236.0 L440.2,236.0 L440.6,236.0 L441.1,235.9 L441.6,235.9 L442.0,235.8 L442.5,235.8 L443.0,235.8 L443.4,235.7 L443.9,235.7 L444.4,235.7 L444.9,235.6 L445.4,235.6 L445.9,235.5 L446.4,235.5 L446.9,235.4 L447.4,235.4 L447.9,235.4 L448.4,235.3 L449.0,235.3 L449.5,235.2 L450.0,235.2 L450.6,235.1 L451.1,235.1 L451.6,235.0 L452.2,235.0 L452.7,234.9 L453.3,234.9 L453.9,234.9 L454.4,234.8 L455.0,234.8 L455.6,234.7 L456.2,234.7 L456.7,234.6 L457.3,234.6 L457.9,234.5 L458.5,234.5 L459.1,234.4 L459.7,234.4 L460.3,234.3 L460.9,234.2 L461.5,234.2 L462.2,234.1 L462.8,234.1 L463.4,234.0 L464.0,234.0 L464.7,233.9 L465.3,233.9 L465.9,233.8 L466.6,233.7 L467.2,233.7 L467.9,233.6 L468.5,233.6 L469.2,233.5 L469.8,233.4 L470.5,233.4 L471.2,233.3 L471.8,233.3 L472.5,233.2 L473.2,233.1 L473.8,233.1 L474.5,233.0 L475.2,232.9 L475.9,232.9 L476.6,232.8 L477.3,232.7 L478.0,232.6 L478.7,232.6 L479.4,232.5 L480.1,232.4 L480.8,232.3 L481.5,232.3 L482.2,232.2 L482.9,232.1 L483.6,232.0 L484.3,231.9 L485.1,231.9 L485.8,231.8 L486.5,231.7 L487.3,231.6 L488.0,231.5 L488.7,231.4 L489.5,231.3 L490.2,231.2 L490.9,231.1 L491.7,231.0 L492.4,230.9 L493.2,230.8 L493.9,230.7 L494.7,230.5 L495.4,230.4 L496.2,230.3 L496.9,230.2 L497.7,230.0 L498.5,229.9 L499.2,229.7 L500.0,229.6 L500.8,229.4 L501.5,229.3 L502.3,229.1 L503.1,228.9 L503.9,228.8 L504.6,228.6 L505.4,228.4 L506.2,228.2 L507.0,228.0 L507.7,227.7 L508.5,227.5 L509.3,227.3 L510.1,227.0 L510.9,226.8 L511.7,226.5 L512.5,226.2 L513.3,225.9 L514.1,225.6 L514.8,225.3 L515.6,224.9 L516.4,224.5 L517.2,224.2 L518.0,223.8 L518.8,223.3 L519.6,222.9 L520.4,222.4 L521.2,221.9 L522.0,221.4 L522.8,220.9 L523.6,220.3 L524.4,219.7 L525.2,219.1 L526.1,218.5 L526.9,217.8 L527.7,217.0 L528.5,216.3 L529.3,215.5 L530.1,214.6 L530.9,213.8 L531.7,212.8 L532.5,211.9 L533.3,210.8 L534.1,209.8 L534.9,208.7 L535.7,207.5 L536.5,206.3 L537.4,205.0 L538.2,203.7 L539.0,202.3 L539.8,200.8 L540.6,199.3 L541.4,197.7 L542.2,196.1 L543.0,194.4 L543.8,192.6 L544.6,190.8 L545.4,188.9 L546.2,186.9 L547.0,184.9 L547.9,182.8 L548.7,180.6 L549.5,178.4 L550.3,176.1 L551.1,173.7 L551.9,171.3 L552.7,168.9 L553.5,166.4 L554.3,163.8 L555.1,161.2 L555.9,158.5 L556.7,155.9 L557.5,153.1 L558.3,150.4 L559.1,147.6 L559.8,144.8 L560.6,142.0 L561.4,139.1 L562.2,136.3 L563.0,133.4 L563.8,131.5 L564.6,129.7 L565.4,127.9 L566.1,126.1 L566.9,124.3 L567.7,122.6 L568.5,120.8 L569.3,119.1 L570.0,117.4 L570.8,115.6 L571.6,114.0 L572.4,112.3 L573.1,110.6 L573.9,109.0 L574.7,107.4 L575.4,105.8 L576.2,104.3 L576.9,102.8 L577.7,101.3 L578.4,99.8 L579.2,98.3 L580.0,96.9 L580.7,95.5 L581.4,94.2 L582.2,92.8 L582.9,91.5 L583.7,90.3 L584.4,89.0 L585.1,87.8 L585.9,86.6 L586.6,85.5 L587.3,84.3 L588.1,83.2 L588.8,82.2 L589.5,81.1 L590.2,80.1 L590.9,79.1 L591.7,78.2 L592.4,77.3 L593.1,76.4 L593.8,75.5 L594.5,74.6 L595.2,73.8 L595.9,73.0 L596.6,72.2 L597.3,71.5 L598.0,70.8 L598.6,70.1 L599.3,69.4 L600.0,68.7 L600.7,68.1 L601.3,67.5 L602.0,66.9 L602.7,66.3 L603.3,65.7 L604.0,65.2 L604.7,64.6 L605.3,64.1 L606.0,63.6 L606.6,63.2 L607.3,62.7 L607.9,62.3 L608.5,61.8 L609.2,61.4 L609.8,61.0 L610.4,60.6 L611.0,60.3 L611.7,59.9 L612.3,59.5 L612.9,59.2 L613.5,58.9 L614.1,58.6 L614.7,58.3 L615.3,58.0 L615.9,57.7 L616.5,57.4 L617.1,57.1 L617.6,56.9 L618.2,56.6 L618.8,56.4 L619.3,56.1 L619.9,55.9 L620.5,55.7 L621.0,55.5 L621.6,55.3 L622.1,55.1 L622.7,54.9 L623.2,54.7 L623.7,54.5 L624.3,54.4 L624.8,54.2 L625.3,54.0 L625.8,53.9 L626.4,53.7 L626.9,53.6 L627.4,53.4 L627.9,53.3 L628.4,53.2 L628.9,53.0 L629.3,52.9 L629.8,52.8 L630.3,52.7 L630.8,52.6 L631.3,52.5 L631.7,52.3 L632.2,52.2 L632.6,52.1 L633.1,52.0 L633.5,51.9 L634.0,51.9 L634.4,51.8 L634.8,51.7 L635.3,51.6 L635.7,51.5 L636.1,51.4 L636.5,51.4 L636.9,51.3 L637.3,51.2 L637.7,51.2 L638.1,51.1 L638.5,51.0 L638.9,51.0 L639.3,50.9 L639.6,50.8 L640.0,50.8 L640.4,50.7 L640.7,50.7 L641.1,50.6 L641.4,50.6 L641.8,50.5 L642.1,50.5 L642.4,50.4 L642.8,50.4 L643.1,50.3 L643.4,50.3 L643.7,50.2 L644.0,50.2 L644.3,50.2 L644.6,50.1 L644.9,50.1 L645.2,50.1 L645.5,50.0 L645.7,50.0 L646.0,50.0 L646.3,49.9 L646.5,49.9 L646.8,49.9 L647.0,49.8 L647.3,49.8 L647.5,49.8 L647.7,49.8 L648.0,49.7 L648.2,49.7 L648.4,49.7 L648.6,49.7 L648.8,49.6 L649.0,49.6 L649.2,49.6 L649.4,49.6 L649.6,49.6 L649.7,49.5 L649.9,49.5 L650.1,49.5 L650.2,49.5 L650.4,49.5 L650.5,49.5 L650.7,49.4 L650.8,49.4 L651.0,49.4 L651.1,49.4 L651.2,49.4 L651.3,49.4 L651.4,49.4 L651.5,49.4 L651.6,49.3 L651.7,49.3 L651.8,49.3 L651.9,49.3 L652.0,49.3 L652.0,49.3 L652.1,49.3 L652.2,49.3 L652.2,49.3 L652.3,49.3 L652.3,49.3 L652.4,49.3 L652.4,49.3 L652.4,49.3 L652.4,49.3 L652.4,49.3 L652.5,49.3 L652.5,49.3Z" fill="none" stroke="#10ff10" stroke-width="1.5" stroke-linejoin="round"/>
<path d="M652.5,34.6 L652.5,34.6 L652.4,34.6 L652.4,34.6 L652.4,34.6 L652.4,34.6 L652.4,34.6 L652.3,34.6 L652.3,34.6 L652.2,34.6 L652.2,34.6 L652.1,34.6 L652.0,34.6 L652.0,34.6 L651.9,34.6 L651.8,34.6 L651.7,34.6 L651.6,34.7 L651.5,34.7 L651.4,34.7 L651.3,34.7 L651.2,34.7 L651.1,34.7 L651.0,34.7 L650.8,34.7 L650.7,34.7 L650.5,34.7 L650.4,34.8 L650.2,34.8 L650.1,34.8 L649.9,34.8 L649.7,34.8 L649.6,34.8 L649.4,34.9 L649.2,34.9 L649.0,34.9 L648.8,34.9 L648.6,34.9 L648.4,34.9 L648.2,35.0 L648.0,35.0 L647.7,35.0 L647.5,35.0 L647.3,35.0 L647.0,35.1 L646.8,35.1 L646.5,35.1 L646.3,35.1 L646.0,35.1 L645.7,35.2 L645.5,35.2 L645.2,35.2 L644.9,35.2 L644.6,35.3 L644.3,35.3 L644.0,35.3 L643.7,35.3 L643.4,35.4 L643.1,35.4 L642.8,35.4 L642.4,35.5 L642.1,35.5 L641.8,35.5 L641.4,35.5 L641.1,35.6 L640.7,35.6 L640.4,35.6 L640.0,35.7 L639.6,35.7 L639.3,35.7 L638.9,35.8 L638.5,35.8 L638.1,35.8 L637.7,35.9 L637.3,35.9 L636.9,35.9 L636.5,36.0 L636.1,36.0 L635.7,36.0 L635.3,36.1 L634.8,36.1 L634.4,36.2 L634.0,36.2 L633.5,36.2 L633.1,36.3 L632.6,36.3 L632.2,36.4 L631.7,36.4 L631.3,36.4 L630.8,36.5 L630.3,36.5 L629.8,36.6 L629.3,36.6 L628.9,36.7 L628.4,36.7 L627.9,36.7 L627.4,36.8 L626.9,36.8 L626.4,36.9 L625.8,36.9 L625.3,37.0 L624.8,37.0 L624.3,37.1 L623.7,37.1 L623.2,37.2 L622.7,37.2 L622.1,37.3 L621.6,37.3 L621.0,37.4 L620.5,37.4 L619.9,37.5 L619.3,37.5 L618.8,37.6 L618.2,37.6 L617.6,37.7 L617.1,37.7 L616.5,37.8 L615.9,37.9 L615.3,37.9 L614.7,38.0 L614.1,38.0 L613.5,38.1 L612.9,38.1 L612.3,38.2 L611.7,38.3 L611.0,38.3 L610.4,38.4 L609.8,38.5 L609.2,38.5 L608.5,38.6 L607.9,38.6 L607.3,38.7 L606.6,38.8 L606.0,38.8 L605.3,38.9 L604.7,39.0 L604.0,39.1 L603.3,39.1 L602.7,39.2 L602.0,39.3 L601.3,39.4 L600.7,39.4 L600.0,39.5 L599.3,39.6 L598.6,39.7 L598.0,39.8 L597.3,39.8 L596.6,39.9 L595.9,40.0 L595.2,40.1 L594.5,40.2 L593.8,40.3 L593.1,40.4 L592.4,40.5 L591.7,40.6 L590.9,40.7 L590.2,40.8 L589.5,40.9 L588.8,41.0 L588.1,41.1 L587.3,41.2 L586.6,41.3 L585.9,41.5 L585.1,41.6 L584.4,41.7 L583.7,41.8 L582.9,42.0 L582.2,42.1 L581.4,42.3 L580.7,42.4 L580.0,42.6 L579.2,42.7 L578.4,42.9 L577.7,43.1 L576.9,43.2 L576.2,43.4 L575.4,43.6 L574.7,43.8 L573.9,44.0 L573.1,44.2 L572.4,44.4 L571.6,44.7 L570.8,44.9 L570.0,45.1 L569.3,45.4 L568.5,45.7 L567.7,46.0 L566.9,46.2 L566.1,46.6 L565.4,46.9 L564.6,47.2 L563.8,47.5 L563.0,47.9 L562.2,48.3 L561.4,48.7 L560.6,49.1 L559.8,49.5 L559.1,50.0 L558.3,50.5 L557.5,50.9 L556.7,51.5 L555.9,52.0 L555.1,52.6 L554.3,53.2 L553.5,53.8 L552.7,54.4 L551.9,55.1 L551.1,55.8 L550.3,56.6 L549.5,57.4 L548.7,58.2 L547.9,59.0 L547.0,59.9 L546.2,60.8 L545.4,61.8 L544.6,62.8 L543.8,63.9 L543.0,65.0 L542.2,66.2 L541.4,67.4 L540.6,68.6 L539.8,69.9 L539.0,71.3 L538.2,72.7 L537.4,74.2 L536.5,75.7 L535.7,77.3 L534.9,79.0 L534.1,80.7 L533.3,82.4 L532.5,84.3 L531.7,86.2 L530.9,88.1 L530.1,90.1 L529.3,92.2 L528.5,94.3 L527.7,96.5 L526.9,98.8 L526.1,101.1 L525.2,103.5 L524.4,105.9 L523.6,108.4 L522.8,110.9 L522.0,113.5 L521.2,116.2 L520.4,118.8 L519.6,121.5 L518.8,124.3 L518.0,127.1 L517.2,129.9 L516.4,132.7 L515.6,135.6 L514.8,138.4 L514.1,141.3 L513.3,144.2 L512.5,147.1 L511.7,149.8 L510.9,151.9 L510.1,153.9 L509.3,155.9 L508.5,157.9 L507.7,159.9 L507.0,161.9 L506.2,163.8 L505.4,165.8 L504.6,167.7 L503.9,169.6 L503.1,171.6 L502.3,173.4 L501.5,175.3 L500.8,177.2 L500.0,179.0 L499.2,180.8 L498.5,182.6 L497.7,184.3 L496.9,186.0 L496.2,187.7 L495.4,189.4 L494.7,191.1 L493.9,192.7 L493.2,194.3 L492.4,195.8 L491.7,197.4 L490.9,198.9 L490.2,200.4 L489.5,201.8 L488.7,203.2 L488.0,204.6 L487.3,206.0 L486.5,207.3 L485.8,208.6 L485.1,209.9 L484.3,211.1 L483.6,212.3 L482.9,213.5 L482.2,214.6 L481.5,215.8 L480.8,216.9 L480.1,217.9 L479.4,219.0 L478.7,220.0 L478.0,221.0 L477.3,221.9 L476.6,222.9 L475.9,223.8 L475.2,224.7 L474.5,225.5 L473.8,226.4 L473.2,227.2 L472.5,228.0 L471.8,228.8 L471.2,229.5 L470.5,230.2 L469.8,230.9 L469.2,231.6 L468.5,232.3 L467.9,232.9 L467.2,233.6 L466.6,234.2 L465.9,234.8 L465.3,235.3 L464.7,235.9 L464.0,236.4 L463.4,237.0 L462.8,237.5 L462.2,238.0 L461.5,238.4 L460.9,238.9 L460.3,239.3 L459.7,239.8 L459.1,240.2 L458.5,240.6 L457.9,241.0 L457.3,241.4 L456.7,241.8 L456.2,242.1 L455.6,242.5 L455.0,242.8 L454.4,243.1 L453.9,243.5 L453.3,243.8 L452.7,244.1 L452.2,244.4 L451.6,244.6 L451.1,244.9 L450.6,245.2 L450.0,245.4 L449.5,245.7 L449.0,245.9 L448.4,246.2 L447.9,246.4 L447.4,246.6 L446.9,246.8 L446.4,247.0 L445.9,247.2 L445.4,247.4 L444.9,247.6 L444.4,247.8 L443.9,248.0 L443.4,248.1 L443.0,248.3 L442.5,248.5 L442.0,248.6 L441.6,248.8 L441.1,248.9 L440.6,249.0 L440.2,249.2 L439.8,249.3 L439.3,249.4 L438.9,249.6 L438.5,249.7 L438.0,249.8 L437.6,249.9 L437.2,250.0 L436.8,250.1 L436.4,250.3 L436.0,250.4 L435.6,250.5 L435.2,250.5 L434.8,250.6 L434.4,250.7 L434.1,250.8 L433.7,250.9 L433.3,251.0 L433.0,251.1 L432.6,251.1 L432.3,251.2 L431.9,251.3 L431.6,251.4 L431.2,251.4 L430.9,251.5 L430.6,251.6 L430.3,251.6 L429.9,251.7 L429.6,251.7 L429.3,251.8 L429.0,251.8 L428.7,251.9 L428.5,251.9 L428.2,252.0 L427.9,252.0 L427.6,252.1 L427.4,252.1 L427.1,252.2 L426.8,252.2 L426.6,252.3 L426.4,252.3 L426.1,252.3 L425.9,252.4 L425.6,252.4 L425.4,252.5 L425.2,252.5 L425.0,252.5 L424.8,252.5 L424.6,252.6 L424.4,252.6 L424.2,252.6 L424.0,252.7 L423.8,252.7 L423.7,252.7 L423.5,252.7 L423.3,252.8 L423.2,252.8 L423.0,252.8 L422.9,252.8 L422.7,252.8 L422.6,252.9 L422.5,252.9 L422.3,252.9 L422.2,252.9 L422.1,252.9 L422.0,252.9 L421.9,253.0 L421.8,253.0 L421.7,253.0 L421.6,253.0 L421.6,253.0 L421.5,253.0 L421.4,253.0 L421.4,253.0 L421.3,253.0 L421.2,253.0 L421.2,253.0 L421.2,253.0 L421.1,253.1 L421.1,253.1 L421.1,253.1 L421.1,253.1 L421.1,253.1 L421.0,253.1 L421.0,253.1 L421.1,253.1 L421.1,253.1 L421.1,253.1 L421.1,253.1 L421.1,253.1 L421.2,253.1 L421.2,253.0 L421.2,253.0 L421.3,253.0 L421.4,253.0 L421.4,253.0 L421.5,253.0 L421.6,253.0 L421.6,253.0 L421.7,253.0 L421.8,253.0 L421.9,253.0 L422.0,253.0 L422.1,253.0 L422.2,253.0 L422.3,252.9 L422.5,252.9 L422.6,252.9 L422.7,252.9 L422.9,252.9 L423.0,252.9 L423.2,252.9 L423.3,252.9 L423.5,252.9 L423.7,252.8 L423.8,252.8 L424.0,252.8 L424.2,252.8 L424.4,252.8 L424.6,252.8 L424.8,252.7 L425.0,252.7 L425.2,252.7 L425.4,252.7 L425.6,252.7 L425.9,252.6 L426.1,252.6 L426.4,252.6 L426.6,252.6 L426.8,252.6 L427.1,252.5 L427.4,252.5 L427.6,252.5 L427.9,252.5 L428.2,252.4 L428.5,252.4 L428.7,252.4 L429.0,252.4 L429.3,252.3 L429.6,252.3 L429.9,252.3 L430.3,252.3 L430.6,252.2 L430.9,252.2 L431.2,252.2 L431.6,252.2 L431.9,252.1 L432.3,252.1 L432.6,252.1 L433.0,252.0 L433.3,252.0 L433.7,252.0 L434.1,251.9 L434.4,251.9 L434.8,251.9 L435.2,251.8 L435.6,251.8 L436.0,251.8 L436.4,251.7 L436.8,251.7 L437.2,251.7 L437.6,251.6 L438.0,251.6 L438.5,251.5 L438.9,251.5 L439.3,251.5 L439.8,251.4 L440.2,251.4 L440.6,251.4 L441.1,251.3 L441.6,251.3 L442.0,251.2 L442.5,251.2 L443.0,251.1 L443.4,251.1 L443.9,251.1 L444.4,251.0 L444.9,251.0 L445.4,250.9 L445.9,250.9 L446.4,250.8 L446.9,250.8 L447.4,250.7 L447.9,250.7 L448.4,250.7 L449.0,250.6 L449.5,250.6 L450.0,250.5 L450.6,250.5 L451.1,250.4 L451.6,250.4 L452.2,250.3 L452.7,250.3 L453.3,250.2 L453.9,250.1 L454.4,250.1 L455.0,250.0 L455.6,250.0 L456.2,249.9 L456.7,249.9 L457.3,249.8 L457.9,249.8 L458.5,249.7 L459.1,249.6 L459.7,249.6 L460.3,249.5 L460.9,249.5 L461.5,249.4 L462.2,249.3 L462.8,249.3 L463.4,249.2 L464.0,249.1 L464.7,249.1 L465.3,249.0 L465.9,248.9 L466.6,248.9 L467.2,248.8 L467.9,248.7 L468.5,248.7 L469.2,248.6 L469.8,248.5 L470.5,248.4 L471.2,248.4 L471.8,248.3 L472.5,248.2 L473.2,248.1 L473.8,248.0 L474.5,247.9 L475.2,247.9 L475.9,247.8 L476.6,247.7 L477.3,247.6 L478.0,247.5 L478.7,247.4 L479.4,247.3 L480.1,247.2 L480.8,247.1 L481.5,247.0 L482.2,246.9 L482.9,246.8 L483.6,246.6 L484.3,246.5 L485.1,246.4 L485.8,246.3 L486.5,246.2 L487.3,246.0 L488.0,245.9 L488.7,245.7 L489.5,245.6 L490.2,245.5 L490.9,245.3 L491.7,245.1 L492.4,245.0 L493.2,244.8 L493.9,244.6 L494.7,244.4 L495.4,244.3 L496.2,244.1 L496.9,243.8 L497.7,243.6 L498.5,243.4 L499.2,243.2 L500.0,242.9 L500.8,242.7 L501.5,242.4 L502.3,242.2 L503.1,241.9 L503.9,241.6 L504.6,241.3 L505.4,241.0 L506.2,240.6 L507.0,240.3 L507.7,239.9 L508.5,239.5 L509.3,239.1 L510.1,238.7 L510.9,238.3 L511.7,237.8 L512.5,237.3 L513.3,236.8 L514.1,236.3 L514.8,235.8 L515.6,235.2 L516.4,234.6 L517.2,233.9 L518.0,233.3 L518.8,232.6 L519.6,231.9 L520.4,231.1 L521.2,230.3 L522.0,229.5 L522.8,228.6 L523.6,227.7 L524.4,226.8 L525.2,225.8 L526.1,224.8 L526.9,223.7 L527.7,222.6 L528.5,221.4 L529.3,220.1 L530.1,218.9 L530.9,217.5 L531.7,216.2 L532.5,214.7 L533.3,213.2 L534.1,211.6 L534.9,210.0 L535.7,208.3 L536.5,206.6 L537.4,204.8 L538.2,202.9 L539.0,201.0 L539.8,199.0 L540.6,196.9 L541.4,194.8 L542.2,192.6 L543.0,190.3 L543.8,188.0 L544.6,185.6 L545.4,183.2 L546.2,180.7 L547.0,178.2 L547.9,175.5 L548.7,172.9 L549.5,170.2 L550.3,167.4 L551.1,164.6 L551.9,161.8 L552.7,158.9 L553.5,156.0 L554.3,153.1 L555.1,150.1 L555.9,147.2 L556.7,144.2 L557.5,141.2 L558.3,138.2 L559.1,135.2 L559.8,133.2 L560.6,131.2 L561.4,129.3 L562.2,127.3 L563.0,125.4 L563.8,123.5 L564.6,121.6 L565.4,119.6 L566.1,117.8 L566.9,115.9 L567.7,114.0 L568.5,112.2 L569.3,110.4 L570.0,108.5 L570.8,106.8 L571.6,105.0 L572.4,103.3 L573.1,101.6 L573.9,99.9 L574.7,98.2 L575.4,96.6 L576.2,95.0 L576.9,93.4 L577.7,91.8 L578.4,90.3 L579.2,88.8 L580.0,87.3 L580.7,85.9 L581.4,84.5 L582.2,83.1 L582.9,81.7 L583.7,80.4 L584.4,79.1 L585.1,77.8 L585.9,76.6 L586.6,75.4 L587.3,74.2 L588.1,73.0 L588.8,71.9 L589.5,70.8 L590.2,69.7 L590.9,68.7 L591.7,67.7 L592.4,66.7 L593.1,65.7 L593.8,64.8 L594.5,63.8 L595.2,63.0 L595.9,62.1 L596.6,61.3 L597.3,60.4 L598.0,59.6 L598.6,58.9 L599.3,58.1 L600.0,57.4 L600.7,56.7 L601.3,56.0 L602.0,55.3 L602.7,54.7 L603.3,54.0 L604.0,53.4 L604.7,52.8 L605.3,52.3 L606.0,51.7 L606.6,51.2 L607.3,50.6 L607.9,50.1 L608.5,49.6 L609.2,49.2 L609.8,48.7 L610.4,48.3 L611.0,47.8 L611.7,47.4 L612.3,47.0 L612.9,46.6 L613.5,46.2 L614.1,45.8 L614.7,45.5 L615.3,45.1 L615.9,44.8 L616.5,44.5 L617.1,44.1 L617.6,43.8 L618.2,43.5 L618.8,43.2 L619.3,43.0 L619.9,42.7 L620.5,42.4 L621.0,42.2 L621.6,41.9 L622.1,41.7 L622.7,41.5 L623.2,41.2 L623.7,41.0 L624.3,40.8 L624.8,40.6 L625.3,40.4 L625.8,40.2 L626.4,40.0 L626.9,39.9 L627.4,39.7 L627.9,39.5 L628.4,39.3 L628.9,39.2 L629.3,39.0 L629.8,38.9 L630.3,38.7 L630.8,38.6 L631.3,38.5 L631.7,38.3 L632.2,38.2 L632.6,38.1 L633.1,38.0 L633.5,37.8 L634.0,37.7 L634.4,37.6 L634.8,37.5 L635.3,37.4 L635.7,37.3 L636.1,37.2 L636.5,37.1 L636.9,37.0 L637.3,36.9 L637.7,36.9 L638.1,36.8 L638.5,36.7 L638.9,36.6 L639.3,36.5 L639.6,36.5 L640.0,36.4 L640.4,36.3 L640.7,36.3 L641.1,36.2 L641.4,36.1 L641.8,36.1 L642.1,36.0 L642.4,36.0 L642.8,35.9 L643.1,35.8 L643.4,35.8 L643.7,35.7 L644.0,35.7 L644.3,35.6 L644.6,35.6 L644.9,35.6 L645.2,35.5 L645.5,35.5 L645.7,35.4 L646.0,35.4 L646.3,35.4 L646.5,35.3 L646.8,35.3 L647.0,35.2 L647.3,35.2 L647.5,35.2 L647.7,35.2 L648.0,35.1 L648.2,35.1 L648.4,35.1 L648.6,35.0 L648.8,35.0 L649.0,35.0 L649.2,35.0 L649.4,34.9 L649.6,34.9 L649.7,34.9 L649.9,34.9 L650.1,34.9 L650.2,34.8 L650.4,34.8 L650.5,34.8 L650.7,34.8 L650.8,34.8 L651.0,34.8 L651.1,34.7 L651.2,34.7 L651.3,34.7 L651.4,34.7 L651.5,34.7 L651.6,34.7 L651.7,34.7 L651.8,34.7 L651.9,34.6 L652.0,34.6 L652.0,34.6 L652.1,34.6 L652.2,34.6 L652.2,34.6 L652.3,34.6 L652.3,34.6 L652.4,34.6 L652.4,34.6 L652.4,34.6 L652.4,34.6 L652.4,34.6 L652.5,34.6 L652.5,34.6Z" fill="none" stroke="#cf2bff" stroke-width="1.5" stroke-linejoin="round"/>
</g>
<rect x="40.60" y="5.65" width="273.40" height="273.15" fill="none" stroke="#4a4a4a" stroke-width="1.3"/>
<line x1="40.60" y1="251.40" x2="44.20" y2="251.40" stroke="#4a4a4a" stroke-width="1.4"/>
<line x1="40.60" y1="224.09" x2="44.20" y2="224.09" stroke="#4a4a4a" stroke-width="1.4"/>
<line x1="40.60" y1="196.77" x2="44.20" y2="196.77" stroke="#4a4a4a" stroke-width="1.4"/>
<line x1="40.60" y1="169.46" x2="44.20" y2="169.46" stroke="#4a4a4a" stroke-width="1.4"/>
<line x1="40.60" y1="142.15" x2="44.20" y2="142.15" stroke="#4a4a4a" stroke-width="1.4"/>
<line x1="40.60" y1="114.84" x2="44.20" y2="114.84" stroke="#4a4a4a" stroke-width="1.4"/>
<line x1="40.60" y1="87.53" x2="44.20" y2="87.53" stroke="#4a4a4a" stroke-width="1.4"/>
<line x1="40.60" y1="60.21" x2="44.20" y2="60.21" stroke="#4a4a4a" stroke-width="1.4"/>
<line x1="40.60" y1="32.90" x2="44.20" y2="32.90" stroke="#4a4a4a" stroke-width="1.4"/>
<text x="36.20" y="282.21" text-anchor="end" class="tk">-1000</text>
<text x="36.20" y="254.90" text-anchor="end" class="tk">-800</text>
<text x="36.20" y="227.59" text-anchor="end" class="tk">-600</text>
<text x="36.20" y="200.27" text-anchor="end" class="tk">-400</text>
<text x="36.20" y="172.96" text-anchor="end" class="tk">-200</text>
<text x="36.20" y="145.65" text-anchor="end" class="tk">0</text>
<text x="36.20" y="118.34" text-anchor="end" class="tk">200</text>
<text x="36.20" y="91.03" text-anchor="end" class="tk">400</text>
<text x="36.20" y="63.71" text-anchor="end" class="tk">600</text>
<text x="36.20" y="36.40" text-anchor="end" class="tk">800</text>
<text x="36.20" y="9.09" text-anchor="end" class="tk">1000</text>
<line x1="67.50" y1="278.80" x2="67.50" y2="275.00" stroke="#4a4a4a" stroke-width="1.4"/>
<text x="67.50" y="292.6" text-anchor="middle" class="tk">-12</text>
<line x1="104.00" y1="278.80" x2="104.00" y2="275.00" stroke="#4a4a4a" stroke-width="1.4"/>
<text x="104.00" y="292.6" text-anchor="middle" class="tk">-8</text>
<line x1="140.50" y1="278.80" x2="140.50" y2="275.00" stroke="#4a4a4a" stroke-width="1.4"/>
<text x="140.50" y="292.6" text-anchor="middle" class="tk">-4</text>
<line x1="177.00" y1="278.80" x2="177.00" y2="275.00" stroke="#4a4a4a" stroke-width="1.4"/>
<text x="177.00" y="292.6" text-anchor="middle" class="tk">0</text>
<line x1="213.50" y1="278.80" x2="213.50" y2="275.00" stroke="#4a4a4a" stroke-width="1.4"/>
<text x="213.50" y="292.6" text-anchor="middle" class="tk">4</text>
<line x1="250.00" y1="278.80" x2="250.00" y2="275.00" stroke="#4a4a4a" stroke-width="1.4"/>
<text x="250.00" y="292.6" text-anchor="middle" class="tk">8</text>
<line x1="286.50" y1="278.80" x2="286.50" y2="275.00" stroke="#4a4a4a" stroke-width="1.4"/>
<text x="286.50" y="292.6" text-anchor="middle" class="tk">12</text>
<rect x="400.05" y="5.65" width="273.85" height="273.15" fill="none" stroke="#4a4a4a" stroke-width="1.3"/>
<line x1="400.05" y1="251.40" x2="403.65" y2="251.40" stroke="#4a4a4a" stroke-width="1.4"/>
<line x1="400.05" y1="224.09" x2="403.65" y2="224.09" stroke="#4a4a4a" stroke-width="1.4"/>
<line x1="400.05" y1="196.77" x2="403.65" y2="196.77" stroke="#4a4a4a" stroke-width="1.4"/>
<line x1="400.05" y1="169.46" x2="403.65" y2="169.46" stroke="#4a4a4a" stroke-width="1.4"/>
<line x1="400.05" y1="142.15" x2="403.65" y2="142.15" stroke="#4a4a4a" stroke-width="1.4"/>
<line x1="400.05" y1="114.84" x2="403.65" y2="114.84" stroke="#4a4a4a" stroke-width="1.4"/>
<line x1="400.05" y1="87.53" x2="403.65" y2="87.53" stroke="#4a4a4a" stroke-width="1.4"/>
<line x1="400.05" y1="60.21" x2="403.65" y2="60.21" stroke="#4a4a4a" stroke-width="1.4"/>
<line x1="400.05" y1="32.90" x2="403.65" y2="32.90" stroke="#4a4a4a" stroke-width="1.4"/>
<text x="395.60" y="282.21" text-anchor="end" class="tk">-1000</text>
<text x="395.60" y="254.90" text-anchor="end" class="tk">-800</text>
<text x="395.60" y="227.59" text-anchor="end" class="tk">-600</text>
<text x="395.60" y="200.27" text-anchor="end" class="tk">-400</text>
<text x="395.60" y="172.96" text-anchor="end" class="tk">-200</text>
<text x="395.60" y="145.65" text-anchor="end" class="tk">0</text>
<text x="395.60" y="118.34" text-anchor="end" class="tk">200</text>
<text x="395.60" y="91.03" text-anchor="end" class="tk">400</text>
<text x="395.60" y="63.71" text-anchor="end" class="tk">600</text>
<text x="395.60" y="36.40" text-anchor="end" class="tk">800</text>
<text x="395.60" y="9.09" text-anchor="end" class="tk">1000</text>
<text x="399.88" y="292.6" text-anchor="middle" class="tk">-0.15</text>
<line x1="445.50" y1="278.80" x2="445.50" y2="275.00" stroke="#4a4a4a" stroke-width="1.4"/>
<text x="445.50" y="292.6" text-anchor="middle" class="tk">-0.10</text>
<line x1="491.12" y1="278.80" x2="491.12" y2="275.00" stroke="#4a4a4a" stroke-width="1.4"/>
<text x="491.12" y="292.6" text-anchor="middle" class="tk">-0.05</text>
<line x1="536.75" y1="278.80" x2="536.75" y2="275.00" stroke="#4a4a4a" stroke-width="1.4"/>
<text x="536.75" y="292.6" text-anchor="middle" class="tk">0.00</text>
<line x1="582.38" y1="278.80" x2="582.38" y2="275.00" stroke="#4a4a4a" stroke-width="1.4"/>
<text x="582.38" y="292.6" text-anchor="middle" class="tk">0.05</text>
<line x1="628.00" y1="278.80" x2="628.00" y2="275.00" stroke="#4a4a4a" stroke-width="1.4"/>
<text x="628.00" y="292.6" text-anchor="middle" class="tk">0.10</text>
<text x="673.62" y="292.6" text-anchor="middle" class="tk">0.15</text>
<text x="177.4" y="306.9" text-anchor="middle" class="tk">Displacement (mm)</text>
<text x="536.7" y="308.3" text-anchor="middle" class="tk">Velocity (m/s)</text>
<text transform="translate(10.2,146.8) rotate(-90)" text-anchor="middle" class="tk">Damping force (N)</text>
<text transform="translate(369.0,142.4) rotate(-90)" text-anchor="middle" class="tk">Damping force (N)</text>
<text x="168.80" y="350.8" text-anchor="middle" class="sub" stroke="#111" stroke-width="0.35">a</text>
<path d="M162.50,337.3 Q155.90,344.9 162.50,352.5" fill="none" stroke="#111" stroke-width="1.7"/>
<path d="M175.80,337.3 Q182.40,344.9 175.80,352.5" fill="none" stroke="#111" stroke-width="1.7"/>
<text x="529.50" y="350.8" text-anchor="middle" class="sub" stroke="#111" stroke-width="0.35">b</text>
<path d="M522.90,337.3 Q516.20,344.9 522.90,352.5" fill="none" stroke="#111" stroke-width="1.7"/>
<path d="M536.10,337.3 Q542.80,344.9 536.10,352.5" fill="none" stroke="#111" stroke-width="1.7"/>
<text x="45.00" y="16.6" class="lg">Exp</text>
<text x="45.00" y="30.1" class="lg">Sim</text>
<line x1="64.30" y1="26.8" x2="88.60" y2="26.8" stroke="#000000" stroke-width="1.6"/>
<circle cx="76.45" cy="13.4" r="2.6" fill="url(#gk)"/>
<text x="91.30" y="16.6" class="lg">0A</text>
<text x="91.30" y="30.1" class="lg">0A</text>
<line x1="106.90" y1="26.8" x2="131.80" y2="26.8" stroke="#1010ff" stroke-width="1.6"/>
<circle cx="119.35" cy="13.4" r="2.6" fill="url(#gb)"/>
<text x="134.00" y="16.6" class="lg">0.25A</text>
<text x="134.00" y="30.1" class="lg">0.25A</text>
<line x1="163.00" y1="26.8" x2="187.90" y2="26.8" stroke="#ff1010" stroke-width="1.6"/>
<circle cx="175.45" cy="13.4" r="2.6" fill="url(#gr)"/>
<text x="190.60" y="16.6" class="lg">0.5A</text>
<text x="190.60" y="30.1" class="lg">0.5A</text>
<line x1="213.60" y1="26.8" x2="238.60" y2="26.8" stroke="#10ff10" stroke-width="1.6"/>
<circle cx="226.10" cy="13.4" r="2.6" fill="url(#gg)"/>
<text x="241.20" y="16.6" class="lg">0.75A</text>
<text x="241.20" y="30.1" class="lg">0.75A</text>
<line x1="269.80" y1="26.8" x2="295.00" y2="26.8" stroke="#cf2bff" stroke-width="1.6"/>
<circle cx="282.40" cy="13.4" r="2.6" fill="url(#gm)"/>
<text x="297.00" y="16.6" class="lg">1A</text>
<text x="297.00" y="30.1" class="lg">1A</text>
<text x="404.45" y="16.6" class="lg">Exp</text>
<text x="404.45" y="30.1" class="lg">Sim</text>
<line x1="423.75" y1="26.8" x2="448.05" y2="26.8" stroke="#000000" stroke-width="1.6"/>
<circle cx="435.90" cy="13.4" r="2.6" fill="url(#gk)"/>
<text x="450.75" y="16.6" class="lg">0A</text>
<text x="450.75" y="30.1" class="lg">0A</text>
<line x1="466.35" y1="26.8" x2="491.25" y2="26.8" stroke="#1010ff" stroke-width="1.6"/>
<circle cx="478.80" cy="13.4" r="2.6" fill="url(#gb)"/>
<text x="493.45" y="16.6" class="lg">0.25A</text>
<text x="493.45" y="30.1" class="lg">0.25A</text>
<line x1="522.45" y1="26.8" x2="547.35" y2="26.8" stroke="#ff1010" stroke-width="1.6"/>
<circle cx="534.90" cy="13.4" r="2.6" fill="url(#gr)"/>
<text x="550.05" y="16.6" class="lg">0.5A</text>
<text x="550.05" y="30.1" class="lg">0.5A</text>
<line x1="573.05" y1="26.8" x2="598.05" y2="26.8" stroke="#10ff10" stroke-width="1.6"/>
<circle cx="585.55" cy="13.4" r="2.6" fill="url(#gg)"/>
<text x="600.65" y="16.6" class="lg">0.75A</text>
<text x="600.65" y="30.1" class="lg">0.75A</text>
<line x1="629.25" y1="26.8" x2="654.45" y2="26.8" stroke="#cf2bff" stroke-width="1.6"/>
<circle cx="641.85" cy="13.4" r="2.6" fill="url(#gm)"/>
<text x="656.45" y="16.6" class="lg">1A</text>
<text x="656.45" y="30.1" class="lg">1A</text>
</svg>
</body></html>
